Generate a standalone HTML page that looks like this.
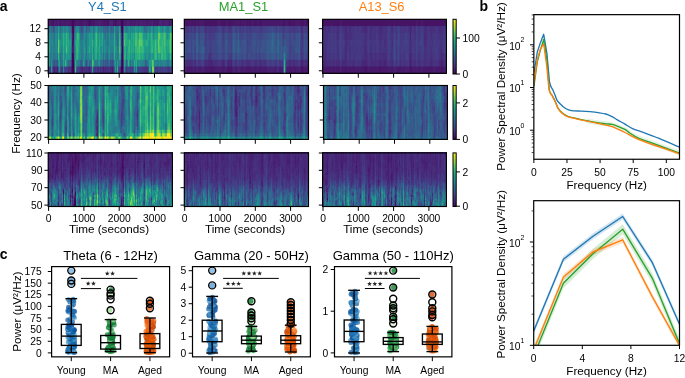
<!DOCTYPE html>
<html><head><meta charset="utf-8"><title>figure</title>
<style>
html,body{margin:0;padding:0;background:#fff;}
body{width:685px;height:378px;overflow:hidden;position:relative;}
canvas{position:absolute;display:block;}
svg{position:absolute;left:0;top:0;}
svg text{font-family:"Liberation Sans", sans-serif;}
</style></head><body>
<canvas id="s00" width="125" height="55" style="left:48px;top:19px;width:125px;height:55px;background:linear-gradient(#481b6d 0.5%,#481b6d 12.8%,#297a8e 12.8%,#297a8e 25.1%,#1f958b 25.1%,#1f958b 37.4%,#1e9c89 37.4%,#1e9c89 49.6%,#1f9a8a 49.6%,#1f9a8a 61.9%,#218f8d 61.9%,#218f8d 74.2%,#29798e 74.2%,#29798e 86.5%,#404688 86.5%,#404688 98.7%)"></canvas>
<canvas id="s01" width="125" height="55" style="left:184px;top:19px;width:125px;height:55px;background:linear-gradient(#481668 0.5%,#481668 12.8%,#433e85 12.8%,#433e85 25.1%,#3e4a89 25.1%,#3e4a89 37.4%,#3c508b 37.4%,#3c508b 49.6%,#3b518b 49.6%,#3b518b 61.9%,#3e4c8a 61.9%,#3e4c8a 74.2%,#463480 74.2%,#463480 86.5%,#481f70 86.5%,#481f70 98.7%)"></canvas>
<canvas id="s02" width="125" height="55" style="left:322px;top:19px;width:125px;height:55px;background:linear-gradient(#481467 0.5%,#481467 12.8%,#46327e 12.8%,#46327e 25.1%,#453581 25.1%,#453581 37.4%,#443983 37.4%,#443983 49.6%,#453882 49.6%,#453882 61.9%,#453581 61.9%,#453581 74.2%,#472e7c 74.2%,#472e7c 86.5%,#481a6c 86.5%,#481a6c 98.7%)"></canvas>
<canvas id="s10" width="125" height="55" style="left:48px;top:85px;width:125px;height:55px;background:linear-gradient(#23888e -0.9%,#23888e 1.7%,#24878e 1.7%,#24878e 7.8%,#24868e 7.8%,#24868e 14.0%,#24878e 14.0%,#24878e 20.1%,#24878e 20.1%,#24878e 26.2%,#23888e 26.2%,#23888e 32.4%,#238a8d 32.4%,#238a8d 38.5%,#238a8d 38.5%,#238a8d 44.6%,#23898e 44.6%,#23898e 50.7%,#23888e 50.7%,#23888e 56.9%,#24878e 56.9%,#24878e 63.0%,#24868e 63.0%,#24868e 69.1%,#24868e 69.1%,#24868e 75.3%,#23898e 75.3%,#23898e 81.4%,#21918c 81.4%,#21918c 87.5%,#1fa287 87.5%,#1fa287 93.7%,#7cd250 93.7%,#7cd250 99.8%,#70cf57 99.8%,#70cf57 100.7%)"></canvas>
<canvas id="s11" width="125" height="55" style="left:184px;top:85px;width:125px;height:55px;background:linear-gradient(#3c508b -0.9%,#3c508b 1.7%,#3c508b 1.7%,#3c508b 7.8%,#3c4f8a 7.8%,#3c4f8a 14.0%,#3c4f8a 14.0%,#3c4f8a 20.1%,#3c4f8a 20.1%,#3c4f8a 26.2%,#3c508b 26.2%,#3c508b 32.4%,#3c508b 32.4%,#3c508b 38.5%,#3b518b 38.5%,#3b518b 44.6%,#3b528b 44.6%,#3b528b 50.7%,#3b518b 50.7%,#3b518b 56.9%,#3b518b 56.9%,#3b518b 63.0%,#3b528b 63.0%,#3b528b 69.1%,#3a538b 69.1%,#3a538b 75.3%,#39558c 75.3%,#39558c 81.4%,#375a8c 81.4%,#375a8c 87.5%,#31668e 87.5%,#31668e 93.7%,#23898e 93.7%,#23898e 99.8%,#228b8d 99.8%,#228b8d 100.7%)"></canvas>
<canvas id="s12" width="125" height="55" style="left:323px;top:85px;width:125px;height:55px;background:linear-gradient(#375a8c -0.9%,#375a8c 1.7%,#38598c 1.7%,#38598c 7.8%,#375b8d 7.8%,#375b8d 14.0%,#375b8d 14.0%,#375b8d 20.1%,#365c8d 20.1%,#365c8d 26.2%,#375b8d 26.2%,#375b8d 32.4%,#375b8d 32.4%,#375b8d 38.5%,#375a8c 38.5%,#375a8c 44.6%,#375a8c 44.6%,#375a8c 50.7%,#375a8c 50.7%,#375a8c 56.9%,#38588c 56.9%,#38588c 63.0%,#38588c 63.0%,#38588c 69.1%,#375a8c 69.1%,#375a8c 75.3%,#375a8c 75.3%,#375a8c 81.4%,#375b8d 81.4%,#375b8d 87.5%,#355e8d 87.5%,#355e8d 93.7%,#31688e 93.7%,#31688e 99.8%,#31678e 99.8%,#31678e 100.7%)"></canvas>
<canvas id="s20" width="125" height="55" style="left:48px;top:152px;width:125px;height:55px;background:linear-gradient(#482677 -0.2%,#482677 1.3%,#482677 1.3%,#482677 4.3%,#482677 4.3%,#482677 7.4%,#482878 7.4%,#482878 10.5%,#482878 10.5%,#482878 13.6%,#482677 13.6%,#482677 16.7%,#482677 16.7%,#482677 19.7%,#482878 19.7%,#482878 22.8%,#482878 22.8%,#482878 25.9%,#482979 25.9%,#482979 29.0%,#472a7a 29.0%,#472a7a 32.1%,#472c7a 32.1%,#472c7a 35.2%,#472e7c 35.2%,#472e7c 38.2%,#46307e 38.2%,#46307e 41.3%,#463480 41.3%,#463480 44.4%,#443983 44.4%,#443983 47.5%,#423f85 47.5%,#423f85 50.6%,#404688 50.6%,#404688 53.6%,#3c4f8a 53.6%,#3c4f8a 56.7%,#375a8c 56.7%,#375a8c 59.8%,#33628d 59.8%,#33628d 62.9%,#30698e 62.9%,#30698e 66.0%,#2d708e 66.0%,#2d708e 69.1%,#2a778e 69.1%,#2a778e 72.1%,#297a8e 72.1%,#297a8e 75.2%,#277f8e 75.2%,#277f8e 78.3%,#25848e 78.3%,#25848e 81.4%,#26828e 81.4%,#26828e 84.5%,#26828e 84.5%,#26828e 87.6%,#26828e 87.6%,#26828e 90.6%,#26828e 90.6%,#26828e 93.7%,#277f8e 93.7%,#277f8e 96.8%,#277f8e 96.8%,#277f8e 99.9%,#287d8e 99.9%,#287d8e 100.9%)"></canvas>
<canvas id="s21" width="125" height="55" style="left:184px;top:152px;width:125px;height:55px;background:linear-gradient(#472a7a -0.2%,#472a7a 1.3%,#482979 1.3%,#482979 4.3%,#482979 4.3%,#482979 7.4%,#482979 7.4%,#482979 10.5%,#482979 10.5%,#482979 13.6%,#482979 13.6%,#482979 16.7%,#482979 16.7%,#482979 19.7%,#482979 19.7%,#482979 22.8%,#482979 22.8%,#482979 25.9%,#472a7a 25.9%,#472a7a 29.0%,#472a7a 29.0%,#472a7a 32.1%,#472c7a 32.1%,#472c7a 35.2%,#472d7b 35.2%,#472d7b 38.2%,#472e7c 38.2%,#472e7c 41.3%,#472f7d 41.3%,#472f7d 44.4%,#46307e 44.4%,#46307e 47.5%,#46327e 47.5%,#46327e 50.6%,#453581 50.6%,#453581 53.6%,#453882 53.6%,#453882 56.7%,#433d84 56.7%,#433d84 59.8%,#424086 59.8%,#424086 62.9%,#404688 62.9%,#404688 66.0%,#3e4c8a 66.0%,#3e4c8a 69.1%,#3b518b 69.1%,#3b518b 72.1%,#39568c 72.1%,#39568c 75.2%,#375a8c 75.2%,#375a8c 78.3%,#355e8d 78.3%,#355e8d 81.4%,#34618d 81.4%,#34618d 84.5%,#32658e 84.5%,#32658e 87.6%,#31688e 87.6%,#31688e 90.6%,#30698e 90.6%,#30698e 93.7%,#306a8e 93.7%,#306a8e 96.8%,#2e6d8e 96.8%,#2e6d8e 99.9%,#2e6d8e 99.9%,#2e6d8e 100.9%)"></canvas>
<canvas id="s22" width="125" height="55" style="left:322px;top:152px;width:125px;height:55px;background:linear-gradient(#482878 -0.2%,#482878 1.3%,#482979 1.3%,#482979 4.3%,#482878 4.3%,#482878 7.4%,#482878 7.4%,#482878 10.5%,#482878 10.5%,#482878 13.6%,#482878 13.6%,#482878 16.7%,#482878 16.7%,#482878 19.7%,#482979 19.7%,#482979 22.8%,#482979 22.8%,#482979 25.9%,#482979 25.9%,#482979 29.0%,#472a7a 29.0%,#472a7a 32.1%,#472a7a 32.1%,#472a7a 35.2%,#472c7a 35.2%,#472c7a 38.2%,#472e7c 38.2%,#472e7c 41.3%,#472f7d 41.3%,#472f7d 44.4%,#46327e 44.4%,#46327e 47.5%,#463480 47.5%,#463480 50.6%,#453882 50.6%,#453882 53.6%,#433d84 53.6%,#433d84 56.7%,#414287 56.7%,#414287 59.8%,#3f4889 59.8%,#3f4889 62.9%,#3c4f8a 62.9%,#3c4f8a 66.0%,#39558c 66.0%,#39558c 69.1%,#365c8d 69.1%,#365c8d 72.1%,#34608d 72.1%,#34608d 75.2%,#33628d 75.2%,#33628d 78.3%,#31678e 78.3%,#31678e 81.4%,#30698e 81.4%,#30698e 84.5%,#2f6b8e 84.5%,#2f6b8e 87.6%,#306a8e 87.6%,#306a8e 90.6%,#2f6c8e 90.6%,#2f6c8e 93.7%,#306a8e 93.7%,#306a8e 96.8%,#2e6d8e 96.8%,#2e6d8e 99.9%,#2f6c8e 99.9%,#2f6c8e 100.9%)"></canvas>
<svg width="685" height="378" viewBox="0 0 685 378">
<defs><linearGradient id="vir" x1="0" y1="0" x2="0" y2="1"><stop offset="0.00" stop-color="#fde725"/><stop offset="0.10" stop-color="#bddf26"/><stop offset="0.20" stop-color="#7ad151"/><stop offset="0.30" stop-color="#44bf70"/><stop offset="0.40" stop-color="#22a884"/><stop offset="0.50" stop-color="#21918c"/><stop offset="0.60" stop-color="#2a788e"/><stop offset="0.70" stop-color="#355f8d"/><stop offset="0.80" stop-color="#414487"/><stop offset="0.90" stop-color="#482475"/><stop offset="1.00" stop-color="#440154"/></linearGradient></defs>
<rect x="48.20" y="19.30" width="124.20" height="54.00" fill="none" stroke="#000" stroke-width="1.15"/>
<rect x="184.30" y="19.30" width="124.20" height="54.00" fill="none" stroke="#000" stroke-width="1.15"/>
<rect x="322.60" y="19.30" width="123.80" height="54.00" fill="none" stroke="#000" stroke-width="1.15"/>
<rect x="48.20" y="85.50" width="124.20" height="53.90" fill="none" stroke="#000" stroke-width="1.15"/>
<rect x="184.30" y="85.50" width="124.20" height="53.90" fill="none" stroke="#000" stroke-width="1.15"/>
<rect x="323.50" y="85.50" width="123.90" height="53.90" fill="none" stroke="#000" stroke-width="1.15"/>
<rect x="48.20" y="152.90" width="124.20" height="53.60" fill="none" stroke="#000" stroke-width="1.15"/>
<rect x="184.30" y="152.90" width="124.20" height="53.60" fill="none" stroke="#000" stroke-width="1.15"/>
<rect x="322.60" y="152.90" width="123.80" height="53.60" fill="none" stroke="#000" stroke-width="1.15"/>
<line x1="44.40" y1="70.80" x2="48.20" y2="70.80" stroke="#000" stroke-width="1.0"/>
<text x="40.90" y="74.46" font-size="10.3" text-anchor="end">0</text>
<line x1="44.40" y1="56.80" x2="48.20" y2="56.80" stroke="#000" stroke-width="1.0"/>
<text x="40.90" y="60.46" font-size="10.3" text-anchor="end">4</text>
<line x1="44.40" y1="42.80" x2="48.20" y2="42.80" stroke="#000" stroke-width="1.0"/>
<text x="40.90" y="46.46" font-size="10.3" text-anchor="end">8</text>
<line x1="44.40" y1="28.70" x2="48.20" y2="28.70" stroke="#000" stroke-width="1.0"/>
<text x="40.90" y="32.36" font-size="10.3" text-anchor="end">12</text>
<line x1="48.60" y1="73.30" x2="48.60" y2="77.70" stroke="#000" stroke-width="1.0"/>
<line x1="83.90" y1="73.30" x2="83.90" y2="77.70" stroke="#000" stroke-width="1.0"/>
<line x1="119.20" y1="73.30" x2="119.20" y2="77.70" stroke="#000" stroke-width="1.0"/>
<line x1="154.50" y1="73.30" x2="154.50" y2="77.70" stroke="#000" stroke-width="1.0"/>
<line x1="180.50" y1="70.80" x2="184.30" y2="70.80" stroke="#000" stroke-width="1.0"/>
<line x1="180.50" y1="56.80" x2="184.30" y2="56.80" stroke="#000" stroke-width="1.0"/>
<line x1="180.50" y1="42.80" x2="184.30" y2="42.80" stroke="#000" stroke-width="1.0"/>
<line x1="180.50" y1="28.70" x2="184.30" y2="28.70" stroke="#000" stroke-width="1.0"/>
<line x1="184.70" y1="73.30" x2="184.70" y2="77.70" stroke="#000" stroke-width="1.0"/>
<line x1="220.00" y1="73.30" x2="220.00" y2="77.70" stroke="#000" stroke-width="1.0"/>
<line x1="255.30" y1="73.30" x2="255.30" y2="77.70" stroke="#000" stroke-width="1.0"/>
<line x1="290.60" y1="73.30" x2="290.60" y2="77.70" stroke="#000" stroke-width="1.0"/>
<line x1="318.80" y1="70.80" x2="322.60" y2="70.80" stroke="#000" stroke-width="1.0"/>
<line x1="318.80" y1="56.80" x2="322.60" y2="56.80" stroke="#000" stroke-width="1.0"/>
<line x1="318.80" y1="42.80" x2="322.60" y2="42.80" stroke="#000" stroke-width="1.0"/>
<line x1="318.80" y1="28.70" x2="322.60" y2="28.70" stroke="#000" stroke-width="1.0"/>
<line x1="323.00" y1="73.30" x2="323.00" y2="77.70" stroke="#000" stroke-width="1.0"/>
<line x1="358.30" y1="73.30" x2="358.30" y2="77.70" stroke="#000" stroke-width="1.0"/>
<line x1="393.60" y1="73.30" x2="393.60" y2="77.70" stroke="#000" stroke-width="1.0"/>
<line x1="428.90" y1="73.30" x2="428.90" y2="77.70" stroke="#000" stroke-width="1.0"/>
<line x1="44.40" y1="137.30" x2="48.20" y2="137.30" stroke="#000" stroke-width="1.0"/>
<text x="41.80" y="140.96" font-size="10.3" text-anchor="end">20</text>
<line x1="44.40" y1="120.00" x2="48.20" y2="120.00" stroke="#000" stroke-width="1.0"/>
<text x="41.80" y="123.66" font-size="10.3" text-anchor="end">30</text>
<line x1="44.40" y1="102.70" x2="48.20" y2="102.70" stroke="#000" stroke-width="1.0"/>
<text x="41.80" y="106.36" font-size="10.3" text-anchor="end">40</text>
<line x1="44.40" y1="85.50" x2="48.20" y2="85.50" stroke="#000" stroke-width="1.0"/>
<text x="41.80" y="89.16" font-size="10.3" text-anchor="end">50</text>
<line x1="48.60" y1="139.40" x2="48.60" y2="143.80" stroke="#000" stroke-width="1.0"/>
<line x1="83.90" y1="139.40" x2="83.90" y2="143.80" stroke="#000" stroke-width="1.0"/>
<line x1="119.20" y1="139.40" x2="119.20" y2="143.80" stroke="#000" stroke-width="1.0"/>
<line x1="154.50" y1="139.40" x2="154.50" y2="143.80" stroke="#000" stroke-width="1.0"/>
<line x1="180.50" y1="137.30" x2="184.30" y2="137.30" stroke="#000" stroke-width="1.0"/>
<line x1="180.50" y1="120.00" x2="184.30" y2="120.00" stroke="#000" stroke-width="1.0"/>
<line x1="180.50" y1="102.70" x2="184.30" y2="102.70" stroke="#000" stroke-width="1.0"/>
<line x1="180.50" y1="85.50" x2="184.30" y2="85.50" stroke="#000" stroke-width="1.0"/>
<line x1="184.70" y1="139.40" x2="184.70" y2="143.80" stroke="#000" stroke-width="1.0"/>
<line x1="220.00" y1="139.40" x2="220.00" y2="143.80" stroke="#000" stroke-width="1.0"/>
<line x1="255.30" y1="139.40" x2="255.30" y2="143.80" stroke="#000" stroke-width="1.0"/>
<line x1="290.60" y1="139.40" x2="290.60" y2="143.80" stroke="#000" stroke-width="1.0"/>
<line x1="319.70" y1="137.30" x2="323.50" y2="137.30" stroke="#000" stroke-width="1.0"/>
<line x1="319.70" y1="120.00" x2="323.50" y2="120.00" stroke="#000" stroke-width="1.0"/>
<line x1="319.70" y1="102.70" x2="323.50" y2="102.70" stroke="#000" stroke-width="1.0"/>
<line x1="319.70" y1="85.50" x2="323.50" y2="85.50" stroke="#000" stroke-width="1.0"/>
<line x1="323.90" y1="139.40" x2="323.90" y2="143.80" stroke="#000" stroke-width="1.0"/>
<line x1="359.20" y1="139.40" x2="359.20" y2="143.80" stroke="#000" stroke-width="1.0"/>
<line x1="394.50" y1="139.40" x2="394.50" y2="143.80" stroke="#000" stroke-width="1.0"/>
<line x1="429.80" y1="139.40" x2="429.80" y2="143.80" stroke="#000" stroke-width="1.0"/>
<line x1="44.40" y1="205.10" x2="48.20" y2="205.10" stroke="#000" stroke-width="1.0"/>
<text x="42.50" y="208.76" font-size="10.3" text-anchor="end">50</text>
<line x1="44.40" y1="187.70" x2="48.20" y2="187.70" stroke="#000" stroke-width="1.0"/>
<text x="42.50" y="191.36" font-size="10.3" text-anchor="end">70</text>
<line x1="44.40" y1="170.30" x2="48.20" y2="170.30" stroke="#000" stroke-width="1.0"/>
<text x="42.50" y="173.96" font-size="10.3" text-anchor="end">90</text>
<line x1="44.40" y1="153.00" x2="48.20" y2="153.00" stroke="#000" stroke-width="1.0"/>
<text x="42.50" y="156.66" font-size="10.3" text-anchor="end">110</text>
<line x1="48.60" y1="206.50" x2="48.60" y2="210.90" stroke="#000" stroke-width="1.0"/>
<text x="48.60" y="221.96" font-size="10.3" text-anchor="middle">0</text>
<line x1="83.90" y1="206.50" x2="83.90" y2="210.90" stroke="#000" stroke-width="1.0"/>
<text x="83.90" y="221.96" font-size="10.3" text-anchor="middle">1000</text>
<line x1="119.20" y1="206.50" x2="119.20" y2="210.90" stroke="#000" stroke-width="1.0"/>
<text x="119.20" y="221.96" font-size="10.3" text-anchor="middle">2000</text>
<line x1="154.50" y1="206.50" x2="154.50" y2="210.90" stroke="#000" stroke-width="1.0"/>
<text x="154.50" y="221.96" font-size="10.3" text-anchor="middle">3000</text>
<text x="109.00" y="232.90" font-size="11.7" text-anchor="middle">Time (seconds)</text>
<line x1="180.50" y1="205.10" x2="184.30" y2="205.10" stroke="#000" stroke-width="1.0"/>
<line x1="180.50" y1="187.70" x2="184.30" y2="187.70" stroke="#000" stroke-width="1.0"/>
<line x1="180.50" y1="170.30" x2="184.30" y2="170.30" stroke="#000" stroke-width="1.0"/>
<line x1="180.50" y1="153.00" x2="184.30" y2="153.00" stroke="#000" stroke-width="1.0"/>
<line x1="184.70" y1="206.50" x2="184.70" y2="210.90" stroke="#000" stroke-width="1.0"/>
<text x="184.70" y="221.96" font-size="10.3" text-anchor="middle">0</text>
<line x1="220.00" y1="206.50" x2="220.00" y2="210.90" stroke="#000" stroke-width="1.0"/>
<text x="220.00" y="221.96" font-size="10.3" text-anchor="middle">1000</text>
<line x1="255.30" y1="206.50" x2="255.30" y2="210.90" stroke="#000" stroke-width="1.0"/>
<text x="255.30" y="221.96" font-size="10.3" text-anchor="middle">2000</text>
<line x1="290.60" y1="206.50" x2="290.60" y2="210.90" stroke="#000" stroke-width="1.0"/>
<text x="290.60" y="221.96" font-size="10.3" text-anchor="middle">3000</text>
<text x="245.10" y="232.90" font-size="11.7" text-anchor="middle">Time (seconds)</text>
<line x1="318.80" y1="205.10" x2="322.60" y2="205.10" stroke="#000" stroke-width="1.0"/>
<line x1="318.80" y1="187.70" x2="322.60" y2="187.70" stroke="#000" stroke-width="1.0"/>
<line x1="318.80" y1="170.30" x2="322.60" y2="170.30" stroke="#000" stroke-width="1.0"/>
<line x1="318.80" y1="153.00" x2="322.60" y2="153.00" stroke="#000" stroke-width="1.0"/>
<line x1="323.00" y1="206.50" x2="323.00" y2="210.90" stroke="#000" stroke-width="1.0"/>
<text x="323.00" y="221.96" font-size="10.3" text-anchor="middle">0</text>
<line x1="358.30" y1="206.50" x2="358.30" y2="210.90" stroke="#000" stroke-width="1.0"/>
<text x="358.30" y="221.96" font-size="10.3" text-anchor="middle">1000</text>
<line x1="393.60" y1="206.50" x2="393.60" y2="210.90" stroke="#000" stroke-width="1.0"/>
<text x="393.60" y="221.96" font-size="10.3" text-anchor="middle">2000</text>
<line x1="428.90" y1="206.50" x2="428.90" y2="210.90" stroke="#000" stroke-width="1.0"/>
<text x="428.90" y="221.96" font-size="10.3" text-anchor="middle">3000</text>
<text x="383.20" y="232.90" font-size="11.7" text-anchor="middle">Time (seconds)</text>
<text x="107.40" y="11.00" font-size="12.9" text-anchor="middle" fill="#1f77b4">Y4_S1</text>
<text x="243.50" y="11.00" font-size="12.9" text-anchor="middle" fill="#2ca02c">MA1_S1</text>
<text x="381.60" y="11.00" font-size="12.9" text-anchor="middle" fill="#ff7f0e">A13_S6</text>
<text x="20.40" y="113.60" font-size="11.7" text-anchor="middle" transform="rotate(-90 20.40 113.60)">Frequency (Hz)</text>
<rect x="453.00" y="19.30" width="3.20" height="54.70" fill="url(#vir)" stroke="#000" stroke-width="1"/>
<line x1="456.20" y1="74.00" x2="460.00" y2="74.00" stroke="#000" stroke-width="1.0"/>
<text x="462.50" y="77.66" font-size="10.3">0</text>
<line x1="456.20" y1="38.00" x2="460.00" y2="38.00" stroke="#000" stroke-width="1.0"/>
<text x="462.50" y="41.66" font-size="10.3">100</text>
<rect x="453.00" y="85.50" width="3.20" height="53.90" fill="url(#vir)" stroke="#000" stroke-width="1"/>
<line x1="456.20" y1="139.40" x2="460.00" y2="139.40" stroke="#000" stroke-width="1.0"/>
<text x="462.50" y="143.06" font-size="10.3">0</text>
<line x1="456.20" y1="102.90" x2="460.00" y2="102.90" stroke="#000" stroke-width="1.0"/>
<text x="462.50" y="106.56" font-size="10.3">2</text>
<rect x="453.00" y="152.90" width="3.20" height="53.60" fill="url(#vir)" stroke="#000" stroke-width="1"/>
<line x1="456.20" y1="206.20" x2="460.00" y2="206.20" stroke="#000" stroke-width="1.0"/>
<text x="462.50" y="209.86" font-size="10.3">0</text>
<line x1="456.20" y1="171.90" x2="460.00" y2="171.90" stroke="#000" stroke-width="1.0"/>
<text x="462.50" y="175.56" font-size="10.3">2</text>
<line x1="530.05" y1="44.80" x2="533.85" y2="44.80" stroke="#000" stroke-width="1.0"/>
<text x="524.45" y="49.66" font-size="10.3" text-anchor="end">10<tspan dy="-7.2" font-size="6.9">2</tspan></text>
<line x1="530.05" y1="87.50" x2="533.85" y2="87.50" stroke="#000" stroke-width="1.0"/>
<text x="524.45" y="92.36" font-size="10.3" text-anchor="end">10<tspan dy="-7.2" font-size="6.9">1</tspan></text>
<line x1="530.05" y1="130.20" x2="533.85" y2="130.20" stroke="#000" stroke-width="1.0"/>
<text x="524.45" y="135.06" font-size="10.3" text-anchor="end">10<tspan dy="-7.2" font-size="6.9">0</tspan></text>
<line x1="531.65" y1="152.53" x2="533.85" y2="152.53" stroke="#000" stroke-width="0.7"/>
<line x1="531.65" y1="147.19" x2="533.85" y2="147.19" stroke="#000" stroke-width="0.7"/>
<line x1="531.65" y1="143.05" x2="533.85" y2="143.05" stroke="#000" stroke-width="0.7"/>
<line x1="531.65" y1="139.67" x2="533.85" y2="139.67" stroke="#000" stroke-width="0.7"/>
<line x1="531.65" y1="136.81" x2="533.85" y2="136.81" stroke="#000" stroke-width="0.7"/>
<line x1="531.65" y1="134.34" x2="533.85" y2="134.34" stroke="#000" stroke-width="0.7"/>
<line x1="531.65" y1="132.15" x2="533.85" y2="132.15" stroke="#000" stroke-width="0.7"/>
<line x1="531.65" y1="117.35" x2="533.85" y2="117.35" stroke="#000" stroke-width="0.7"/>
<line x1="531.65" y1="109.83" x2="533.85" y2="109.83" stroke="#000" stroke-width="0.7"/>
<line x1="531.65" y1="104.49" x2="533.85" y2="104.49" stroke="#000" stroke-width="0.7"/>
<line x1="531.65" y1="100.35" x2="533.85" y2="100.35" stroke="#000" stroke-width="0.7"/>
<line x1="531.65" y1="96.97" x2="533.85" y2="96.97" stroke="#000" stroke-width="0.7"/>
<line x1="531.65" y1="94.11" x2="533.85" y2="94.11" stroke="#000" stroke-width="0.7"/>
<line x1="531.65" y1="91.64" x2="533.85" y2="91.64" stroke="#000" stroke-width="0.7"/>
<line x1="531.65" y1="89.45" x2="533.85" y2="89.45" stroke="#000" stroke-width="0.7"/>
<line x1="531.65" y1="74.65" x2="533.85" y2="74.65" stroke="#000" stroke-width="0.7"/>
<line x1="531.65" y1="67.13" x2="533.85" y2="67.13" stroke="#000" stroke-width="0.7"/>
<line x1="531.65" y1="61.79" x2="533.85" y2="61.79" stroke="#000" stroke-width="0.7"/>
<line x1="531.65" y1="57.65" x2="533.85" y2="57.65" stroke="#000" stroke-width="0.7"/>
<line x1="531.65" y1="54.27" x2="533.85" y2="54.27" stroke="#000" stroke-width="0.7"/>
<line x1="531.65" y1="51.41" x2="533.85" y2="51.41" stroke="#000" stroke-width="0.7"/>
<line x1="531.65" y1="48.94" x2="533.85" y2="48.94" stroke="#000" stroke-width="0.7"/>
<line x1="531.65" y1="46.75" x2="533.85" y2="46.75" stroke="#000" stroke-width="0.7"/>
<line x1="531.65" y1="31.95" x2="533.85" y2="31.95" stroke="#000" stroke-width="0.7"/>
<line x1="531.65" y1="24.43" x2="533.85" y2="24.43" stroke="#000" stroke-width="0.7"/>
<line x1="531.65" y1="19.09" x2="533.85" y2="19.09" stroke="#000" stroke-width="0.7"/>
<line x1="531.65" y1="14.95" x2="533.85" y2="14.95" stroke="#000" stroke-width="0.7"/>
<line x1="533.85" y1="159.25" x2="533.85" y2="163.05" stroke="#000" stroke-width="1.0"/>
<text x="533.85" y="175.86" font-size="10.3" text-anchor="middle">0</text>
<line x1="566.96" y1="159.25" x2="566.96" y2="163.05" stroke="#000" stroke-width="1.0"/>
<text x="566.96" y="175.86" font-size="10.3" text-anchor="middle">25</text>
<line x1="600.08" y1="159.25" x2="600.08" y2="163.05" stroke="#000" stroke-width="1.0"/>
<text x="600.08" y="175.86" font-size="10.3" text-anchor="middle">50</text>
<line x1="633.19" y1="159.25" x2="633.19" y2="163.05" stroke="#000" stroke-width="1.0"/>
<text x="633.19" y="175.86" font-size="10.3" text-anchor="middle">75</text>
<line x1="666.30" y1="159.25" x2="666.30" y2="163.05" stroke="#000" stroke-width="1.0"/>
<text x="666.30" y="175.86" font-size="10.3" text-anchor="middle">100</text>
<text x="606.67" y="189.00" font-size="11.7" text-anchor="middle">Frequency (Hz)</text>
<text x="504.60" y="86.60" font-size="11.7" text-anchor="middle" transform="rotate(-90 504.60 86.60)">Power Spectral Density (μV²/Hz)</text>
<line x1="529.90" y1="242.00" x2="533.70" y2="242.00" stroke="#000" stroke-width="1.0"/>
<text x="524.30" y="246.86" font-size="10.3" text-anchor="end">10<tspan dy="-7.2" font-size="6.9">2</tspan></text>
<line x1="529.90" y1="345.30" x2="533.70" y2="345.30" stroke="#000" stroke-width="1.0"/>
<text x="524.30" y="350.16" font-size="10.3" text-anchor="end">10<tspan dy="-7.2" font-size="6.9">1</tspan></text>
<line x1="531.50" y1="314.20" x2="533.70" y2="314.20" stroke="#000" stroke-width="0.7"/>
<line x1="531.50" y1="296.01" x2="533.70" y2="296.01" stroke="#000" stroke-width="0.7"/>
<line x1="531.50" y1="283.11" x2="533.70" y2="283.11" stroke="#000" stroke-width="0.7"/>
<line x1="531.50" y1="273.10" x2="533.70" y2="273.10" stroke="#000" stroke-width="0.7"/>
<line x1="531.50" y1="264.92" x2="533.70" y2="264.92" stroke="#000" stroke-width="0.7"/>
<line x1="531.50" y1="258.00" x2="533.70" y2="258.00" stroke="#000" stroke-width="0.7"/>
<line x1="531.50" y1="252.01" x2="533.70" y2="252.01" stroke="#000" stroke-width="0.7"/>
<line x1="531.50" y1="246.73" x2="533.70" y2="246.73" stroke="#000" stroke-width="0.7"/>
<line x1="531.50" y1="210.90" x2="533.70" y2="210.90" stroke="#000" stroke-width="0.7"/>
<line x1="533.70" y1="345.30" x2="533.70" y2="349.10" stroke="#000" stroke-width="1.0"/>
<text x="533.70" y="362.16" font-size="10.3" text-anchor="middle">0</text>
<line x1="582.30" y1="345.30" x2="582.30" y2="349.10" stroke="#000" stroke-width="1.0"/>
<text x="582.30" y="362.16" font-size="10.3" text-anchor="middle">4</text>
<line x1="630.90" y1="345.30" x2="630.90" y2="349.10" stroke="#000" stroke-width="1.0"/>
<text x="630.90" y="362.16" font-size="10.3" text-anchor="middle">8</text>
<line x1="679.50" y1="345.30" x2="679.50" y2="349.10" stroke="#000" stroke-width="1.0"/>
<text x="679.50" y="362.16" font-size="10.3" text-anchor="middle">12</text>
<text x="606.60" y="374.50" font-size="11.7" text-anchor="middle">Frequency (Hz)</text>
<text x="504.60" y="274.20" font-size="11.7" text-anchor="middle" transform="rotate(-90 504.60 274.20)">Power Spectral Density (μV²/Hz)</text>
<clipPath id="cpt"><rect x="533.85" y="14.65" width="145.64999999999998" height="144.6"/></clipPath>
<clipPath id="cpb"><rect x="533.7" y="200.7" width="145.79999999999995" height="144.60000000000002"/></clipPath>
<g clip-path="url(#cpt)">
<polygon points="586.7,118.2 597.3,120.2 605.8,121.3 612.1,121.9 618.4,124.2 625.0,126.9 630.0,130.7 637.9,135.3 653.8,141.2 679.5,150.6 679.5,155.6 653.8,146.2 637.9,140.3 630.0,135.7 625.0,131.9 618.4,129.2 612.1,126.9 605.8,126.3 597.3,125.2 586.7,123.2" fill="#2ca02c" fill-opacity="0.13" stroke="none"/>
<path d="M533.90,73.50L537.30,52.00L540.50,42.40L543.70,34.30L546.90,53.30L549.40,81.30C550.40,87.43 551.97,87.82 552.90,90.10C553.83,92.38 554.30,93.30 555.00,95.00C555.70,96.70 556.22,98.80 557.10,100.30C557.98,101.80 559.07,102.77 560.30,104.00C561.53,105.23 563.10,106.73 564.50,107.70C565.90,108.67 567.12,109.27 568.70,109.80C570.28,110.33 571.88,110.68 574.00,110.90C576.12,111.12 578.75,110.97 581.40,111.10C584.05,111.23 586.90,111.42 589.90,111.70C592.90,111.98 596.75,112.42 599.40,112.80C602.05,113.18 603.87,113.45 605.80,114.00C607.73,114.55 609.07,115.13 611.00,116.10C612.93,117.07 615.07,118.47 617.40,119.80C619.73,121.13 622.47,122.63 625.00,124.10C627.53,125.57 629.57,127.23 632.60,128.60C635.63,129.97 638.78,130.67 643.20,132.30C647.62,133.93 653.05,135.92 659.10,138.40C665.15,140.88 676.10,145.73 679.50,147.20" fill="none" stroke="#1f77b4" stroke-width="1.35" stroke-linejoin="round"/>
<path d="M533.90,86.50L537.30,61.90L540.50,49.70L543.70,39.50L546.90,59.80L549.20,89.00C550.07,94.90 551.13,93.22 552.10,95.20C553.07,97.18 553.98,98.72 555.00,100.90C556.02,103.08 556.97,106.27 558.20,108.30C559.43,110.33 560.82,111.77 562.40,113.10C563.98,114.43 565.42,115.42 567.70,116.30C569.98,117.18 572.93,117.67 576.10,118.40C579.27,119.13 583.17,119.98 586.70,120.70C590.23,121.42 594.12,122.18 597.30,122.70C600.48,123.22 603.33,123.52 605.80,123.80C608.27,124.08 610.00,123.92 612.10,124.40C614.20,124.88 616.25,125.87 618.40,126.70C620.55,127.53 623.07,128.32 625.00,129.40C626.93,130.48 627.85,131.80 630.00,133.20C632.15,134.60 633.93,136.05 637.90,137.80C641.87,139.55 646.87,141.15 653.80,143.70C660.73,146.25 675.22,151.53 679.50,153.10" fill="none" stroke="#2ca02c" stroke-width="1.35" stroke-linejoin="round"/>
<path d="M533.90,83.70L537.30,59.30L540.50,48.90L543.70,44.00L546.90,67.50L549.00,89.60C549.87,94.28 551.10,93.65 552.10,95.60C553.10,97.55 553.98,99.12 555.00,101.30C556.02,103.48 556.97,106.67 558.20,108.70C559.43,110.73 560.82,112.17 562.40,113.50C563.98,114.83 565.42,115.82 567.70,116.70C569.98,117.58 572.93,118.05 576.10,118.80C579.27,119.55 583.17,120.45 586.70,121.20C590.23,121.95 594.12,122.65 597.30,123.30C600.48,123.95 603.33,124.53 605.80,125.10C608.27,125.67 610.00,125.98 612.10,126.70C614.20,127.42 616.25,128.43 618.40,129.40C620.55,130.37 621.75,130.87 625.00,132.50C628.25,134.13 633.10,137.12 637.90,139.20C642.70,141.28 646.87,142.57 653.80,145.00C660.73,147.43 675.22,152.33 679.50,153.80" fill="none" stroke="#ff7f0e" stroke-width="1.35" stroke-linejoin="round"/>
</g>
<g clip-path="url(#cpb)">
<polygon points="533.7,327.9 563.4,256.3 593.0,233.2 622.7,213.5 652.4,259.7 682.0,326.9 682.0,332.9 652.4,265.7 622.7,219.5 593.0,239.2 563.4,262.3 533.7,333.9" fill="#1f77b4" fill-opacity="0.2" stroke="none"/>
<polygon points="533.7,350.9 563.4,278.3 593.0,248.7 622.7,224.2 652.4,273.3 682.0,344.7 682.0,354.7 652.4,283.3 622.7,234.2 593.0,258.7 563.4,288.3 533.7,360.9" fill="#2ca02c" fill-opacity="0.2" stroke="none"/>
<polygon points="533.7,346.7 563.4,274.0 593.0,249.0 622.7,236.9 652.4,293.9 682.0,347.0 682.0,353.0 652.4,299.9 622.7,242.9 593.0,255.0 563.4,280.0 533.7,352.7" fill="#ff7f0e" fill-opacity="0.2" stroke="none"/>
<polyline points="533.7,330.9 563.4,259.3 593.0,236.2 622.7,216.5 652.4,262.7 682.0,329.9" fill="none" stroke="#1f77b4" stroke-width="1.35" stroke-linejoin="round"/>
<polyline points="533.7,355.9 563.4,283.3 593.0,253.7 622.7,229.2 652.4,278.3 682.0,349.7" fill="none" stroke="#2ca02c" stroke-width="1.35" stroke-linejoin="round"/>
<polyline points="533.7,349.7 563.4,277.0 593.0,252.0 622.7,239.9 652.4,296.9 682.0,350.0" fill="none" stroke="#ff7f0e" stroke-width="1.35" stroke-linejoin="round"/>
</g>
<rect x="533.85" y="14.65" width="145.65" height="144.60" stroke="#000" stroke-width="1.2" fill="none"/>
<rect x="533.70" y="200.70" width="145.80" height="144.60" stroke="#000" stroke-width="1.2" fill="none"/>
<line x1="47.80" y1="352.90" x2="51.60" y2="352.90" stroke="#000" stroke-width="1.0"/>
<text x="41.70" y="356.56" font-size="10.3" text-anchor="end">0</text>
<line x1="47.80" y1="341.27" x2="51.60" y2="341.27" stroke="#000" stroke-width="1.0"/>
<text x="41.70" y="344.93" font-size="10.3" text-anchor="end">25</text>
<line x1="47.80" y1="329.64" x2="51.60" y2="329.64" stroke="#000" stroke-width="1.0"/>
<text x="41.70" y="333.30" font-size="10.3" text-anchor="end">50</text>
<line x1="47.80" y1="318.02" x2="51.60" y2="318.02" stroke="#000" stroke-width="1.0"/>
<text x="41.70" y="321.67" font-size="10.3" text-anchor="end">75</text>
<line x1="47.80" y1="306.39" x2="51.60" y2="306.39" stroke="#000" stroke-width="1.0"/>
<text x="41.70" y="310.05" font-size="10.3" text-anchor="end">100</text>
<line x1="47.80" y1="294.76" x2="51.60" y2="294.76" stroke="#000" stroke-width="1.0"/>
<text x="41.70" y="298.42" font-size="10.3" text-anchor="end">125</text>
<line x1="47.80" y1="283.13" x2="51.60" y2="283.13" stroke="#000" stroke-width="1.0"/>
<text x="41.70" y="286.79" font-size="10.3" text-anchor="end">150</text>
<line x1="47.80" y1="271.51" x2="51.60" y2="271.51" stroke="#000" stroke-width="1.0"/>
<text x="41.70" y="275.16" font-size="10.3" text-anchor="end">175</text>
<text x="110.60" y="260.20" font-size="13.0" text-anchor="middle">Theta (6 - 12Hz)</text>
<line x1="71.27" y1="356.85" x2="71.27" y2="361.15" stroke="#000" stroke-width="1.0"/>
<text x="71.27" y="373.60" font-size="10.3" text-anchor="middle">Young</text>
<rect x="61.37" y="324.40" width="19.8" height="21.00" fill="#fff" stroke="none"/>
<circle cx="73.2" cy="352.5" r="2.5" fill="#6aaed6" fill-opacity="0.75"/>
<circle cx="74.2" cy="352.4" r="2.5" fill="#2171b5" fill-opacity="0.75"/>
<circle cx="68.8" cy="352.3" r="2.5" fill="#2b7bba" fill-opacity="0.75"/>
<circle cx="74.4" cy="351.9" r="2.5" fill="#1f77b4" fill-opacity="0.75"/>
<circle cx="67.7" cy="351.7" r="2.5" fill="#1f77b4" fill-opacity="0.75"/>
<circle cx="73.1" cy="351.6" r="2.5" fill="#4a98c9" fill-opacity="0.75"/>
<circle cx="73.5" cy="351.5" r="2.5" fill="#1f77b4" fill-opacity="0.75"/>
<circle cx="68.7" cy="351.3" r="2.5" fill="#1f77b4" fill-opacity="0.75"/>
<circle cx="70.7" cy="350.9" r="2.5" fill="#6aaed6" fill-opacity="0.75"/>
<circle cx="73.5" cy="350.0" r="2.5" fill="#6aaed6" fill-opacity="0.75"/>
<circle cx="67.8" cy="349.8" r="2.5" fill="#1a5e9e" fill-opacity="0.75"/>
<circle cx="72.2" cy="349.1" r="2.5" fill="#08519c" fill-opacity="0.75"/>
<circle cx="73.4" cy="348.8" r="2.5" fill="#6aaed6" fill-opacity="0.75"/>
<circle cx="71.4" cy="348.4" r="2.5" fill="#6aaed6" fill-opacity="0.75"/>
<circle cx="72.9" cy="348.3" r="2.5" fill="#2171b5" fill-opacity="0.75"/>
<circle cx="69.3" cy="348.3" r="2.5" fill="#4a98c9" fill-opacity="0.75"/>
<circle cx="69.1" cy="348.2" r="2.5" fill="#1f77b4" fill-opacity="0.75"/>
<circle cx="70.3" cy="348.0" r="2.5" fill="#1f6bb0" fill-opacity="0.75"/>
<circle cx="69.0" cy="347.4" r="2.5" fill="#2b7bba" fill-opacity="0.75"/>
<circle cx="70.2" cy="347.1" r="2.5" fill="#1a5e9e" fill-opacity="0.75"/>
<circle cx="74.5" cy="347.1" r="2.5" fill="#1a5e9e" fill-opacity="0.75"/>
<circle cx="71.8" cy="346.8" r="2.5" fill="#1f6bb0" fill-opacity="0.75"/>
<circle cx="70.1" cy="346.4" r="2.5" fill="#1764ab" fill-opacity="0.75"/>
<circle cx="69.6" cy="346.4" r="2.5" fill="#1f77b4" fill-opacity="0.75"/>
<circle cx="74.5" cy="346.1" r="2.5" fill="#2171b5" fill-opacity="0.75"/>
<circle cx="70.9" cy="345.7" r="2.5" fill="#1a5e9e" fill-opacity="0.75"/>
<circle cx="74.7" cy="345.7" r="2.5" fill="#2171b5" fill-opacity="0.75"/>
<circle cx="71.4" cy="345.5" r="2.5" fill="#1f77b4" fill-opacity="0.75"/>
<circle cx="71.4" cy="345.2" r="2.5" fill="#6aaed6" fill-opacity="0.75"/>
<circle cx="74.1" cy="344.7" r="2.5" fill="#1a5e9e" fill-opacity="0.75"/>
<circle cx="73.0" cy="344.3" r="2.5" fill="#1a5e9e" fill-opacity="0.75"/>
<circle cx="71.8" cy="343.5" r="2.5" fill="#2b7bba" fill-opacity="0.75"/>
<circle cx="70.7" cy="343.5" r="2.5" fill="#1f6bb0" fill-opacity="0.75"/>
<circle cx="74.0" cy="343.4" r="2.5" fill="#1f6bb0" fill-opacity="0.75"/>
<circle cx="70.6" cy="342.7" r="2.5" fill="#1a5e9e" fill-opacity="0.75"/>
<circle cx="74.3" cy="342.7" r="2.5" fill="#1764ab" fill-opacity="0.75"/>
<circle cx="68.2" cy="341.9" r="2.5" fill="#4a98c9" fill-opacity="0.75"/>
<circle cx="70.8" cy="341.5" r="2.5" fill="#08519c" fill-opacity="0.75"/>
<circle cx="71.4" cy="341.3" r="2.5" fill="#2b7bba" fill-opacity="0.75"/>
<circle cx="74.5" cy="341.0" r="2.5" fill="#1f6bb0" fill-opacity="0.75"/>
<circle cx="69.5" cy="340.9" r="2.5" fill="#4a98c9" fill-opacity="0.75"/>
<circle cx="73.5" cy="340.7" r="2.5" fill="#08519c" fill-opacity="0.75"/>
<circle cx="72.5" cy="340.6" r="2.5" fill="#2171b5" fill-opacity="0.75"/>
<circle cx="72.8" cy="340.3" r="2.5" fill="#2171b5" fill-opacity="0.75"/>
<circle cx="72.2" cy="339.7" r="2.5" fill="#2171b5" fill-opacity="0.75"/>
<circle cx="74.7" cy="339.4" r="2.5" fill="#4a98c9" fill-opacity="0.75"/>
<circle cx="70.1" cy="338.8" r="2.5" fill="#1a5e9e" fill-opacity="0.75"/>
<circle cx="70.5" cy="338.3" r="2.5" fill="#1f6bb0" fill-opacity="0.75"/>
<circle cx="69.1" cy="338.1" r="2.5" fill="#1a5e9e" fill-opacity="0.75"/>
<circle cx="68.0" cy="337.4" r="2.5" fill="#6aaed6" fill-opacity="0.75"/>
<circle cx="69.2" cy="337.3" r="2.5" fill="#1f77b4" fill-opacity="0.75"/>
<circle cx="74.3" cy="337.3" r="2.5" fill="#2171b5" fill-opacity="0.75"/>
<circle cx="73.7" cy="336.2" r="2.5" fill="#1764ab" fill-opacity="0.75"/>
<circle cx="68.5" cy="335.9" r="2.5" fill="#6aaed6" fill-opacity="0.75"/>
<circle cx="72.0" cy="335.7" r="2.5" fill="#1a5e9e" fill-opacity="0.75"/>
<circle cx="71.1" cy="335.6" r="2.5" fill="#08519c" fill-opacity="0.75"/>
<circle cx="71.9" cy="335.4" r="2.5" fill="#4a98c9" fill-opacity="0.75"/>
<circle cx="72.4" cy="335.4" r="2.5" fill="#08519c" fill-opacity="0.75"/>
<circle cx="69.9" cy="335.2" r="2.5" fill="#08519c" fill-opacity="0.75"/>
<circle cx="74.6" cy="335.0" r="2.5" fill="#6aaed6" fill-opacity="0.75"/>
<circle cx="71.0" cy="334.2" r="2.5" fill="#1f77b4" fill-opacity="0.75"/>
<circle cx="72.2" cy="333.9" r="2.5" fill="#1a5e9e" fill-opacity="0.75"/>
<circle cx="72.2" cy="333.7" r="2.5" fill="#4a98c9" fill-opacity="0.75"/>
<circle cx="69.0" cy="333.6" r="2.5" fill="#2b7bba" fill-opacity="0.75"/>
<circle cx="68.1" cy="332.8" r="2.5" fill="#08519c" fill-opacity="0.75"/>
<circle cx="70.6" cy="332.8" r="2.5" fill="#2171b5" fill-opacity="0.75"/>
<circle cx="73.2" cy="331.9" r="2.5" fill="#1f6bb0" fill-opacity="0.75"/>
<circle cx="73.5" cy="331.9" r="2.5" fill="#2b7bba" fill-opacity="0.75"/>
<circle cx="72.9" cy="331.5" r="2.5" fill="#08519c" fill-opacity="0.75"/>
<circle cx="68.5" cy="331.2" r="2.5" fill="#6aaed6" fill-opacity="0.75"/>
<circle cx="74.2" cy="330.8" r="2.5" fill="#2171b5" fill-opacity="0.75"/>
<circle cx="73.4" cy="330.4" r="2.5" fill="#2171b5" fill-opacity="0.75"/>
<circle cx="74.0" cy="330.2" r="2.5" fill="#08519c" fill-opacity="0.75"/>
<circle cx="71.4" cy="330.1" r="2.5" fill="#1f77b4" fill-opacity="0.75"/>
<circle cx="74.3" cy="329.6" r="2.5" fill="#08519c" fill-opacity="0.75"/>
<circle cx="68.0" cy="329.6" r="2.5" fill="#1a5e9e" fill-opacity="0.75"/>
<circle cx="67.9" cy="329.5" r="2.5" fill="#1a5e9e" fill-opacity="0.75"/>
<circle cx="67.8" cy="328.7" r="2.5" fill="#6aaed6" fill-opacity="0.75"/>
<circle cx="69.5" cy="328.5" r="2.5" fill="#08519c" fill-opacity="0.75"/>
<circle cx="69.5" cy="328.1" r="2.5" fill="#1a5e9e" fill-opacity="0.75"/>
<circle cx="69.0" cy="327.8" r="2.5" fill="#1f77b4" fill-opacity="0.75"/>
<circle cx="71.7" cy="327.5" r="2.5" fill="#2171b5" fill-opacity="0.75"/>
<circle cx="67.9" cy="327.1" r="2.5" fill="#08519c" fill-opacity="0.75"/>
<circle cx="71.9" cy="324.8" r="2.5" fill="#08519c" fill-opacity="0.75"/>
<circle cx="68.9" cy="324.3" r="2.5" fill="#08519c" fill-opacity="0.75"/>
<circle cx="72.5" cy="321.8" r="2.5" fill="#1764ab" fill-opacity="0.75"/>
<circle cx="67.8" cy="320.0" r="2.5" fill="#1a5e9e" fill-opacity="0.75"/>
<circle cx="69.9" cy="319.6" r="2.5" fill="#1764ab" fill-opacity="0.75"/>
<circle cx="74.4" cy="317.6" r="2.5" fill="#4a98c9" fill-opacity="0.75"/>
<circle cx="71.5" cy="317.1" r="2.5" fill="#6aaed6" fill-opacity="0.75"/>
<circle cx="73.5" cy="316.2" r="2.5" fill="#2b7bba" fill-opacity="0.75"/>
<circle cx="72.4" cy="314.6" r="2.5" fill="#1a5e9e" fill-opacity="0.75"/>
<circle cx="72.1" cy="314.4" r="2.5" fill="#2b7bba" fill-opacity="0.75"/>
<circle cx="69.0" cy="311.9" r="2.5" fill="#08519c" fill-opacity="0.75"/>
<circle cx="71.8" cy="311.8" r="2.5" fill="#1a5e9e" fill-opacity="0.75"/>
<circle cx="68.0" cy="311.7" r="2.5" fill="#6aaed6" fill-opacity="0.75"/>
<circle cx="73.4" cy="311.6" r="2.5" fill="#1a5e9e" fill-opacity="0.75"/>
<circle cx="74.6" cy="311.4" r="2.5" fill="#1a5e9e" fill-opacity="0.75"/>
<circle cx="73.8" cy="311.0" r="2.5" fill="#2171b5" fill-opacity="0.75"/>
<circle cx="68.0" cy="310.6" r="2.5" fill="#08519c" fill-opacity="0.75"/>
<circle cx="70.1" cy="309.3" r="2.5" fill="#1a5e9e" fill-opacity="0.75"/>
<circle cx="70.0" cy="308.6" r="2.5" fill="#2171b5" fill-opacity="0.75"/>
<circle cx="68.5" cy="307.2" r="2.5" fill="#08519c" fill-opacity="0.75"/>
<circle cx="72.2" cy="306.1" r="2.5" fill="#6aaed6" fill-opacity="0.75"/>
<circle cx="73.4" cy="304.4" r="2.5" fill="#1a5e9e" fill-opacity="0.75"/>
<circle cx="69.9" cy="302.1" r="2.5" fill="#2171b5" fill-opacity="0.75"/>
<circle cx="73.9" cy="302.0" r="2.5" fill="#4a98c9" fill-opacity="0.75"/>
<circle cx="73.4" cy="300.9" r="2.5" fill="#1a5e9e" fill-opacity="0.75"/>
<circle cx="68.6" cy="299.8" r="2.5" fill="#2171b5" fill-opacity="0.75"/>
<circle cx="73.2" cy="299.2" r="2.5" fill="#2171b5" fill-opacity="0.75"/>
<circle cx="71.4" cy="270.6" r="2.7" fill="#7fb6e2" fill-opacity="0.85"/>
<circle cx="71.2" cy="280.5" r="2.7" fill="#5fa2d8" fill-opacity="0.85"/>
<circle cx="71.8" cy="283.9" r="2.7" fill="#8cc0e8" fill-opacity="0.85"/>
<rect x="61.37" y="324.40" width="19.8" height="21.00" fill="none" stroke="#000" stroke-width="1.35"/>
<line x1="71.27" y1="324.40" x2="71.27" y2="298.70" stroke="#000" stroke-width="1.35"/>
<line x1="71.27" y1="345.40" x2="71.27" y2="352.60" stroke="#000" stroke-width="1.35"/>
<line x1="65.37" y1="298.70" x2="77.17" y2="298.70" stroke="#000" stroke-width="1.35"/>
<line x1="65.37" y1="352.60" x2="77.17" y2="352.60" stroke="#000" stroke-width="1.35"/>
<line x1="61.37" y1="336.10" x2="81.17" y2="336.10" stroke="#000" stroke-width="1.35"/>
<circle cx="71.3" cy="270.6" r="3.5" fill="none" stroke="#000" stroke-width="1.4"/>
<circle cx="71.3" cy="280.5" r="3.5" fill="none" stroke="#000" stroke-width="1.4"/>
<circle cx="71.3" cy="283.9" r="3.5" fill="none" stroke="#000" stroke-width="1.4"/>
<line x1="110.60" y1="356.85" x2="110.60" y2="361.15" stroke="#000" stroke-width="1.0"/>
<text x="110.60" y="373.60" font-size="10.3" text-anchor="middle">MA</text>
<rect x="100.70" y="335.50" width="19.8" height="13.60" fill="#fff" stroke="none"/>
<circle cx="110.1" cy="351.3" r="2.5" fill="#157f3b" fill-opacity="0.75"/>
<circle cx="110.0" cy="351.3" r="2.5" fill="#238b45" fill-opacity="0.75"/>
<circle cx="112.0" cy="351.2" r="2.5" fill="#41ab5d" fill-opacity="0.75"/>
<circle cx="113.0" cy="351.0" r="2.5" fill="#74c476" fill-opacity="0.75"/>
<circle cx="109.4" cy="350.9" r="2.5" fill="#1e8a3c" fill-opacity="0.75"/>
<circle cx="111.8" cy="350.9" r="2.5" fill="#157f3b" fill-opacity="0.75"/>
<circle cx="108.5" cy="350.7" r="2.5" fill="#238b45" fill-opacity="0.75"/>
<circle cx="111.0" cy="350.5" r="2.5" fill="#157f3b" fill-opacity="0.75"/>
<circle cx="112.5" cy="350.4" r="2.5" fill="#74c476" fill-opacity="0.75"/>
<circle cx="107.5" cy="350.4" r="2.5" fill="#74c476" fill-opacity="0.75"/>
<circle cx="112.2" cy="350.2" r="2.5" fill="#157f3b" fill-opacity="0.75"/>
<circle cx="107.1" cy="350.0" r="2.5" fill="#006d2c" fill-opacity="0.75"/>
<circle cx="113.9" cy="349.9" r="2.5" fill="#157f3b" fill-opacity="0.75"/>
<circle cx="110.4" cy="349.9" r="2.5" fill="#1e8a3c" fill-opacity="0.75"/>
<circle cx="109.9" cy="349.8" r="2.5" fill="#2f974e" fill-opacity="0.75"/>
<circle cx="112.2" cy="349.8" r="2.5" fill="#1b7a37" fill-opacity="0.75"/>
<circle cx="110.8" cy="349.8" r="2.5" fill="#1e8a3c" fill-opacity="0.75"/>
<circle cx="112.3" cy="349.7" r="2.5" fill="#006d2c" fill-opacity="0.75"/>
<circle cx="107.6" cy="349.5" r="2.5" fill="#006d2c" fill-opacity="0.75"/>
<circle cx="111.1" cy="349.4" r="2.5" fill="#41ab5d" fill-opacity="0.75"/>
<circle cx="111.0" cy="349.3" r="2.5" fill="#006d2c" fill-opacity="0.75"/>
<circle cx="113.7" cy="349.3" r="2.5" fill="#74c476" fill-opacity="0.75"/>
<circle cx="107.3" cy="349.2" r="2.5" fill="#157f3b" fill-opacity="0.75"/>
<circle cx="110.3" cy="349.1" r="2.5" fill="#41ab5d" fill-opacity="0.75"/>
<circle cx="111.5" cy="348.7" r="2.5" fill="#238b45" fill-opacity="0.75"/>
<circle cx="111.0" cy="348.3" r="2.5" fill="#1b7a37" fill-opacity="0.75"/>
<circle cx="107.5" cy="348.3" r="2.5" fill="#238b45" fill-opacity="0.75"/>
<circle cx="111.3" cy="347.8" r="2.5" fill="#1e8a3c" fill-opacity="0.75"/>
<circle cx="108.6" cy="347.5" r="2.5" fill="#238b45" fill-opacity="0.75"/>
<circle cx="108.4" cy="347.5" r="2.5" fill="#1b7a37" fill-opacity="0.75"/>
<circle cx="113.3" cy="347.4" r="2.5" fill="#157f3b" fill-opacity="0.75"/>
<circle cx="108.4" cy="347.1" r="2.5" fill="#2f974e" fill-opacity="0.75"/>
<circle cx="110.3" cy="345.4" r="2.5" fill="#238b45" fill-opacity="0.75"/>
<circle cx="112.4" cy="345.4" r="2.5" fill="#1b7a37" fill-opacity="0.75"/>
<circle cx="112.1" cy="343.9" r="2.5" fill="#a1d99b" fill-opacity="0.75"/>
<circle cx="111.0" cy="343.6" r="2.5" fill="#1b7a37" fill-opacity="0.75"/>
<circle cx="112.8" cy="343.4" r="2.5" fill="#1e8a3c" fill-opacity="0.75"/>
<circle cx="110.4" cy="343.1" r="2.5" fill="#1b7a37" fill-opacity="0.75"/>
<circle cx="111.5" cy="342.8" r="2.5" fill="#41ab5d" fill-opacity="0.75"/>
<circle cx="112.9" cy="342.6" r="2.5" fill="#157f3b" fill-opacity="0.75"/>
<circle cx="111.9" cy="342.5" r="2.5" fill="#006d2c" fill-opacity="0.75"/>
<circle cx="111.6" cy="342.3" r="2.5" fill="#006d2c" fill-opacity="0.75"/>
<circle cx="109.9" cy="342.2" r="2.5" fill="#238b45" fill-opacity="0.75"/>
<circle cx="111.0" cy="341.9" r="2.5" fill="#238b45" fill-opacity="0.75"/>
<circle cx="109.9" cy="341.7" r="2.5" fill="#1e8a3c" fill-opacity="0.75"/>
<circle cx="112.4" cy="340.5" r="2.5" fill="#006d2c" fill-opacity="0.75"/>
<circle cx="109.7" cy="339.9" r="2.5" fill="#157f3b" fill-opacity="0.75"/>
<circle cx="110.4" cy="339.8" r="2.5" fill="#a1d99b" fill-opacity="0.75"/>
<circle cx="112.4" cy="339.0" r="2.5" fill="#238b45" fill-opacity="0.75"/>
<circle cx="110.6" cy="338.6" r="2.5" fill="#238b45" fill-opacity="0.75"/>
<circle cx="109.4" cy="337.8" r="2.5" fill="#006d2c" fill-opacity="0.75"/>
<circle cx="113.0" cy="337.5" r="2.5" fill="#006d2c" fill-opacity="0.75"/>
<circle cx="109.7" cy="336.9" r="2.5" fill="#1e8a3c" fill-opacity="0.75"/>
<circle cx="113.1" cy="336.7" r="2.5" fill="#1b7a37" fill-opacity="0.75"/>
<circle cx="112.7" cy="336.4" r="2.5" fill="#157f3b" fill-opacity="0.75"/>
<circle cx="110.2" cy="335.9" r="2.5" fill="#157f3b" fill-opacity="0.75"/>
<circle cx="112.1" cy="335.1" r="2.5" fill="#238b45" fill-opacity="0.75"/>
<circle cx="107.2" cy="334.8" r="2.5" fill="#157f3b" fill-opacity="0.75"/>
<circle cx="109.8" cy="334.8" r="2.5" fill="#238b45" fill-opacity="0.75"/>
<circle cx="113.2" cy="334.3" r="2.5" fill="#238b45" fill-opacity="0.75"/>
<circle cx="111.2" cy="332.9" r="2.5" fill="#238b45" fill-opacity="0.75"/>
<circle cx="111.0" cy="332.2" r="2.5" fill="#238b45" fill-opacity="0.75"/>
<circle cx="111.8" cy="332.1" r="2.5" fill="#1b7a37" fill-opacity="0.75"/>
<circle cx="111.9" cy="330.5" r="2.5" fill="#a1d99b" fill-opacity="0.75"/>
<circle cx="111.2" cy="329.2" r="2.5" fill="#41ab5d" fill-opacity="0.75"/>
<circle cx="110.0" cy="328.5" r="2.5" fill="#238b45" fill-opacity="0.75"/>
<circle cx="108.3" cy="327.6" r="2.5" fill="#238b45" fill-opacity="0.75"/>
<circle cx="109.1" cy="327.2" r="2.5" fill="#157f3b" fill-opacity="0.75"/>
<circle cx="109.1" cy="326.7" r="2.5" fill="#41ab5d" fill-opacity="0.75"/>
<circle cx="110.1" cy="325.0" r="2.5" fill="#157f3b" fill-opacity="0.75"/>
<circle cx="114.2" cy="325.0" r="2.5" fill="#238b45" fill-opacity="0.75"/>
<circle cx="109.5" cy="324.9" r="2.5" fill="#1b7a37" fill-opacity="0.75"/>
<circle cx="110.2" cy="324.7" r="2.5" fill="#006d2c" fill-opacity="0.75"/>
<circle cx="109.7" cy="323.6" r="2.5" fill="#238b45" fill-opacity="0.75"/>
<circle cx="111.2" cy="323.3" r="2.5" fill="#238b45" fill-opacity="0.75"/>
<circle cx="113.8" cy="322.7" r="2.5" fill="#157f3b" fill-opacity="0.75"/>
<circle cx="113.4" cy="321.8" r="2.5" fill="#157f3b" fill-opacity="0.75"/>
<circle cx="109.7" cy="321.5" r="2.5" fill="#74c476" fill-opacity="0.75"/>
<circle cx="108.9" cy="320.9" r="2.5" fill="#238b45" fill-opacity="0.75"/>
<circle cx="113.4" cy="319.9" r="2.5" fill="#a1d99b" fill-opacity="0.75"/>
<circle cx="111.4" cy="289.6" r="2.7" fill="#2a8f45" fill-opacity="0.85"/>
<circle cx="110.9" cy="295.6" r="2.7" fill="#b5e0b0" fill-opacity="0.85"/>
<circle cx="109.7" cy="310.2" r="2.7" fill="#a6dba0" fill-opacity="0.85"/>
<rect x="100.70" y="335.50" width="19.8" height="13.60" fill="none" stroke="#000" stroke-width="1.35"/>
<line x1="110.60" y1="335.50" x2="110.60" y2="319.60" stroke="#000" stroke-width="1.35"/>
<line x1="110.60" y1="349.10" x2="110.60" y2="351.60" stroke="#000" stroke-width="1.35"/>
<line x1="104.70" y1="319.60" x2="116.50" y2="319.60" stroke="#000" stroke-width="1.35"/>
<line x1="104.70" y1="351.60" x2="116.50" y2="351.60" stroke="#000" stroke-width="1.35"/>
<line x1="100.70" y1="342.70" x2="120.50" y2="342.70" stroke="#000" stroke-width="1.35"/>
<circle cx="110.6" cy="289.6" r="3.5" fill="none" stroke="#000" stroke-width="1.4"/>
<circle cx="110.6" cy="293.5" r="3.5" fill="none" stroke="#000" stroke-width="1.4"/>
<circle cx="110.6" cy="295.6" r="3.5" fill="none" stroke="#000" stroke-width="1.4"/>
<circle cx="110.6" cy="299.2" r="3.5" fill="none" stroke="#000" stroke-width="1.4"/>
<circle cx="110.6" cy="310.2" r="3.5" fill="none" stroke="#000" stroke-width="1.4"/>
<line x1="149.93" y1="356.85" x2="149.93" y2="361.15" stroke="#000" stroke-width="1.0"/>
<text x="149.93" y="373.60" font-size="10.3" text-anchor="middle">Aged</text>
<rect x="140.03" y="333.60" width="19.8" height="14.90" fill="#fff" stroke="none"/>
<circle cx="150.1" cy="352.5" r="2.5" fill="#e6550d" fill-opacity="0.75"/>
<circle cx="148.8" cy="352.5" r="2.5" fill="#e6550d" fill-opacity="0.75"/>
<circle cx="152.1" cy="352.3" r="2.5" fill="#f16913" fill-opacity="0.75"/>
<circle cx="146.3" cy="352.2" r="2.5" fill="#c44e0e" fill-opacity="0.75"/>
<circle cx="148.0" cy="352.1" r="2.5" fill="#e6550d" fill-opacity="0.75"/>
<circle cx="152.6" cy="352.0" r="2.5" fill="#f16913" fill-opacity="0.75"/>
<circle cx="149.7" cy="351.6" r="2.5" fill="#e6550d" fill-opacity="0.75"/>
<circle cx="149.5" cy="351.5" r="2.5" fill="#d95f0e" fill-opacity="0.75"/>
<circle cx="153.9" cy="351.4" r="2.5" fill="#f16913" fill-opacity="0.75"/>
<circle cx="148.4" cy="351.3" r="2.5" fill="#cc4c02" fill-opacity="0.75"/>
<circle cx="146.1" cy="351.3" r="2.5" fill="#e25508" fill-opacity="0.75"/>
<circle cx="149.0" cy="351.2" r="2.5" fill="#cc4c02" fill-opacity="0.75"/>
<circle cx="147.0" cy="350.7" r="2.5" fill="#b84a0e" fill-opacity="0.75"/>
<circle cx="146.4" cy="350.7" r="2.5" fill="#d95f0e" fill-opacity="0.75"/>
<circle cx="150.5" cy="350.6" r="2.5" fill="#e6550d" fill-opacity="0.75"/>
<circle cx="153.7" cy="350.5" r="2.5" fill="#e6550d" fill-opacity="0.75"/>
<circle cx="150.6" cy="350.4" r="2.5" fill="#fd8d3c" fill-opacity="0.75"/>
<circle cx="151.2" cy="350.3" r="2.5" fill="#e25508" fill-opacity="0.75"/>
<circle cx="148.5" cy="349.8" r="2.5" fill="#b84a0e" fill-opacity="0.75"/>
<circle cx="150.5" cy="349.6" r="2.5" fill="#fd8d3c" fill-opacity="0.75"/>
<circle cx="152.1" cy="349.2" r="2.5" fill="#e6550d" fill-opacity="0.75"/>
<circle cx="150.7" cy="349.1" r="2.5" fill="#d94801" fill-opacity="0.75"/>
<circle cx="152.5" cy="349.1" r="2.5" fill="#e25508" fill-opacity="0.75"/>
<circle cx="150.4" cy="349.1" r="2.5" fill="#e6550d" fill-opacity="0.75"/>
<circle cx="147.4" cy="349.0" r="2.5" fill="#e6550d" fill-opacity="0.75"/>
<circle cx="150.6" cy="348.6" r="2.5" fill="#c44e0e" fill-opacity="0.75"/>
<circle cx="149.9" cy="348.2" r="2.5" fill="#e6550d" fill-opacity="0.75"/>
<circle cx="147.1" cy="348.1" r="2.5" fill="#e25508" fill-opacity="0.75"/>
<circle cx="150.9" cy="348.1" r="2.5" fill="#c44e0e" fill-opacity="0.75"/>
<circle cx="152.6" cy="348.1" r="2.5" fill="#b84a0e" fill-opacity="0.75"/>
<circle cx="146.9" cy="348.0" r="2.5" fill="#e25508" fill-opacity="0.75"/>
<circle cx="150.3" cy="348.0" r="2.5" fill="#e25508" fill-opacity="0.75"/>
<circle cx="151.9" cy="347.9" r="2.5" fill="#c44e0e" fill-opacity="0.75"/>
<circle cx="149.1" cy="347.8" r="2.5" fill="#e25508" fill-opacity="0.75"/>
<circle cx="148.0" cy="347.7" r="2.5" fill="#e6550d" fill-opacity="0.75"/>
<circle cx="148.9" cy="347.5" r="2.5" fill="#f16913" fill-opacity="0.75"/>
<circle cx="150.3" cy="347.4" r="2.5" fill="#b84a0e" fill-opacity="0.75"/>
<circle cx="151.5" cy="347.3" r="2.5" fill="#cc4c02" fill-opacity="0.75"/>
<circle cx="150.4" cy="347.2" r="2.5" fill="#d95f0e" fill-opacity="0.75"/>
<circle cx="146.6" cy="346.9" r="2.5" fill="#fd8d3c" fill-opacity="0.75"/>
<circle cx="152.6" cy="346.8" r="2.5" fill="#d94801" fill-opacity="0.75"/>
<circle cx="153.5" cy="346.0" r="2.5" fill="#d94801" fill-opacity="0.75"/>
<circle cx="146.6" cy="345.9" r="2.5" fill="#d94801" fill-opacity="0.75"/>
<circle cx="147.8" cy="345.6" r="2.5" fill="#c44e0e" fill-opacity="0.75"/>
<circle cx="147.2" cy="345.2" r="2.5" fill="#b84a0e" fill-opacity="0.75"/>
<circle cx="152.9" cy="344.7" r="2.5" fill="#c44e0e" fill-opacity="0.75"/>
<circle cx="153.4" cy="344.7" r="2.5" fill="#c44e0e" fill-opacity="0.75"/>
<circle cx="146.1" cy="344.6" r="2.5" fill="#d95f0e" fill-opacity="0.75"/>
<circle cx="148.5" cy="344.4" r="2.5" fill="#e6550d" fill-opacity="0.75"/>
<circle cx="147.4" cy="344.3" r="2.5" fill="#e6550d" fill-opacity="0.75"/>
<circle cx="149.7" cy="344.2" r="2.5" fill="#d95f0e" fill-opacity="0.75"/>
<circle cx="153.5" cy="343.4" r="2.5" fill="#b84a0e" fill-opacity="0.75"/>
<circle cx="146.3" cy="343.2" r="2.5" fill="#d94801" fill-opacity="0.75"/>
<circle cx="147.2" cy="343.1" r="2.5" fill="#d95f0e" fill-opacity="0.75"/>
<circle cx="149.8" cy="341.7" r="2.5" fill="#f16913" fill-opacity="0.75"/>
<circle cx="150.1" cy="340.9" r="2.5" fill="#e25508" fill-opacity="0.75"/>
<circle cx="152.0" cy="340.8" r="2.5" fill="#cc4c02" fill-opacity="0.75"/>
<circle cx="149.4" cy="339.9" r="2.5" fill="#d94801" fill-opacity="0.75"/>
<circle cx="146.9" cy="339.6" r="2.5" fill="#c44e0e" fill-opacity="0.75"/>
<circle cx="148.7" cy="339.3" r="2.5" fill="#d95f0e" fill-opacity="0.75"/>
<circle cx="154.0" cy="339.3" r="2.5" fill="#cc4c02" fill-opacity="0.75"/>
<circle cx="152.0" cy="339.2" r="2.5" fill="#e6550d" fill-opacity="0.75"/>
<circle cx="146.7" cy="338.5" r="2.5" fill="#b84a0e" fill-opacity="0.75"/>
<circle cx="152.5" cy="338.2" r="2.5" fill="#f16913" fill-opacity="0.75"/>
<circle cx="148.3" cy="337.1" r="2.5" fill="#e6550d" fill-opacity="0.75"/>
<circle cx="152.3" cy="337.0" r="2.5" fill="#d94801" fill-opacity="0.75"/>
<circle cx="145.8" cy="336.5" r="2.5" fill="#d94801" fill-opacity="0.75"/>
<circle cx="153.1" cy="336.4" r="2.5" fill="#d94801" fill-opacity="0.75"/>
<circle cx="147.1" cy="336.2" r="2.5" fill="#e6550d" fill-opacity="0.75"/>
<circle cx="149.6" cy="335.9" r="2.5" fill="#d94801" fill-opacity="0.75"/>
<circle cx="151.3" cy="335.7" r="2.5" fill="#d95f0e" fill-opacity="0.75"/>
<circle cx="150.0" cy="335.5" r="2.5" fill="#e6550d" fill-opacity="0.75"/>
<circle cx="147.1" cy="335.1" r="2.5" fill="#e6550d" fill-opacity="0.75"/>
<circle cx="146.9" cy="334.6" r="2.5" fill="#f16913" fill-opacity="0.75"/>
<circle cx="148.1" cy="334.6" r="2.5" fill="#cc4c02" fill-opacity="0.75"/>
<circle cx="146.2" cy="334.4" r="2.5" fill="#d95f0e" fill-opacity="0.75"/>
<circle cx="147.6" cy="334.1" r="2.5" fill="#b84a0e" fill-opacity="0.75"/>
<circle cx="146.8" cy="334.0" r="2.5" fill="#c44e0e" fill-opacity="0.75"/>
<circle cx="149.6" cy="333.3" r="2.5" fill="#c44e0e" fill-opacity="0.75"/>
<circle cx="148.7" cy="333.1" r="2.5" fill="#f16913" fill-opacity="0.75"/>
<circle cx="150.7" cy="332.7" r="2.5" fill="#f16913" fill-opacity="0.75"/>
<circle cx="148.1" cy="332.2" r="2.5" fill="#cc4c02" fill-opacity="0.75"/>
<circle cx="146.0" cy="331.3" r="2.5" fill="#f16913" fill-opacity="0.75"/>
<circle cx="148.5" cy="330.5" r="2.5" fill="#d94801" fill-opacity="0.75"/>
<circle cx="152.1" cy="330.2" r="2.5" fill="#c44e0e" fill-opacity="0.75"/>
<circle cx="147.9" cy="329.5" r="2.5" fill="#f16913" fill-opacity="0.75"/>
<circle cx="149.1" cy="328.5" r="2.5" fill="#f16913" fill-opacity="0.75"/>
<circle cx="152.1" cy="327.6" r="2.5" fill="#e6550d" fill-opacity="0.75"/>
<circle cx="149.1" cy="327.3" r="2.5" fill="#e25508" fill-opacity="0.75"/>
<circle cx="153.2" cy="327.1" r="2.5" fill="#d94801" fill-opacity="0.75"/>
<circle cx="153.4" cy="326.7" r="2.5" fill="#b84a0e" fill-opacity="0.75"/>
<circle cx="148.3" cy="326.6" r="2.5" fill="#f16913" fill-opacity="0.75"/>
<circle cx="151.9" cy="326.4" r="2.5" fill="#d94801" fill-opacity="0.75"/>
<circle cx="147.9" cy="326.3" r="2.5" fill="#e6550d" fill-opacity="0.75"/>
<circle cx="146.9" cy="325.2" r="2.5" fill="#fd8d3c" fill-opacity="0.75"/>
<circle cx="149.4" cy="325.1" r="2.5" fill="#d95f0e" fill-opacity="0.75"/>
<circle cx="150.8" cy="324.3" r="2.5" fill="#f16913" fill-opacity="0.75"/>
<circle cx="153.6" cy="323.3" r="2.5" fill="#c44e0e" fill-opacity="0.75"/>
<circle cx="147.0" cy="322.8" r="2.5" fill="#f16913" fill-opacity="0.75"/>
<circle cx="151.7" cy="322.5" r="2.5" fill="#d94801" fill-opacity="0.75"/>
<circle cx="149.7" cy="321.8" r="2.5" fill="#f16913" fill-opacity="0.75"/>
<circle cx="146.8" cy="321.0" r="2.5" fill="#e6550d" fill-opacity="0.75"/>
<circle cx="153.9" cy="320.9" r="2.5" fill="#d95f0e" fill-opacity="0.75"/>
<circle cx="151.6" cy="320.3" r="2.5" fill="#e6550d" fill-opacity="0.75"/>
<circle cx="146.8" cy="318.6" r="2.5" fill="#e6550d" fill-opacity="0.75"/>
<circle cx="150.7" cy="300.7" r="2.7" fill="#e0601a" fill-opacity="0.85"/>
<circle cx="149.6" cy="303.8" r="2.7" fill="#d9541a" fill-opacity="0.85"/>
<circle cx="149.6" cy="308.3" r="2.7" fill="#e8702a" fill-opacity="0.85"/>
<rect x="140.03" y="333.60" width="19.8" height="14.90" fill="none" stroke="#000" stroke-width="1.35"/>
<line x1="149.93" y1="333.60" x2="149.93" y2="318.00" stroke="#000" stroke-width="1.35"/>
<line x1="149.93" y1="348.50" x2="149.93" y2="352.60" stroke="#000" stroke-width="1.35"/>
<line x1="144.03" y1="318.00" x2="155.83" y2="318.00" stroke="#000" stroke-width="1.35"/>
<line x1="144.03" y1="352.60" x2="155.83" y2="352.60" stroke="#000" stroke-width="1.35"/>
<line x1="140.03" y1="343.70" x2="159.83" y2="343.70" stroke="#000" stroke-width="1.35"/>
<circle cx="149.9" cy="300.7" r="3.5" fill="none" stroke="#000" stroke-width="1.4"/>
<circle cx="149.9" cy="303.8" r="3.5" fill="none" stroke="#000" stroke-width="1.4"/>
<circle cx="149.9" cy="308.3" r="3.5" fill="none" stroke="#000" stroke-width="1.4"/>
<rect x="51.60" y="266.60" width="118.00" height="90.25" stroke="#000" stroke-width="1.2" fill="none"/>
<line x1="80.90" y1="278.40" x2="137.40" y2="278.40" stroke="#000" stroke-width="1.0"/>
<polygon points="107.25,271.10 107.87,272.75 109.63,272.83 108.25,273.92 108.72,275.62 107.25,274.65 105.78,275.62 106.25,273.92 104.87,272.83 106.63,272.75" fill="#222"/>
<polygon points="112.55,271.10 113.17,272.75 114.93,272.83 113.55,273.92 114.02,275.62 112.55,274.65 111.08,275.62 111.55,273.92 110.17,272.83 111.93,272.75" fill="#222"/>
<line x1="80.90" y1="288.60" x2="101.00" y2="288.60" stroke="#000" stroke-width="1.0"/>
<polygon points="88.15,281.10 88.77,282.75 90.53,282.83 89.15,283.92 89.62,285.62 88.15,284.65 86.68,285.62 87.15,283.92 85.77,282.83 87.53,282.75" fill="#222"/>
<polygon points="93.45,281.10 94.07,282.75 95.83,282.83 94.45,283.92 94.92,285.62 93.45,284.65 91.98,285.62 92.45,283.92 91.07,282.83 92.83,282.75" fill="#222"/>
<line x1="188.70" y1="353.20" x2="192.50" y2="353.20" stroke="#000" stroke-width="1.0"/>
<text x="186.20" y="356.86" font-size="10.3" text-anchor="end">0</text>
<line x1="188.70" y1="336.70" x2="192.50" y2="336.70" stroke="#000" stroke-width="1.0"/>
<text x="186.20" y="340.36" font-size="10.3" text-anchor="end">1</text>
<line x1="188.70" y1="320.20" x2="192.50" y2="320.20" stroke="#000" stroke-width="1.0"/>
<text x="186.20" y="323.86" font-size="10.3" text-anchor="end">2</text>
<line x1="188.70" y1="303.70" x2="192.50" y2="303.70" stroke="#000" stroke-width="1.0"/>
<text x="186.20" y="307.36" font-size="10.3" text-anchor="end">3</text>
<line x1="188.70" y1="287.20" x2="192.50" y2="287.20" stroke="#000" stroke-width="1.0"/>
<text x="186.20" y="290.86" font-size="10.3" text-anchor="end">4</text>
<line x1="188.70" y1="270.70" x2="192.50" y2="270.70" stroke="#000" stroke-width="1.0"/>
<text x="186.20" y="274.36" font-size="10.3" text-anchor="end">5</text>
<text x="251.45" y="260.20" font-size="13.0" text-anchor="middle">Gamma (20 - 50Hz)</text>
<line x1="212.15" y1="356.85" x2="212.15" y2="361.15" stroke="#000" stroke-width="1.0"/>
<text x="212.15" y="373.60" font-size="10.3" text-anchor="middle">Young</text>
<rect x="202.25" y="320.20" width="19.8" height="21.50" fill="#fff" stroke="none"/>
<circle cx="210.0" cy="352.6" r="2.5" fill="#08519c" fill-opacity="0.75"/>
<circle cx="212.3" cy="352.4" r="2.5" fill="#6aaed6" fill-opacity="0.75"/>
<circle cx="210.6" cy="352.3" r="2.5" fill="#4a98c9" fill-opacity="0.75"/>
<circle cx="209.5" cy="352.2" r="2.5" fill="#2b7bba" fill-opacity="0.75"/>
<circle cx="209.5" cy="351.4" r="2.5" fill="#1a5e9e" fill-opacity="0.75"/>
<circle cx="214.3" cy="350.9" r="2.5" fill="#1764ab" fill-opacity="0.75"/>
<circle cx="215.2" cy="350.5" r="2.5" fill="#08519c" fill-opacity="0.75"/>
<circle cx="209.6" cy="350.5" r="2.5" fill="#4a98c9" fill-opacity="0.75"/>
<circle cx="208.6" cy="350.4" r="2.5" fill="#6aaed6" fill-opacity="0.75"/>
<circle cx="210.4" cy="350.4" r="2.5" fill="#2b7bba" fill-opacity="0.75"/>
<circle cx="209.5" cy="350.0" r="2.5" fill="#6aaed6" fill-opacity="0.75"/>
<circle cx="209.9" cy="349.9" r="2.5" fill="#08519c" fill-opacity="0.75"/>
<circle cx="212.7" cy="349.1" r="2.5" fill="#6aaed6" fill-opacity="0.75"/>
<circle cx="211.6" cy="348.6" r="2.5" fill="#4a98c9" fill-opacity="0.75"/>
<circle cx="211.6" cy="348.6" r="2.5" fill="#08519c" fill-opacity="0.75"/>
<circle cx="210.0" cy="348.5" r="2.5" fill="#2171b5" fill-opacity="0.75"/>
<circle cx="213.3" cy="347.4" r="2.5" fill="#1f6bb0" fill-opacity="0.75"/>
<circle cx="210.6" cy="347.2" r="2.5" fill="#1a5e9e" fill-opacity="0.75"/>
<circle cx="211.4" cy="346.1" r="2.5" fill="#2b7bba" fill-opacity="0.75"/>
<circle cx="211.9" cy="345.2" r="2.5" fill="#1f77b4" fill-opacity="0.75"/>
<circle cx="215.1" cy="345.0" r="2.5" fill="#1a5e9e" fill-opacity="0.75"/>
<circle cx="210.3" cy="345.0" r="2.5" fill="#4a98c9" fill-opacity="0.75"/>
<circle cx="213.7" cy="344.2" r="2.5" fill="#2171b5" fill-opacity="0.75"/>
<circle cx="210.8" cy="344.0" r="2.5" fill="#1a5e9e" fill-opacity="0.75"/>
<circle cx="215.0" cy="343.8" r="2.5" fill="#6aaed6" fill-opacity="0.75"/>
<circle cx="211.4" cy="343.5" r="2.5" fill="#2b7bba" fill-opacity="0.75"/>
<circle cx="212.2" cy="342.0" r="2.5" fill="#2b7bba" fill-opacity="0.75"/>
<circle cx="214.9" cy="341.6" r="2.5" fill="#08519c" fill-opacity="0.75"/>
<circle cx="213.4" cy="341.3" r="2.5" fill="#1f77b4" fill-opacity="0.75"/>
<circle cx="209.2" cy="341.3" r="2.5" fill="#1f6bb0" fill-opacity="0.75"/>
<circle cx="209.5" cy="340.4" r="2.5" fill="#4a98c9" fill-opacity="0.75"/>
<circle cx="215.7" cy="340.1" r="2.5" fill="#1764ab" fill-opacity="0.75"/>
<circle cx="208.8" cy="340.0" r="2.5" fill="#6aaed6" fill-opacity="0.75"/>
<circle cx="210.7" cy="339.7" r="2.5" fill="#2b7bba" fill-opacity="0.75"/>
<circle cx="215.5" cy="339.1" r="2.5" fill="#4a98c9" fill-opacity="0.75"/>
<circle cx="208.7" cy="338.8" r="2.5" fill="#1764ab" fill-opacity="0.75"/>
<circle cx="209.7" cy="338.1" r="2.5" fill="#1a5e9e" fill-opacity="0.75"/>
<circle cx="210.1" cy="337.4" r="2.5" fill="#2b7bba" fill-opacity="0.75"/>
<circle cx="209.2" cy="336.2" r="2.5" fill="#2b7bba" fill-opacity="0.75"/>
<circle cx="211.9" cy="336.1" r="2.5" fill="#1a5e9e" fill-opacity="0.75"/>
<circle cx="212.8" cy="335.2" r="2.5" fill="#1a5e9e" fill-opacity="0.75"/>
<circle cx="210.8" cy="335.0" r="2.5" fill="#1764ab" fill-opacity="0.75"/>
<circle cx="209.3" cy="334.0" r="2.5" fill="#1f77b4" fill-opacity="0.75"/>
<circle cx="214.4" cy="333.8" r="2.5" fill="#6aaed6" fill-opacity="0.75"/>
<circle cx="214.3" cy="333.5" r="2.5" fill="#08519c" fill-opacity="0.75"/>
<circle cx="212.6" cy="333.0" r="2.5" fill="#1764ab" fill-opacity="0.75"/>
<circle cx="209.5" cy="332.5" r="2.5" fill="#6aaed6" fill-opacity="0.75"/>
<circle cx="212.5" cy="332.2" r="2.5" fill="#1764ab" fill-opacity="0.75"/>
<circle cx="213.1" cy="331.3" r="2.5" fill="#1a5e9e" fill-opacity="0.75"/>
<circle cx="211.6" cy="330.9" r="2.5" fill="#1f6bb0" fill-opacity="0.75"/>
<circle cx="214.8" cy="330.8" r="2.5" fill="#2171b5" fill-opacity="0.75"/>
<circle cx="211.4" cy="330.8" r="2.5" fill="#6aaed6" fill-opacity="0.75"/>
<circle cx="212.2" cy="330.8" r="2.5" fill="#1f6bb0" fill-opacity="0.75"/>
<circle cx="209.4" cy="330.8" r="2.5" fill="#6aaed6" fill-opacity="0.75"/>
<circle cx="212.6" cy="330.5" r="2.5" fill="#1f77b4" fill-opacity="0.75"/>
<circle cx="214.1" cy="330.2" r="2.5" fill="#2b7bba" fill-opacity="0.75"/>
<circle cx="213.8" cy="330.1" r="2.5" fill="#4a98c9" fill-opacity="0.75"/>
<circle cx="210.4" cy="329.3" r="2.5" fill="#08519c" fill-opacity="0.75"/>
<circle cx="215.7" cy="329.3" r="2.5" fill="#4a98c9" fill-opacity="0.75"/>
<circle cx="213.7" cy="329.2" r="2.5" fill="#1a5e9e" fill-opacity="0.75"/>
<circle cx="211.6" cy="329.0" r="2.5" fill="#6aaed6" fill-opacity="0.75"/>
<circle cx="211.5" cy="327.7" r="2.5" fill="#1a5e9e" fill-opacity="0.75"/>
<circle cx="214.2" cy="327.6" r="2.5" fill="#2171b5" fill-opacity="0.75"/>
<circle cx="209.8" cy="327.4" r="2.5" fill="#6aaed6" fill-opacity="0.75"/>
<circle cx="213.2" cy="326.6" r="2.5" fill="#1764ab" fill-opacity="0.75"/>
<circle cx="213.7" cy="325.9" r="2.5" fill="#2171b5" fill-opacity="0.75"/>
<circle cx="212.3" cy="325.7" r="2.5" fill="#1764ab" fill-opacity="0.75"/>
<circle cx="214.8" cy="325.7" r="2.5" fill="#1f6bb0" fill-opacity="0.75"/>
<circle cx="211.9" cy="325.7" r="2.5" fill="#1764ab" fill-opacity="0.75"/>
<circle cx="211.9" cy="324.9" r="2.5" fill="#1f77b4" fill-opacity="0.75"/>
<circle cx="210.6" cy="324.2" r="2.5" fill="#1a5e9e" fill-opacity="0.75"/>
<circle cx="215.2" cy="324.1" r="2.5" fill="#6aaed6" fill-opacity="0.75"/>
<circle cx="210.8" cy="323.7" r="2.5" fill="#2171b5" fill-opacity="0.75"/>
<circle cx="213.6" cy="323.4" r="2.5" fill="#1764ab" fill-opacity="0.75"/>
<circle cx="211.5" cy="322.7" r="2.5" fill="#1764ab" fill-opacity="0.75"/>
<circle cx="215.3" cy="322.4" r="2.5" fill="#1a5e9e" fill-opacity="0.75"/>
<circle cx="215.4" cy="321.8" r="2.5" fill="#4a98c9" fill-opacity="0.75"/>
<circle cx="208.8" cy="321.5" r="2.5" fill="#2b7bba" fill-opacity="0.75"/>
<circle cx="215.7" cy="321.1" r="2.5" fill="#1a5e9e" fill-opacity="0.75"/>
<circle cx="212.9" cy="316.7" r="2.5" fill="#1a5e9e" fill-opacity="0.75"/>
<circle cx="209.1" cy="315.8" r="2.5" fill="#1f6bb0" fill-opacity="0.75"/>
<circle cx="212.1" cy="315.1" r="2.5" fill="#2b7bba" fill-opacity="0.75"/>
<circle cx="208.9" cy="314.8" r="2.5" fill="#1a5e9e" fill-opacity="0.75"/>
<circle cx="212.5" cy="314.7" r="2.5" fill="#1a5e9e" fill-opacity="0.75"/>
<circle cx="209.9" cy="314.3" r="2.5" fill="#4a98c9" fill-opacity="0.75"/>
<circle cx="211.2" cy="313.8" r="2.5" fill="#1f6bb0" fill-opacity="0.75"/>
<circle cx="210.7" cy="313.7" r="2.5" fill="#4a98c9" fill-opacity="0.75"/>
<circle cx="212.9" cy="312.2" r="2.5" fill="#08519c" fill-opacity="0.75"/>
<circle cx="214.5" cy="310.5" r="2.5" fill="#1f6bb0" fill-opacity="0.75"/>
<circle cx="215.3" cy="309.8" r="2.5" fill="#1a5e9e" fill-opacity="0.75"/>
<circle cx="210.9" cy="309.1" r="2.5" fill="#6aaed6" fill-opacity="0.75"/>
<circle cx="212.7" cy="308.9" r="2.5" fill="#1a5e9e" fill-opacity="0.75"/>
<circle cx="208.6" cy="308.9" r="2.5" fill="#1f6bb0" fill-opacity="0.75"/>
<circle cx="211.2" cy="308.0" r="2.5" fill="#4a98c9" fill-opacity="0.75"/>
<circle cx="215.5" cy="306.9" r="2.5" fill="#1a5e9e" fill-opacity="0.75"/>
<circle cx="209.4" cy="306.8" r="2.5" fill="#1a5e9e" fill-opacity="0.75"/>
<circle cx="214.8" cy="306.2" r="2.5" fill="#08519c" fill-opacity="0.75"/>
<circle cx="213.2" cy="305.3" r="2.5" fill="#4a98c9" fill-opacity="0.75"/>
<circle cx="210.7" cy="303.5" r="2.5" fill="#08519c" fill-opacity="0.75"/>
<circle cx="214.2" cy="302.2" r="2.5" fill="#1a5e9e" fill-opacity="0.75"/>
<circle cx="210.6" cy="301.3" r="2.5" fill="#1a5e9e" fill-opacity="0.75"/>
<circle cx="215.0" cy="301.0" r="2.5" fill="#08519c" fill-opacity="0.75"/>
<circle cx="209.1" cy="300.9" r="2.5" fill="#6aaed6" fill-opacity="0.75"/>
<circle cx="209.4" cy="300.2" r="2.5" fill="#6aaed6" fill-opacity="0.75"/>
<circle cx="214.0" cy="300.0" r="2.5" fill="#1a5e9e" fill-opacity="0.75"/>
<circle cx="211.8" cy="299.2" r="2.5" fill="#4a98c9" fill-opacity="0.75"/>
<circle cx="209.6" cy="298.8" r="2.5" fill="#08519c" fill-opacity="0.75"/>
<circle cx="212.2" cy="298.5" r="2.5" fill="#2171b5" fill-opacity="0.75"/>
<circle cx="210.7" cy="298.2" r="2.5" fill="#1a5e9e" fill-opacity="0.75"/>
<circle cx="212.5" cy="297.3" r="2.5" fill="#1a5e9e" fill-opacity="0.75"/>
<circle cx="212.3" cy="270.6" r="2.7" fill="#7fb6e2" fill-opacity="0.85"/>
<circle cx="212.2" cy="285.4" r="2.7" fill="#5fa2d8" fill-opacity="0.85"/>
<rect x="202.25" y="320.20" width="19.8" height="21.50" fill="none" stroke="#000" stroke-width="1.35"/>
<line x1="212.15" y1="320.20" x2="212.15" y2="296.40" stroke="#000" stroke-width="1.35"/>
<line x1="212.15" y1="341.70" x2="212.15" y2="353.00" stroke="#000" stroke-width="1.35"/>
<line x1="206.25" y1="296.40" x2="218.05" y2="296.40" stroke="#000" stroke-width="1.35"/>
<line x1="206.25" y1="353.00" x2="218.05" y2="353.00" stroke="#000" stroke-width="1.35"/>
<line x1="202.25" y1="331.00" x2="222.05" y2="331.00" stroke="#000" stroke-width="1.35"/>
<circle cx="212.2" cy="270.6" r="3.5" fill="none" stroke="#000" stroke-width="1.4"/>
<circle cx="212.2" cy="285.4" r="3.5" fill="none" stroke="#000" stroke-width="1.4"/>
<line x1="251.45" y1="356.85" x2="251.45" y2="361.15" stroke="#000" stroke-width="1.0"/>
<text x="251.45" y="373.60" font-size="10.3" text-anchor="middle">MA</text>
<rect x="241.55" y="336.10" width="19.8" height="7.60" fill="#fff" stroke="none"/>
<circle cx="248.3" cy="350.9" r="2.5" fill="#1e8a3c" fill-opacity="0.75"/>
<circle cx="253.5" cy="350.7" r="2.5" fill="#41ab5d" fill-opacity="0.75"/>
<circle cx="253.7" cy="349.9" r="2.5" fill="#238b45" fill-opacity="0.75"/>
<circle cx="252.6" cy="349.8" r="2.5" fill="#157f3b" fill-opacity="0.75"/>
<circle cx="250.2" cy="349.7" r="2.5" fill="#006d2c" fill-opacity="0.75"/>
<circle cx="252.6" cy="349.7" r="2.5" fill="#1b7a37" fill-opacity="0.75"/>
<circle cx="248.5" cy="348.9" r="2.5" fill="#238b45" fill-opacity="0.75"/>
<circle cx="252.6" cy="348.4" r="2.5" fill="#238b45" fill-opacity="0.75"/>
<circle cx="252.0" cy="347.5" r="2.5" fill="#157f3b" fill-opacity="0.75"/>
<circle cx="252.3" cy="347.4" r="2.5" fill="#238b45" fill-opacity="0.75"/>
<circle cx="251.1" cy="347.0" r="2.5" fill="#157f3b" fill-opacity="0.75"/>
<circle cx="249.5" cy="346.7" r="2.5" fill="#006d2c" fill-opacity="0.75"/>
<circle cx="253.1" cy="346.1" r="2.5" fill="#238b45" fill-opacity="0.75"/>
<circle cx="251.2" cy="345.9" r="2.5" fill="#41ab5d" fill-opacity="0.75"/>
<circle cx="253.2" cy="345.6" r="2.5" fill="#157f3b" fill-opacity="0.75"/>
<circle cx="250.5" cy="345.2" r="2.5" fill="#1b7a37" fill-opacity="0.75"/>
<circle cx="248.5" cy="344.1" r="2.5" fill="#74c476" fill-opacity="0.75"/>
<circle cx="251.8" cy="343.9" r="2.5" fill="#74c476" fill-opacity="0.75"/>
<circle cx="252.3" cy="343.5" r="2.5" fill="#a1d99b" fill-opacity="0.75"/>
<circle cx="254.5" cy="343.3" r="2.5" fill="#74c476" fill-opacity="0.75"/>
<circle cx="254.2" cy="343.2" r="2.5" fill="#238b45" fill-opacity="0.75"/>
<circle cx="248.3" cy="343.1" r="2.5" fill="#238b45" fill-opacity="0.75"/>
<circle cx="253.4" cy="342.6" r="2.5" fill="#74c476" fill-opacity="0.75"/>
<circle cx="249.7" cy="342.6" r="2.5" fill="#006d2c" fill-opacity="0.75"/>
<circle cx="252.9" cy="342.4" r="2.5" fill="#006d2c" fill-opacity="0.75"/>
<circle cx="250.6" cy="342.3" r="2.5" fill="#238b45" fill-opacity="0.75"/>
<circle cx="250.2" cy="342.2" r="2.5" fill="#74c476" fill-opacity="0.75"/>
<circle cx="251.4" cy="342.1" r="2.5" fill="#1b7a37" fill-opacity="0.75"/>
<circle cx="251.7" cy="342.1" r="2.5" fill="#238b45" fill-opacity="0.75"/>
<circle cx="252.9" cy="341.7" r="2.5" fill="#2f974e" fill-opacity="0.75"/>
<circle cx="252.4" cy="341.5" r="2.5" fill="#1e8a3c" fill-opacity="0.75"/>
<circle cx="252.7" cy="341.4" r="2.5" fill="#1e8a3c" fill-opacity="0.75"/>
<circle cx="250.6" cy="341.0" r="2.5" fill="#238b45" fill-opacity="0.75"/>
<circle cx="252.7" cy="341.0" r="2.5" fill="#157f3b" fill-opacity="0.75"/>
<circle cx="250.3" cy="340.8" r="2.5" fill="#1e8a3c" fill-opacity="0.75"/>
<circle cx="252.2" cy="340.7" r="2.5" fill="#157f3b" fill-opacity="0.75"/>
<circle cx="251.2" cy="340.3" r="2.5" fill="#74c476" fill-opacity="0.75"/>
<circle cx="251.9" cy="340.2" r="2.5" fill="#238b45" fill-opacity="0.75"/>
<circle cx="248.0" cy="340.1" r="2.5" fill="#238b45" fill-opacity="0.75"/>
<circle cx="251.4" cy="340.1" r="2.5" fill="#a1d99b" fill-opacity="0.75"/>
<circle cx="249.4" cy="339.8" r="2.5" fill="#1b7a37" fill-opacity="0.75"/>
<circle cx="250.6" cy="339.7" r="2.5" fill="#2f974e" fill-opacity="0.75"/>
<circle cx="248.4" cy="339.4" r="2.5" fill="#41ab5d" fill-opacity="0.75"/>
<circle cx="252.6" cy="339.3" r="2.5" fill="#1e8a3c" fill-opacity="0.75"/>
<circle cx="254.3" cy="338.6" r="2.5" fill="#a1d99b" fill-opacity="0.75"/>
<circle cx="250.4" cy="338.3" r="2.5" fill="#41ab5d" fill-opacity="0.75"/>
<circle cx="248.6" cy="338.3" r="2.5" fill="#006d2c" fill-opacity="0.75"/>
<circle cx="252.3" cy="338.2" r="2.5" fill="#74c476" fill-opacity="0.75"/>
<circle cx="248.8" cy="338.0" r="2.5" fill="#2f974e" fill-opacity="0.75"/>
<circle cx="254.3" cy="337.7" r="2.5" fill="#006d2c" fill-opacity="0.75"/>
<circle cx="248.7" cy="337.6" r="2.5" fill="#157f3b" fill-opacity="0.75"/>
<circle cx="250.5" cy="337.5" r="2.5" fill="#1e8a3c" fill-opacity="0.75"/>
<circle cx="251.4" cy="337.4" r="2.5" fill="#2f974e" fill-opacity="0.75"/>
<circle cx="248.7" cy="337.2" r="2.5" fill="#238b45" fill-opacity="0.75"/>
<circle cx="250.1" cy="337.1" r="2.5" fill="#1e8a3c" fill-opacity="0.75"/>
<circle cx="249.8" cy="336.8" r="2.5" fill="#1e8a3c" fill-opacity="0.75"/>
<circle cx="253.0" cy="336.8" r="2.5" fill="#a1d99b" fill-opacity="0.75"/>
<circle cx="255.0" cy="336.7" r="2.5" fill="#1e8a3c" fill-opacity="0.75"/>
<circle cx="250.5" cy="336.6" r="2.5" fill="#1b7a37" fill-opacity="0.75"/>
<circle cx="253.5" cy="336.4" r="2.5" fill="#a1d99b" fill-opacity="0.75"/>
<circle cx="248.9" cy="336.3" r="2.5" fill="#238b45" fill-opacity="0.75"/>
<circle cx="252.0" cy="336.3" r="2.5" fill="#a1d99b" fill-opacity="0.75"/>
<circle cx="251.0" cy="335.1" r="2.5" fill="#74c476" fill-opacity="0.75"/>
<circle cx="249.9" cy="334.3" r="2.5" fill="#238b45" fill-opacity="0.75"/>
<circle cx="253.8" cy="332.7" r="2.5" fill="#157f3b" fill-opacity="0.75"/>
<circle cx="253.2" cy="332.3" r="2.5" fill="#238b45" fill-opacity="0.75"/>
<circle cx="248.8" cy="331.4" r="2.5" fill="#238b45" fill-opacity="0.75"/>
<circle cx="250.0" cy="330.7" r="2.5" fill="#238b45" fill-opacity="0.75"/>
<circle cx="253.8" cy="330.4" r="2.5" fill="#1e8a3c" fill-opacity="0.75"/>
<circle cx="255.0" cy="330.2" r="2.5" fill="#157f3b" fill-opacity="0.75"/>
<circle cx="252.3" cy="329.8" r="2.5" fill="#a1d99b" fill-opacity="0.75"/>
<circle cx="254.1" cy="329.7" r="2.5" fill="#2f974e" fill-opacity="0.75"/>
<circle cx="254.9" cy="328.8" r="2.5" fill="#a1d99b" fill-opacity="0.75"/>
<circle cx="253.2" cy="328.8" r="2.5" fill="#006d2c" fill-opacity="0.75"/>
<circle cx="252.5" cy="328.4" r="2.5" fill="#238b45" fill-opacity="0.75"/>
<circle cx="249.4" cy="328.0" r="2.5" fill="#2f974e" fill-opacity="0.75"/>
<circle cx="250.5" cy="327.7" r="2.5" fill="#238b45" fill-opacity="0.75"/>
<circle cx="252.3" cy="327.5" r="2.5" fill="#41ab5d" fill-opacity="0.75"/>
<circle cx="254.5" cy="326.8" r="2.5" fill="#a1d99b" fill-opacity="0.75"/>
<circle cx="250.0" cy="326.4" r="2.5" fill="#1e8a3c" fill-opacity="0.75"/>
<circle cx="250.8" cy="301.3" r="2.7" fill="#1e8a3c" fill-opacity="0.85"/>
<circle cx="250.7" cy="312.5" r="2.7" fill="#2a8f45" fill-opacity="0.85"/>
<circle cx="251.8" cy="315.5" r="2.7" fill="#74c476" fill-opacity="0.85"/>
<circle cx="251.4" cy="318.2" r="2.7" fill="#1e8a3c" fill-opacity="0.85"/>
<circle cx="250.5" cy="321.4" r="2.7" fill="#a6dba0" fill-opacity="0.85"/>
<rect x="241.55" y="336.10" width="19.8" height="7.60" fill="none" stroke="#000" stroke-width="1.35"/>
<line x1="251.45" y1="336.10" x2="251.45" y2="326.40" stroke="#000" stroke-width="1.35"/>
<line x1="251.45" y1="343.70" x2="251.45" y2="351.20" stroke="#000" stroke-width="1.35"/>
<line x1="245.55" y1="326.40" x2="257.35" y2="326.40" stroke="#000" stroke-width="1.35"/>
<line x1="245.55" y1="351.20" x2="257.35" y2="351.20" stroke="#000" stroke-width="1.35"/>
<line x1="241.55" y1="340.20" x2="261.35" y2="340.20" stroke="#000" stroke-width="1.35"/>
<circle cx="251.4" cy="301.3" r="3.5" fill="none" stroke="#000" stroke-width="1.4"/>
<circle cx="251.4" cy="312.5" r="3.5" fill="none" stroke="#000" stroke-width="1.4"/>
<circle cx="251.4" cy="315.5" r="3.5" fill="none" stroke="#000" stroke-width="1.4"/>
<circle cx="251.4" cy="318.2" r="3.5" fill="none" stroke="#000" stroke-width="1.4"/>
<circle cx="251.4" cy="321.4" r="3.5" fill="none" stroke="#000" stroke-width="1.4"/>
<line x1="290.75" y1="356.85" x2="290.75" y2="361.15" stroke="#000" stroke-width="1.0"/>
<text x="290.75" y="373.60" font-size="10.3" text-anchor="middle">Aged</text>
<rect x="280.85" y="335.70" width="19.8" height="8.00" fill="#fff" stroke="none"/>
<circle cx="289.8" cy="351.9" r="2.5" fill="#b84a0e" fill-opacity="0.75"/>
<circle cx="290.4" cy="351.3" r="2.5" fill="#d95f0e" fill-opacity="0.75"/>
<circle cx="294.6" cy="351.2" r="2.5" fill="#f16913" fill-opacity="0.75"/>
<circle cx="294.5" cy="350.9" r="2.5" fill="#d94801" fill-opacity="0.75"/>
<circle cx="294.7" cy="349.9" r="2.5" fill="#cc4c02" fill-opacity="0.75"/>
<circle cx="292.7" cy="349.8" r="2.5" fill="#b84a0e" fill-opacity="0.75"/>
<circle cx="292.2" cy="349.7" r="2.5" fill="#c44e0e" fill-opacity="0.75"/>
<circle cx="288.8" cy="349.7" r="2.5" fill="#e25508" fill-opacity="0.75"/>
<circle cx="289.7" cy="349.5" r="2.5" fill="#fd8d3c" fill-opacity="0.75"/>
<circle cx="286.6" cy="349.3" r="2.5" fill="#f16913" fill-opacity="0.75"/>
<circle cx="293.5" cy="348.6" r="2.5" fill="#d94801" fill-opacity="0.75"/>
<circle cx="288.9" cy="348.6" r="2.5" fill="#d94801" fill-opacity="0.75"/>
<circle cx="287.2" cy="348.5" r="2.5" fill="#e6550d" fill-opacity="0.75"/>
<circle cx="289.2" cy="347.4" r="2.5" fill="#d94801" fill-opacity="0.75"/>
<circle cx="289.3" cy="347.3" r="2.5" fill="#f16913" fill-opacity="0.75"/>
<circle cx="292.6" cy="346.5" r="2.5" fill="#e25508" fill-opacity="0.75"/>
<circle cx="286.6" cy="346.0" r="2.5" fill="#d95f0e" fill-opacity="0.75"/>
<circle cx="288.5" cy="345.8" r="2.5" fill="#e6550d" fill-opacity="0.75"/>
<circle cx="294.1" cy="345.7" r="2.5" fill="#fd8d3c" fill-opacity="0.75"/>
<circle cx="293.7" cy="345.7" r="2.5" fill="#e6550d" fill-opacity="0.75"/>
<circle cx="291.8" cy="345.5" r="2.5" fill="#b84a0e" fill-opacity="0.75"/>
<circle cx="291.2" cy="345.4" r="2.5" fill="#e6550d" fill-opacity="0.75"/>
<circle cx="288.4" cy="344.6" r="2.5" fill="#fd8d3c" fill-opacity="0.75"/>
<circle cx="293.9" cy="344.2" r="2.5" fill="#d94801" fill-opacity="0.75"/>
<circle cx="292.9" cy="344.1" r="2.5" fill="#b84a0e" fill-opacity="0.75"/>
<circle cx="290.9" cy="343.8" r="2.5" fill="#fd8d3c" fill-opacity="0.75"/>
<circle cx="287.9" cy="343.6" r="2.5" fill="#d94801" fill-opacity="0.75"/>
<circle cx="288.4" cy="343.5" r="2.5" fill="#f16913" fill-opacity="0.75"/>
<circle cx="289.7" cy="343.5" r="2.5" fill="#cc4c02" fill-opacity="0.75"/>
<circle cx="289.3" cy="343.3" r="2.5" fill="#e25508" fill-opacity="0.75"/>
<circle cx="287.1" cy="343.3" r="2.5" fill="#e25508" fill-opacity="0.75"/>
<circle cx="290.0" cy="343.1" r="2.5" fill="#b84a0e" fill-opacity="0.75"/>
<circle cx="290.3" cy="343.0" r="2.5" fill="#e25508" fill-opacity="0.75"/>
<circle cx="289.0" cy="343.0" r="2.5" fill="#e25508" fill-opacity="0.75"/>
<circle cx="289.8" cy="342.9" r="2.5" fill="#e25508" fill-opacity="0.75"/>
<circle cx="289.3" cy="342.8" r="2.5" fill="#e25508" fill-opacity="0.75"/>
<circle cx="289.7" cy="342.7" r="2.5" fill="#e25508" fill-opacity="0.75"/>
<circle cx="291.7" cy="342.7" r="2.5" fill="#e6550d" fill-opacity="0.75"/>
<circle cx="290.7" cy="342.5" r="2.5" fill="#d94801" fill-opacity="0.75"/>
<circle cx="288.2" cy="342.4" r="2.5" fill="#d94801" fill-opacity="0.75"/>
<circle cx="293.2" cy="342.3" r="2.5" fill="#d94801" fill-opacity="0.75"/>
<circle cx="290.9" cy="342.2" r="2.5" fill="#b84a0e" fill-opacity="0.75"/>
<circle cx="290.4" cy="342.1" r="2.5" fill="#e6550d" fill-opacity="0.75"/>
<circle cx="292.5" cy="342.1" r="2.5" fill="#d94801" fill-opacity="0.75"/>
<circle cx="292.9" cy="341.7" r="2.5" fill="#cc4c02" fill-opacity="0.75"/>
<circle cx="293.7" cy="341.6" r="2.5" fill="#c44e0e" fill-opacity="0.75"/>
<circle cx="293.4" cy="341.4" r="2.5" fill="#d94801" fill-opacity="0.75"/>
<circle cx="292.2" cy="341.3" r="2.5" fill="#c44e0e" fill-opacity="0.75"/>
<circle cx="292.6" cy="341.1" r="2.5" fill="#cc4c02" fill-opacity="0.75"/>
<circle cx="287.9" cy="341.0" r="2.5" fill="#d95f0e" fill-opacity="0.75"/>
<circle cx="292.4" cy="340.9" r="2.5" fill="#e6550d" fill-opacity="0.75"/>
<circle cx="288.7" cy="340.8" r="2.5" fill="#fd8d3c" fill-opacity="0.75"/>
<circle cx="288.7" cy="340.7" r="2.5" fill="#e25508" fill-opacity="0.75"/>
<circle cx="287.6" cy="340.7" r="2.5" fill="#e25508" fill-opacity="0.75"/>
<circle cx="289.9" cy="340.5" r="2.5" fill="#e25508" fill-opacity="0.75"/>
<circle cx="286.7" cy="340.5" r="2.5" fill="#d94801" fill-opacity="0.75"/>
<circle cx="292.1" cy="340.4" r="2.5" fill="#e6550d" fill-opacity="0.75"/>
<circle cx="292.8" cy="340.4" r="2.5" fill="#f16913" fill-opacity="0.75"/>
<circle cx="293.1" cy="340.3" r="2.5" fill="#d94801" fill-opacity="0.75"/>
<circle cx="287.6" cy="339.6" r="2.5" fill="#d95f0e" fill-opacity="0.75"/>
<circle cx="291.9" cy="339.6" r="2.5" fill="#cc4c02" fill-opacity="0.75"/>
<circle cx="293.6" cy="339.6" r="2.5" fill="#d94801" fill-opacity="0.75"/>
<circle cx="286.9" cy="339.4" r="2.5" fill="#e6550d" fill-opacity="0.75"/>
<circle cx="288.2" cy="338.5" r="2.5" fill="#e25508" fill-opacity="0.75"/>
<circle cx="288.8" cy="338.0" r="2.5" fill="#cc4c02" fill-opacity="0.75"/>
<circle cx="290.4" cy="337.8" r="2.5" fill="#f16913" fill-opacity="0.75"/>
<circle cx="288.0" cy="337.7" r="2.5" fill="#fd8d3c" fill-opacity="0.75"/>
<circle cx="291.1" cy="337.6" r="2.5" fill="#e6550d" fill-opacity="0.75"/>
<circle cx="289.4" cy="337.4" r="2.5" fill="#c44e0e" fill-opacity="0.75"/>
<circle cx="292.1" cy="337.3" r="2.5" fill="#fd8d3c" fill-opacity="0.75"/>
<circle cx="291.0" cy="337.0" r="2.5" fill="#e6550d" fill-opacity="0.75"/>
<circle cx="292.3" cy="337.0" r="2.5" fill="#e6550d" fill-opacity="0.75"/>
<circle cx="288.6" cy="336.9" r="2.5" fill="#fd8d3c" fill-opacity="0.75"/>
<circle cx="292.5" cy="336.8" r="2.5" fill="#d94801" fill-opacity="0.75"/>
<circle cx="292.7" cy="336.6" r="2.5" fill="#f16913" fill-opacity="0.75"/>
<circle cx="292.6" cy="336.3" r="2.5" fill="#e25508" fill-opacity="0.75"/>
<circle cx="287.1" cy="336.3" r="2.5" fill="#f16913" fill-opacity="0.75"/>
<circle cx="294.5" cy="336.2" r="2.5" fill="#e6550d" fill-opacity="0.75"/>
<circle cx="291.4" cy="335.8" r="2.5" fill="#f16913" fill-opacity="0.75"/>
<circle cx="288.8" cy="335.5" r="2.5" fill="#c44e0e" fill-opacity="0.75"/>
<circle cx="290.2" cy="335.0" r="2.5" fill="#d94801" fill-opacity="0.75"/>
<circle cx="290.9" cy="334.8" r="2.5" fill="#f16913" fill-opacity="0.75"/>
<circle cx="290.9" cy="334.4" r="2.5" fill="#e25508" fill-opacity="0.75"/>
<circle cx="288.6" cy="333.8" r="2.5" fill="#f16913" fill-opacity="0.75"/>
<circle cx="288.8" cy="333.7" r="2.5" fill="#fd8d3c" fill-opacity="0.75"/>
<circle cx="289.6" cy="333.7" r="2.5" fill="#d95f0e" fill-opacity="0.75"/>
<circle cx="293.1" cy="333.5" r="2.5" fill="#c44e0e" fill-opacity="0.75"/>
<circle cx="290.2" cy="333.3" r="2.5" fill="#fd8d3c" fill-opacity="0.75"/>
<circle cx="286.9" cy="332.9" r="2.5" fill="#b84a0e" fill-opacity="0.75"/>
<circle cx="290.3" cy="332.6" r="2.5" fill="#c44e0e" fill-opacity="0.75"/>
<circle cx="288.2" cy="332.3" r="2.5" fill="#fd8d3c" fill-opacity="0.75"/>
<circle cx="286.7" cy="331.8" r="2.5" fill="#e6550d" fill-opacity="0.75"/>
<circle cx="294.8" cy="331.5" r="2.5" fill="#d95f0e" fill-opacity="0.75"/>
<circle cx="289.0" cy="331.4" r="2.5" fill="#c44e0e" fill-opacity="0.75"/>
<circle cx="291.1" cy="331.2" r="2.5" fill="#e6550d" fill-opacity="0.75"/>
<circle cx="289.6" cy="331.1" r="2.5" fill="#e6550d" fill-opacity="0.75"/>
<circle cx="287.0" cy="331.0" r="2.5" fill="#c44e0e" fill-opacity="0.75"/>
<circle cx="294.1" cy="330.9" r="2.5" fill="#f16913" fill-opacity="0.75"/>
<circle cx="294.4" cy="329.9" r="2.5" fill="#fd8d3c" fill-opacity="0.75"/>
<circle cx="288.1" cy="328.4" r="2.5" fill="#d95f0e" fill-opacity="0.75"/>
<circle cx="290.1" cy="326.9" r="2.5" fill="#d94801" fill-opacity="0.75"/>
<circle cx="289.7" cy="326.6" r="2.5" fill="#cc4c02" fill-opacity="0.75"/>
<circle cx="288.0" cy="325.6" r="2.5" fill="#c44e0e" fill-opacity="0.75"/>
<circle cx="292.1" cy="325.6" r="2.5" fill="#e6550d" fill-opacity="0.75"/>
<circle cx="293.1" cy="325.5" r="2.5" fill="#c44e0e" fill-opacity="0.75"/>
<circle cx="290.1" cy="302.3" r="2.7" fill="#e0601a" fill-opacity="0.85"/>
<circle cx="289.8" cy="305.0" r="2.7" fill="#d9541a" fill-opacity="0.85"/>
<circle cx="290.4" cy="308.0" r="2.7" fill="#e8702a" fill-opacity="0.85"/>
<circle cx="291.7" cy="311.0" r="2.7" fill="#cc4c02" fill-opacity="0.85"/>
<circle cx="290.2" cy="314.0" r="2.7" fill="#f08040" fill-opacity="0.85"/>
<circle cx="290.7" cy="320.0" r="2.7" fill="#e0601a" fill-opacity="0.85"/>
<circle cx="291.7" cy="323.5" r="2.7" fill="#d9541a" fill-opacity="0.85"/>
<rect x="280.85" y="335.70" width="19.8" height="8.00" fill="none" stroke="#000" stroke-width="1.35"/>
<line x1="290.75" y1="335.70" x2="290.75" y2="325.20" stroke="#000" stroke-width="1.35"/>
<line x1="290.75" y1="343.70" x2="290.75" y2="352.00" stroke="#000" stroke-width="1.35"/>
<line x1="284.85" y1="325.20" x2="296.65" y2="325.20" stroke="#000" stroke-width="1.35"/>
<line x1="284.85" y1="352.00" x2="296.65" y2="352.00" stroke="#000" stroke-width="1.35"/>
<line x1="280.85" y1="340.20" x2="300.65" y2="340.20" stroke="#000" stroke-width="1.35"/>
<circle cx="290.8" cy="302.3" r="3.5" fill="none" stroke="#000" stroke-width="1.4"/>
<circle cx="290.8" cy="305.0" r="3.5" fill="none" stroke="#000" stroke-width="1.4"/>
<circle cx="290.8" cy="308.0" r="3.5" fill="none" stroke="#000" stroke-width="1.4"/>
<circle cx="290.8" cy="311.0" r="3.5" fill="none" stroke="#000" stroke-width="1.4"/>
<circle cx="290.8" cy="314.0" r="3.5" fill="none" stroke="#000" stroke-width="1.4"/>
<circle cx="290.8" cy="317.0" r="3.5" fill="none" stroke="#000" stroke-width="1.4"/>
<circle cx="290.8" cy="320.0" r="3.5" fill="none" stroke="#000" stroke-width="1.4"/>
<circle cx="290.8" cy="323.5" r="3.5" fill="none" stroke="#000" stroke-width="1.4"/>
<rect x="192.50" y="266.60" width="117.90" height="90.25" stroke="#000" stroke-width="1.2" fill="none"/>
<line x1="223.10" y1="278.40" x2="278.80" y2="278.40" stroke="#000" stroke-width="1.0"/>
<polygon points="243.75,270.90 244.37,272.55 246.13,272.63 244.75,273.72 245.22,275.42 243.75,274.45 242.28,275.42 242.75,273.72 241.37,272.63 243.13,272.55" fill="#222"/>
<polygon points="249.05,270.90 249.67,272.55 251.43,272.63 250.05,273.72 250.52,275.42 249.05,274.45 247.58,275.42 248.05,273.72 246.67,272.63 248.43,272.55" fill="#222"/>
<polygon points="254.35,270.90 254.97,272.55 256.73,272.63 255.35,273.72 255.82,275.42 254.35,274.45 252.88,275.42 253.35,273.72 251.97,272.63 253.73,272.55" fill="#222"/>
<polygon points="259.65,270.90 260.27,272.55 262.03,272.63 260.65,273.72 261.12,275.42 259.65,274.45 258.18,275.42 258.65,273.72 257.27,272.63 259.03,272.55" fill="#222"/>
<line x1="223.10" y1="288.30" x2="242.80" y2="288.30" stroke="#000" stroke-width="1.0"/>
<polygon points="228.00,281.30 228.62,282.95 230.38,283.03 229.00,284.12 229.47,285.82 228.00,284.85 226.53,285.82 227.00,284.12 225.62,283.03 227.38,282.95" fill="#222"/>
<polygon points="233.30,281.30 233.92,282.95 235.68,283.03 234.30,284.12 234.77,285.82 233.30,284.85 231.83,285.82 232.30,284.12 230.92,283.03 232.68,282.95" fill="#222"/>
<polygon points="238.60,281.30 239.22,282.95 240.98,283.03 239.60,284.12 240.07,285.82 238.60,284.85 237.13,285.82 237.60,284.12 236.22,283.03 237.98,282.95" fill="#222"/>
<line x1="330.70" y1="352.90" x2="334.50" y2="352.90" stroke="#000" stroke-width="1.0"/>
<text x="328.20" y="356.56" font-size="10.3" text-anchor="end">0</text>
<line x1="330.70" y1="311.20" x2="334.50" y2="311.20" stroke="#000" stroke-width="1.0"/>
<text x="328.20" y="314.86" font-size="10.3" text-anchor="end">1</text>
<line x1="330.70" y1="269.50" x2="334.50" y2="269.50" stroke="#000" stroke-width="1.0"/>
<text x="328.20" y="273.16" font-size="10.3" text-anchor="end">2</text>
<text x="393.20" y="260.20" font-size="13.0" text-anchor="middle">Gamma (50 - 110Hz)</text>
<line x1="354.07" y1="356.85" x2="354.07" y2="361.15" stroke="#000" stroke-width="1.0"/>
<text x="354.07" y="373.60" font-size="10.3" text-anchor="middle">Young</text>
<rect x="344.17" y="320.00" width="19.8" height="21.70" fill="#fff" stroke="none"/>
<circle cx="355.0" cy="352.7" r="2.5" fill="#08519c" fill-opacity="0.75"/>
<circle cx="357.1" cy="352.7" r="2.5" fill="#4a98c9" fill-opacity="0.75"/>
<circle cx="351.1" cy="352.2" r="2.5" fill="#1a5e9e" fill-opacity="0.75"/>
<circle cx="354.3" cy="351.3" r="2.5" fill="#1a5e9e" fill-opacity="0.75"/>
<circle cx="355.8" cy="350.8" r="2.5" fill="#1a5e9e" fill-opacity="0.75"/>
<circle cx="357.1" cy="349.2" r="2.5" fill="#2b7bba" fill-opacity="0.75"/>
<circle cx="355.1" cy="349.1" r="2.5" fill="#2b7bba" fill-opacity="0.75"/>
<circle cx="354.8" cy="348.7" r="2.5" fill="#6aaed6" fill-opacity="0.75"/>
<circle cx="353.3" cy="348.1" r="2.5" fill="#1f77b4" fill-opacity="0.75"/>
<circle cx="354.6" cy="348.0" r="2.5" fill="#1f77b4" fill-opacity="0.75"/>
<circle cx="354.5" cy="347.8" r="2.5" fill="#2171b5" fill-opacity="0.75"/>
<circle cx="357.0" cy="347.3" r="2.5" fill="#1f77b4" fill-opacity="0.75"/>
<circle cx="356.4" cy="346.5" r="2.5" fill="#1a5e9e" fill-opacity="0.75"/>
<circle cx="355.8" cy="345.1" r="2.5" fill="#4a98c9" fill-opacity="0.75"/>
<circle cx="357.1" cy="343.3" r="2.5" fill="#2171b5" fill-opacity="0.75"/>
<circle cx="350.9" cy="342.5" r="2.5" fill="#1764ab" fill-opacity="0.75"/>
<circle cx="356.0" cy="342.1" r="2.5" fill="#1f6bb0" fill-opacity="0.75"/>
<circle cx="353.8" cy="341.9" r="2.5" fill="#08519c" fill-opacity="0.75"/>
<circle cx="355.9" cy="341.8" r="2.5" fill="#2171b5" fill-opacity="0.75"/>
<circle cx="352.6" cy="341.0" r="2.5" fill="#4a98c9" fill-opacity="0.75"/>
<circle cx="353.8" cy="340.9" r="2.5" fill="#1a5e9e" fill-opacity="0.75"/>
<circle cx="356.4" cy="340.5" r="2.5" fill="#1a5e9e" fill-opacity="0.75"/>
<circle cx="350.7" cy="340.4" r="2.5" fill="#2b7bba" fill-opacity="0.75"/>
<circle cx="352.6" cy="340.3" r="2.5" fill="#1f6bb0" fill-opacity="0.75"/>
<circle cx="354.0" cy="340.0" r="2.5" fill="#1f6bb0" fill-opacity="0.75"/>
<circle cx="356.6" cy="340.0" r="2.5" fill="#1764ab" fill-opacity="0.75"/>
<circle cx="352.4" cy="339.8" r="2.5" fill="#08519c" fill-opacity="0.75"/>
<circle cx="356.4" cy="339.7" r="2.5" fill="#4a98c9" fill-opacity="0.75"/>
<circle cx="352.2" cy="339.4" r="2.5" fill="#6aaed6" fill-opacity="0.75"/>
<circle cx="352.6" cy="338.4" r="2.5" fill="#1a5e9e" fill-opacity="0.75"/>
<circle cx="354.5" cy="338.3" r="2.5" fill="#2b7bba" fill-opacity="0.75"/>
<circle cx="355.2" cy="338.3" r="2.5" fill="#1a5e9e" fill-opacity="0.75"/>
<circle cx="356.8" cy="338.2" r="2.5" fill="#1f6bb0" fill-opacity="0.75"/>
<circle cx="356.8" cy="337.9" r="2.5" fill="#2171b5" fill-opacity="0.75"/>
<circle cx="352.3" cy="337.6" r="2.5" fill="#1a5e9e" fill-opacity="0.75"/>
<circle cx="355.8" cy="337.4" r="2.5" fill="#6aaed6" fill-opacity="0.75"/>
<circle cx="355.0" cy="337.3" r="2.5" fill="#4a98c9" fill-opacity="0.75"/>
<circle cx="353.2" cy="337.2" r="2.5" fill="#08519c" fill-opacity="0.75"/>
<circle cx="356.1" cy="337.2" r="2.5" fill="#1f77b4" fill-opacity="0.75"/>
<circle cx="356.9" cy="336.2" r="2.5" fill="#4a98c9" fill-opacity="0.75"/>
<circle cx="353.9" cy="336.2" r="2.5" fill="#4a98c9" fill-opacity="0.75"/>
<circle cx="357.1" cy="335.1" r="2.5" fill="#08519c" fill-opacity="0.75"/>
<circle cx="351.4" cy="334.6" r="2.5" fill="#1f77b4" fill-opacity="0.75"/>
<circle cx="351.7" cy="334.4" r="2.5" fill="#1a5e9e" fill-opacity="0.75"/>
<circle cx="356.0" cy="334.2" r="2.5" fill="#6aaed6" fill-opacity="0.75"/>
<circle cx="352.7" cy="333.9" r="2.5" fill="#1f6bb0" fill-opacity="0.75"/>
<circle cx="354.7" cy="332.9" r="2.5" fill="#1764ab" fill-opacity="0.75"/>
<circle cx="354.0" cy="332.7" r="2.5" fill="#2171b5" fill-opacity="0.75"/>
<circle cx="351.5" cy="332.6" r="2.5" fill="#1f77b4" fill-opacity="0.75"/>
<circle cx="355.9" cy="331.8" r="2.5" fill="#4a98c9" fill-opacity="0.75"/>
<circle cx="355.8" cy="331.5" r="2.5" fill="#2171b5" fill-opacity="0.75"/>
<circle cx="351.5" cy="330.5" r="2.5" fill="#08519c" fill-opacity="0.75"/>
<circle cx="352.3" cy="330.4" r="2.5" fill="#2b7bba" fill-opacity="0.75"/>
<circle cx="356.2" cy="330.0" r="2.5" fill="#1f77b4" fill-opacity="0.75"/>
<circle cx="357.0" cy="330.0" r="2.5" fill="#08519c" fill-opacity="0.75"/>
<circle cx="356.7" cy="329.7" r="2.5" fill="#1f77b4" fill-opacity="0.75"/>
<circle cx="354.1" cy="329.7" r="2.5" fill="#2171b5" fill-opacity="0.75"/>
<circle cx="353.1" cy="328.9" r="2.5" fill="#1f77b4" fill-opacity="0.75"/>
<circle cx="353.7" cy="328.8" r="2.5" fill="#2171b5" fill-opacity="0.75"/>
<circle cx="351.7" cy="328.3" r="2.5" fill="#1f6bb0" fill-opacity="0.75"/>
<circle cx="354.0" cy="327.8" r="2.5" fill="#1764ab" fill-opacity="0.75"/>
<circle cx="352.1" cy="327.2" r="2.5" fill="#2171b5" fill-opacity="0.75"/>
<circle cx="351.6" cy="327.0" r="2.5" fill="#2171b5" fill-opacity="0.75"/>
<circle cx="353.2" cy="326.6" r="2.5" fill="#1f77b4" fill-opacity="0.75"/>
<circle cx="350.9" cy="325.0" r="2.5" fill="#08519c" fill-opacity="0.75"/>
<circle cx="353.9" cy="322.9" r="2.5" fill="#1a5e9e" fill-opacity="0.75"/>
<circle cx="355.5" cy="322.6" r="2.5" fill="#1a5e9e" fill-opacity="0.75"/>
<circle cx="355.2" cy="322.6" r="2.5" fill="#1f6bb0" fill-opacity="0.75"/>
<circle cx="357.5" cy="322.6" r="2.5" fill="#2b7bba" fill-opacity="0.75"/>
<circle cx="356.8" cy="321.8" r="2.5" fill="#2b7bba" fill-opacity="0.75"/>
<circle cx="355.0" cy="321.7" r="2.5" fill="#1a5e9e" fill-opacity="0.75"/>
<circle cx="356.9" cy="321.4" r="2.5" fill="#4a98c9" fill-opacity="0.75"/>
<circle cx="353.7" cy="320.8" r="2.5" fill="#1a5e9e" fill-opacity="0.75"/>
<circle cx="356.2" cy="320.6" r="2.5" fill="#1a5e9e" fill-opacity="0.75"/>
<circle cx="352.5" cy="320.0" r="2.5" fill="#1a5e9e" fill-opacity="0.75"/>
<circle cx="354.3" cy="319.6" r="2.5" fill="#08519c" fill-opacity="0.75"/>
<circle cx="357.5" cy="318.8" r="2.5" fill="#6aaed6" fill-opacity="0.75"/>
<circle cx="354.8" cy="318.2" r="2.5" fill="#1f77b4" fill-opacity="0.75"/>
<circle cx="354.1" cy="316.6" r="2.5" fill="#1f6bb0" fill-opacity="0.75"/>
<circle cx="356.1" cy="316.2" r="2.5" fill="#1f77b4" fill-opacity="0.75"/>
<circle cx="352.7" cy="315.8" r="2.5" fill="#6aaed6" fill-opacity="0.75"/>
<circle cx="356.5" cy="313.4" r="2.5" fill="#2171b5" fill-opacity="0.75"/>
<circle cx="350.6" cy="313.3" r="2.5" fill="#1764ab" fill-opacity="0.75"/>
<circle cx="352.2" cy="313.0" r="2.5" fill="#4a98c9" fill-opacity="0.75"/>
<circle cx="351.7" cy="312.2" r="2.5" fill="#6aaed6" fill-opacity="0.75"/>
<circle cx="352.3" cy="311.6" r="2.5" fill="#08519c" fill-opacity="0.75"/>
<circle cx="357.3" cy="311.5" r="2.5" fill="#4a98c9" fill-opacity="0.75"/>
<circle cx="350.6" cy="311.4" r="2.5" fill="#08519c" fill-opacity="0.75"/>
<circle cx="352.6" cy="310.8" r="2.5" fill="#1f77b4" fill-opacity="0.75"/>
<circle cx="354.6" cy="310.2" r="2.5" fill="#2171b5" fill-opacity="0.75"/>
<circle cx="355.5" cy="310.0" r="2.5" fill="#2b7bba" fill-opacity="0.75"/>
<circle cx="356.0" cy="309.9" r="2.5" fill="#1f77b4" fill-opacity="0.75"/>
<circle cx="353.2" cy="309.6" r="2.5" fill="#1a5e9e" fill-opacity="0.75"/>
<circle cx="352.1" cy="305.4" r="2.5" fill="#2b7bba" fill-opacity="0.75"/>
<circle cx="356.6" cy="303.7" r="2.5" fill="#1a5e9e" fill-opacity="0.75"/>
<circle cx="351.3" cy="302.9" r="2.5" fill="#1f77b4" fill-opacity="0.75"/>
<circle cx="350.9" cy="302.6" r="2.5" fill="#2b7bba" fill-opacity="0.75"/>
<circle cx="352.1" cy="302.5" r="2.5" fill="#4a98c9" fill-opacity="0.75"/>
<circle cx="354.0" cy="301.7" r="2.5" fill="#2171b5" fill-opacity="0.75"/>
<circle cx="357.3" cy="301.0" r="2.5" fill="#6aaed6" fill-opacity="0.75"/>
<circle cx="355.7" cy="298.8" r="2.5" fill="#08519c" fill-opacity="0.75"/>
<circle cx="354.5" cy="297.2" r="2.5" fill="#6aaed6" fill-opacity="0.75"/>
<circle cx="354.2" cy="296.9" r="2.5" fill="#2b7bba" fill-opacity="0.75"/>
<circle cx="355.5" cy="296.8" r="2.5" fill="#2b7bba" fill-opacity="0.75"/>
<circle cx="355.0" cy="294.8" r="2.5" fill="#2b7bba" fill-opacity="0.75"/>
<circle cx="352.9" cy="294.4" r="2.5" fill="#08519c" fill-opacity="0.75"/>
<circle cx="351.1" cy="294.3" r="2.5" fill="#1a5e9e" fill-opacity="0.75"/>
<circle cx="351.9" cy="293.3" r="2.5" fill="#1764ab" fill-opacity="0.75"/>
<circle cx="356.1" cy="293.0" r="2.5" fill="#1764ab" fill-opacity="0.75"/>
<circle cx="355.0" cy="291.3" r="2.5" fill="#1f77b4" fill-opacity="0.75"/>
<rect x="344.17" y="320.00" width="19.8" height="21.70" fill="none" stroke="#000" stroke-width="1.35"/>
<line x1="354.07" y1="320.00" x2="354.07" y2="290.30" stroke="#000" stroke-width="1.35"/>
<line x1="354.07" y1="341.70" x2="354.07" y2="353.00" stroke="#000" stroke-width="1.35"/>
<line x1="348.17" y1="290.30" x2="359.97" y2="290.30" stroke="#000" stroke-width="1.35"/>
<line x1="348.17" y1="353.00" x2="359.97" y2="353.00" stroke="#000" stroke-width="1.35"/>
<line x1="344.17" y1="331.40" x2="363.97" y2="331.40" stroke="#000" stroke-width="1.35"/>
<line x1="393.20" y1="356.85" x2="393.20" y2="361.15" stroke="#000" stroke-width="1.0"/>
<text x="393.20" y="373.60" font-size="10.3" text-anchor="middle">MA</text>
<rect x="383.30" y="337.60" width="19.8" height="6.80" fill="#fff" stroke="none"/>
<circle cx="390.3" cy="350.9" r="2.5" fill="#41ab5d" fill-opacity="0.75"/>
<circle cx="391.9" cy="349.1" r="2.5" fill="#006d2c" fill-opacity="0.75"/>
<circle cx="395.2" cy="349.0" r="2.5" fill="#1e8a3c" fill-opacity="0.75"/>
<circle cx="389.8" cy="348.8" r="2.5" fill="#74c476" fill-opacity="0.75"/>
<circle cx="393.1" cy="348.6" r="2.5" fill="#41ab5d" fill-opacity="0.75"/>
<circle cx="393.9" cy="348.0" r="2.5" fill="#157f3b" fill-opacity="0.75"/>
<circle cx="390.0" cy="347.5" r="2.5" fill="#41ab5d" fill-opacity="0.75"/>
<circle cx="391.7" cy="347.3" r="2.5" fill="#006d2c" fill-opacity="0.75"/>
<circle cx="396.1" cy="347.3" r="2.5" fill="#2f974e" fill-opacity="0.75"/>
<circle cx="396.8" cy="347.1" r="2.5" fill="#1b7a37" fill-opacity="0.75"/>
<circle cx="395.7" cy="347.0" r="2.5" fill="#a1d99b" fill-opacity="0.75"/>
<circle cx="390.8" cy="346.4" r="2.5" fill="#238b45" fill-opacity="0.75"/>
<circle cx="395.1" cy="346.3" r="2.5" fill="#1e8a3c" fill-opacity="0.75"/>
<circle cx="392.8" cy="345.9" r="2.5" fill="#74c476" fill-opacity="0.75"/>
<circle cx="390.8" cy="345.4" r="2.5" fill="#1e8a3c" fill-opacity="0.75"/>
<circle cx="393.1" cy="344.6" r="2.5" fill="#a1d99b" fill-opacity="0.75"/>
<circle cx="396.2" cy="344.6" r="2.5" fill="#1b7a37" fill-opacity="0.75"/>
<circle cx="395.9" cy="344.3" r="2.5" fill="#a1d99b" fill-opacity="0.75"/>
<circle cx="392.4" cy="344.3" r="2.5" fill="#41ab5d" fill-opacity="0.75"/>
<circle cx="390.1" cy="344.1" r="2.5" fill="#006d2c" fill-opacity="0.75"/>
<circle cx="396.1" cy="344.0" r="2.5" fill="#1b7a37" fill-opacity="0.75"/>
<circle cx="396.7" cy="343.8" r="2.5" fill="#157f3b" fill-opacity="0.75"/>
<circle cx="393.3" cy="343.6" r="2.5" fill="#238b45" fill-opacity="0.75"/>
<circle cx="391.2" cy="343.3" r="2.5" fill="#41ab5d" fill-opacity="0.75"/>
<circle cx="393.5" cy="343.2" r="2.5" fill="#1b7a37" fill-opacity="0.75"/>
<circle cx="394.6" cy="343.2" r="2.5" fill="#238b45" fill-opacity="0.75"/>
<circle cx="393.1" cy="343.0" r="2.5" fill="#006d2c" fill-opacity="0.75"/>
<circle cx="392.1" cy="343.0" r="2.5" fill="#1b7a37" fill-opacity="0.75"/>
<circle cx="391.4" cy="342.9" r="2.5" fill="#157f3b" fill-opacity="0.75"/>
<circle cx="391.7" cy="342.9" r="2.5" fill="#1e8a3c" fill-opacity="0.75"/>
<circle cx="390.0" cy="342.9" r="2.5" fill="#1b7a37" fill-opacity="0.75"/>
<circle cx="391.4" cy="342.7" r="2.5" fill="#a1d99b" fill-opacity="0.75"/>
<circle cx="396.5" cy="342.0" r="2.5" fill="#2f974e" fill-opacity="0.75"/>
<circle cx="389.7" cy="341.7" r="2.5" fill="#238b45" fill-opacity="0.75"/>
<circle cx="394.8" cy="341.6" r="2.5" fill="#006d2c" fill-opacity="0.75"/>
<circle cx="395.3" cy="341.5" r="2.5" fill="#74c476" fill-opacity="0.75"/>
<circle cx="392.5" cy="341.5" r="2.5" fill="#1b7a37" fill-opacity="0.75"/>
<circle cx="393.9" cy="341.2" r="2.5" fill="#41ab5d" fill-opacity="0.75"/>
<circle cx="391.2" cy="341.2" r="2.5" fill="#157f3b" fill-opacity="0.75"/>
<circle cx="394.4" cy="340.8" r="2.5" fill="#238b45" fill-opacity="0.75"/>
<circle cx="394.7" cy="340.6" r="2.5" fill="#41ab5d" fill-opacity="0.75"/>
<circle cx="394.9" cy="340.2" r="2.5" fill="#a1d99b" fill-opacity="0.75"/>
<circle cx="393.1" cy="340.2" r="2.5" fill="#238b45" fill-opacity="0.75"/>
<circle cx="396.6" cy="340.2" r="2.5" fill="#157f3b" fill-opacity="0.75"/>
<circle cx="395.8" cy="339.4" r="2.5" fill="#238b45" fill-opacity="0.75"/>
<circle cx="393.7" cy="339.4" r="2.5" fill="#006d2c" fill-opacity="0.75"/>
<circle cx="394.5" cy="339.3" r="2.5" fill="#2f974e" fill-opacity="0.75"/>
<circle cx="391.6" cy="338.9" r="2.5" fill="#238b45" fill-opacity="0.75"/>
<circle cx="396.4" cy="338.4" r="2.5" fill="#a1d99b" fill-opacity="0.75"/>
<circle cx="394.2" cy="338.3" r="2.5" fill="#a1d99b" fill-opacity="0.75"/>
<circle cx="396.0" cy="338.3" r="2.5" fill="#a1d99b" fill-opacity="0.75"/>
<circle cx="391.7" cy="338.1" r="2.5" fill="#74c476" fill-opacity="0.75"/>
<circle cx="396.7" cy="338.1" r="2.5" fill="#2f974e" fill-opacity="0.75"/>
<circle cx="390.4" cy="337.9" r="2.5" fill="#1e8a3c" fill-opacity="0.75"/>
<circle cx="393.4" cy="337.8" r="2.5" fill="#238b45" fill-opacity="0.75"/>
<circle cx="390.4" cy="337.6" r="2.5" fill="#238b45" fill-opacity="0.75"/>
<circle cx="391.0" cy="337.5" r="2.5" fill="#238b45" fill-opacity="0.75"/>
<circle cx="395.1" cy="337.5" r="2.5" fill="#41ab5d" fill-opacity="0.75"/>
<circle cx="390.1" cy="337.3" r="2.5" fill="#41ab5d" fill-opacity="0.75"/>
<circle cx="392.4" cy="337.1" r="2.5" fill="#006d2c" fill-opacity="0.75"/>
<circle cx="391.0" cy="337.1" r="2.5" fill="#1e8a3c" fill-opacity="0.75"/>
<circle cx="395.7" cy="336.6" r="2.5" fill="#238b45" fill-opacity="0.75"/>
<circle cx="390.2" cy="335.9" r="2.5" fill="#006d2c" fill-opacity="0.75"/>
<circle cx="392.0" cy="335.7" r="2.5" fill="#74c476" fill-opacity="0.75"/>
<circle cx="395.8" cy="335.7" r="2.5" fill="#238b45" fill-opacity="0.75"/>
<circle cx="394.5" cy="335.4" r="2.5" fill="#74c476" fill-opacity="0.75"/>
<circle cx="394.7" cy="335.3" r="2.5" fill="#238b45" fill-opacity="0.75"/>
<circle cx="396.7" cy="335.2" r="2.5" fill="#a1d99b" fill-opacity="0.75"/>
<circle cx="389.8" cy="335.2" r="2.5" fill="#74c476" fill-opacity="0.75"/>
<circle cx="394.4" cy="334.6" r="2.5" fill="#41ab5d" fill-opacity="0.75"/>
<circle cx="395.0" cy="334.5" r="2.5" fill="#1b7a37" fill-opacity="0.75"/>
<circle cx="395.0" cy="334.3" r="2.5" fill="#1e8a3c" fill-opacity="0.75"/>
<circle cx="394.7" cy="334.1" r="2.5" fill="#1b7a37" fill-opacity="0.75"/>
<circle cx="390.1" cy="333.9" r="2.5" fill="#238b45" fill-opacity="0.75"/>
<circle cx="390.2" cy="333.7" r="2.5" fill="#74c476" fill-opacity="0.75"/>
<circle cx="395.2" cy="333.7" r="2.5" fill="#41ab5d" fill-opacity="0.75"/>
<circle cx="394.0" cy="333.2" r="2.5" fill="#238b45" fill-opacity="0.75"/>
<circle cx="391.5" cy="332.6" r="2.5" fill="#006d2c" fill-opacity="0.75"/>
<circle cx="389.7" cy="332.6" r="2.5" fill="#1b7a37" fill-opacity="0.75"/>
<circle cx="393.4" cy="332.5" r="2.5" fill="#1b7a37" fill-opacity="0.75"/>
<circle cx="394.1" cy="270.6" r="2.7" fill="#1e8a3c" fill-opacity="0.85"/>
<circle cx="393.7" cy="287.5" r="2.7" fill="#1e8a3c" fill-opacity="0.85"/>
<circle cx="393.1" cy="305.5" r="2.7" fill="#74c476" fill-opacity="0.85"/>
<circle cx="392.5" cy="308.3" r="2.7" fill="#2a8f45" fill-opacity="0.85"/>
<circle cx="392.7" cy="310.4" r="2.7" fill="#c7e9c0" fill-opacity="0.85"/>
<circle cx="394.2" cy="316.7" r="2.7" fill="#1e8a3c" fill-opacity="0.85"/>
<circle cx="393.8" cy="319.3" r="2.7" fill="#2a8f45" fill-opacity="0.85"/>
<circle cx="392.3" cy="323.5" r="2.7" fill="#d9f0d3" fill-opacity="0.85"/>
<rect x="383.30" y="337.60" width="19.8" height="6.80" fill="none" stroke="#000" stroke-width="1.35"/>
<line x1="393.20" y1="337.60" x2="393.20" y2="332.40" stroke="#000" stroke-width="1.35"/>
<line x1="393.20" y1="344.40" x2="393.20" y2="351.60" stroke="#000" stroke-width="1.35"/>
<line x1="387.30" y1="332.40" x2="399.10" y2="332.40" stroke="#000" stroke-width="1.35"/>
<line x1="387.30" y1="351.60" x2="399.10" y2="351.60" stroke="#000" stroke-width="1.35"/>
<line x1="383.30" y1="341.30" x2="403.10" y2="341.30" stroke="#000" stroke-width="1.35"/>
<circle cx="393.2" cy="270.6" r="3.5" fill="none" stroke="#000" stroke-width="1.4"/>
<circle cx="393.2" cy="287.5" r="3.5" fill="none" stroke="#000" stroke-width="1.4"/>
<circle cx="393.2" cy="298.7" r="3.5" fill="none" stroke="#000" stroke-width="1.4"/>
<circle cx="393.2" cy="305.5" r="3.5" fill="none" stroke="#000" stroke-width="1.4"/>
<circle cx="393.2" cy="308.3" r="3.5" fill="none" stroke="#000" stroke-width="1.4"/>
<circle cx="393.2" cy="310.4" r="3.5" fill="none" stroke="#000" stroke-width="1.4"/>
<circle cx="393.2" cy="316.7" r="3.5" fill="none" stroke="#000" stroke-width="1.4"/>
<circle cx="393.2" cy="319.3" r="3.5" fill="none" stroke="#000" stroke-width="1.4"/>
<circle cx="393.2" cy="323.5" r="3.5" fill="none" stroke="#000" stroke-width="1.4"/>
<line x1="432.33" y1="356.85" x2="432.33" y2="361.15" stroke="#000" stroke-width="1.0"/>
<text x="432.33" y="373.60" font-size="10.3" text-anchor="middle">Aged</text>
<rect x="422.43" y="334.00" width="19.8" height="10.40" fill="#fff" stroke="none"/>
<circle cx="433.2" cy="351.1" r="2.5" fill="#cc4c02" fill-opacity="0.75"/>
<circle cx="431.5" cy="351.0" r="2.5" fill="#e6550d" fill-opacity="0.75"/>
<circle cx="434.9" cy="350.7" r="2.5" fill="#fd8d3c" fill-opacity="0.75"/>
<circle cx="433.7" cy="350.5" r="2.5" fill="#e25508" fill-opacity="0.75"/>
<circle cx="434.2" cy="348.7" r="2.5" fill="#fd8d3c" fill-opacity="0.75"/>
<circle cx="430.2" cy="348.1" r="2.5" fill="#fd8d3c" fill-opacity="0.75"/>
<circle cx="428.7" cy="347.9" r="2.5" fill="#b84a0e" fill-opacity="0.75"/>
<circle cx="435.5" cy="347.6" r="2.5" fill="#cc4c02" fill-opacity="0.75"/>
<circle cx="436.0" cy="347.2" r="2.5" fill="#fd8d3c" fill-opacity="0.75"/>
<circle cx="433.5" cy="347.0" r="2.5" fill="#e25508" fill-opacity="0.75"/>
<circle cx="435.9" cy="347.0" r="2.5" fill="#e6550d" fill-opacity="0.75"/>
<circle cx="434.1" cy="346.6" r="2.5" fill="#d94801" fill-opacity="0.75"/>
<circle cx="433.2" cy="346.6" r="2.5" fill="#d95f0e" fill-opacity="0.75"/>
<circle cx="431.7" cy="346.0" r="2.5" fill="#c44e0e" fill-opacity="0.75"/>
<circle cx="431.1" cy="346.0" r="2.5" fill="#e25508" fill-opacity="0.75"/>
<circle cx="432.2" cy="345.8" r="2.5" fill="#e25508" fill-opacity="0.75"/>
<circle cx="430.0" cy="345.3" r="2.5" fill="#e6550d" fill-opacity="0.75"/>
<circle cx="431.7" cy="345.2" r="2.5" fill="#f16913" fill-opacity="0.75"/>
<circle cx="432.4" cy="344.8" r="2.5" fill="#f16913" fill-opacity="0.75"/>
<circle cx="428.4" cy="344.7" r="2.5" fill="#d95f0e" fill-opacity="0.75"/>
<circle cx="431.4" cy="344.3" r="2.5" fill="#c44e0e" fill-opacity="0.75"/>
<circle cx="430.5" cy="344.3" r="2.5" fill="#e25508" fill-opacity="0.75"/>
<circle cx="433.5" cy="344.2" r="2.5" fill="#e6550d" fill-opacity="0.75"/>
<circle cx="435.0" cy="344.2" r="2.5" fill="#d95f0e" fill-opacity="0.75"/>
<circle cx="433.3" cy="344.2" r="2.5" fill="#fd8d3c" fill-opacity="0.75"/>
<circle cx="433.7" cy="344.1" r="2.5" fill="#b84a0e" fill-opacity="0.75"/>
<circle cx="433.3" cy="344.0" r="2.5" fill="#e6550d" fill-opacity="0.75"/>
<circle cx="430.3" cy="343.9" r="2.5" fill="#f16913" fill-opacity="0.75"/>
<circle cx="431.3" cy="343.9" r="2.5" fill="#c44e0e" fill-opacity="0.75"/>
<circle cx="435.2" cy="343.9" r="2.5" fill="#e6550d" fill-opacity="0.75"/>
<circle cx="436.1" cy="343.5" r="2.5" fill="#e25508" fill-opacity="0.75"/>
<circle cx="429.7" cy="343.4" r="2.5" fill="#e6550d" fill-opacity="0.75"/>
<circle cx="428.2" cy="343.2" r="2.5" fill="#e6550d" fill-opacity="0.75"/>
<circle cx="436.2" cy="343.1" r="2.5" fill="#f16913" fill-opacity="0.75"/>
<circle cx="435.4" cy="343.1" r="2.5" fill="#fd8d3c" fill-opacity="0.75"/>
<circle cx="433.2" cy="343.1" r="2.5" fill="#e25508" fill-opacity="0.75"/>
<circle cx="435.0" cy="343.0" r="2.5" fill="#cc4c02" fill-opacity="0.75"/>
<circle cx="433.1" cy="343.0" r="2.5" fill="#e6550d" fill-opacity="0.75"/>
<circle cx="435.7" cy="342.8" r="2.5" fill="#d94801" fill-opacity="0.75"/>
<circle cx="430.2" cy="342.8" r="2.5" fill="#e6550d" fill-opacity="0.75"/>
<circle cx="431.9" cy="342.8" r="2.5" fill="#c44e0e" fill-opacity="0.75"/>
<circle cx="433.8" cy="342.5" r="2.5" fill="#d94801" fill-opacity="0.75"/>
<circle cx="429.9" cy="342.5" r="2.5" fill="#d94801" fill-opacity="0.75"/>
<circle cx="434.1" cy="342.4" r="2.5" fill="#cc4c02" fill-opacity="0.75"/>
<circle cx="430.3" cy="342.3" r="2.5" fill="#e25508" fill-opacity="0.75"/>
<circle cx="434.1" cy="342.2" r="2.5" fill="#fd8d3c" fill-opacity="0.75"/>
<circle cx="434.9" cy="342.2" r="2.5" fill="#f16913" fill-opacity="0.75"/>
<circle cx="431.7" cy="342.2" r="2.5" fill="#f16913" fill-opacity="0.75"/>
<circle cx="436.5" cy="342.1" r="2.5" fill="#e6550d" fill-opacity="0.75"/>
<circle cx="433.4" cy="341.5" r="2.5" fill="#d95f0e" fill-opacity="0.75"/>
<circle cx="434.5" cy="341.4" r="2.5" fill="#b84a0e" fill-opacity="0.75"/>
<circle cx="428.3" cy="341.0" r="2.5" fill="#e25508" fill-opacity="0.75"/>
<circle cx="429.1" cy="340.3" r="2.5" fill="#d95f0e" fill-opacity="0.75"/>
<circle cx="434.1" cy="340.3" r="2.5" fill="#d95f0e" fill-opacity="0.75"/>
<circle cx="436.1" cy="339.9" r="2.5" fill="#f16913" fill-opacity="0.75"/>
<circle cx="433.4" cy="339.8" r="2.5" fill="#d94801" fill-opacity="0.75"/>
<circle cx="435.8" cy="339.7" r="2.5" fill="#e6550d" fill-opacity="0.75"/>
<circle cx="428.6" cy="338.9" r="2.5" fill="#c44e0e" fill-opacity="0.75"/>
<circle cx="435.6" cy="338.9" r="2.5" fill="#e6550d" fill-opacity="0.75"/>
<circle cx="435.5" cy="337.4" r="2.5" fill="#e25508" fill-opacity="0.75"/>
<circle cx="433.4" cy="337.0" r="2.5" fill="#d94801" fill-opacity="0.75"/>
<circle cx="431.7" cy="336.6" r="2.5" fill="#f16913" fill-opacity="0.75"/>
<circle cx="434.1" cy="336.3" r="2.5" fill="#d94801" fill-opacity="0.75"/>
<circle cx="430.2" cy="336.1" r="2.5" fill="#c44e0e" fill-opacity="0.75"/>
<circle cx="433.7" cy="335.8" r="2.5" fill="#e25508" fill-opacity="0.75"/>
<circle cx="434.0" cy="335.7" r="2.5" fill="#e25508" fill-opacity="0.75"/>
<circle cx="432.7" cy="335.6" r="2.5" fill="#cc4c02" fill-opacity="0.75"/>
<circle cx="430.3" cy="335.4" r="2.5" fill="#e25508" fill-opacity="0.75"/>
<circle cx="428.2" cy="335.0" r="2.5" fill="#f16913" fill-opacity="0.75"/>
<circle cx="429.8" cy="334.2" r="2.5" fill="#d94801" fill-opacity="0.75"/>
<circle cx="435.1" cy="334.1" r="2.5" fill="#e6550d" fill-opacity="0.75"/>
<circle cx="429.9" cy="333.7" r="2.5" fill="#f16913" fill-opacity="0.75"/>
<circle cx="428.8" cy="333.5" r="2.5" fill="#b84a0e" fill-opacity="0.75"/>
<circle cx="430.2" cy="333.2" r="2.5" fill="#e25508" fill-opacity="0.75"/>
<circle cx="432.5" cy="333.1" r="2.5" fill="#b84a0e" fill-opacity="0.75"/>
<circle cx="433.1" cy="333.0" r="2.5" fill="#c44e0e" fill-opacity="0.75"/>
<circle cx="435.5" cy="332.9" r="2.5" fill="#c44e0e" fill-opacity="0.75"/>
<circle cx="435.3" cy="332.8" r="2.5" fill="#cc4c02" fill-opacity="0.75"/>
<circle cx="436.3" cy="332.6" r="2.5" fill="#e6550d" fill-opacity="0.75"/>
<circle cx="435.6" cy="332.3" r="2.5" fill="#c44e0e" fill-opacity="0.75"/>
<circle cx="431.9" cy="332.2" r="2.5" fill="#f16913" fill-opacity="0.75"/>
<circle cx="429.3" cy="331.5" r="2.5" fill="#f16913" fill-opacity="0.75"/>
<circle cx="436.2" cy="331.5" r="2.5" fill="#fd8d3c" fill-opacity="0.75"/>
<circle cx="430.1" cy="331.2" r="2.5" fill="#c44e0e" fill-opacity="0.75"/>
<circle cx="433.4" cy="330.9" r="2.5" fill="#e6550d" fill-opacity="0.75"/>
<circle cx="430.4" cy="330.9" r="2.5" fill="#cc4c02" fill-opacity="0.75"/>
<circle cx="435.0" cy="330.6" r="2.5" fill="#fd8d3c" fill-opacity="0.75"/>
<circle cx="429.8" cy="330.4" r="2.5" fill="#cc4c02" fill-opacity="0.75"/>
<circle cx="431.7" cy="330.3" r="2.5" fill="#e6550d" fill-opacity="0.75"/>
<circle cx="430.0" cy="330.3" r="2.5" fill="#e25508" fill-opacity="0.75"/>
<circle cx="435.4" cy="330.2" r="2.5" fill="#d94801" fill-opacity="0.75"/>
<circle cx="433.3" cy="330.0" r="2.5" fill="#f16913" fill-opacity="0.75"/>
<circle cx="433.4" cy="329.7" r="2.5" fill="#e6550d" fill-opacity="0.75"/>
<circle cx="430.8" cy="329.7" r="2.5" fill="#e25508" fill-opacity="0.75"/>
<circle cx="429.6" cy="329.7" r="2.5" fill="#e6550d" fill-opacity="0.75"/>
<circle cx="435.3" cy="329.5" r="2.5" fill="#fd8d3c" fill-opacity="0.75"/>
<circle cx="434.6" cy="329.5" r="2.5" fill="#e6550d" fill-opacity="0.75"/>
<circle cx="434.3" cy="328.9" r="2.5" fill="#fd8d3c" fill-opacity="0.75"/>
<circle cx="436.5" cy="328.8" r="2.5" fill="#d94801" fill-opacity="0.75"/>
<circle cx="432.8" cy="328.8" r="2.5" fill="#e6550d" fill-opacity="0.75"/>
<circle cx="429.6" cy="328.4" r="2.5" fill="#cc4c02" fill-opacity="0.75"/>
<circle cx="433.3" cy="328.3" r="2.5" fill="#cc4c02" fill-opacity="0.75"/>
<circle cx="430.5" cy="327.7" r="2.5" fill="#fd8d3c" fill-opacity="0.75"/>
<circle cx="432.4" cy="326.8" r="2.5" fill="#e6550d" fill-opacity="0.75"/>
<circle cx="432.0" cy="326.5" r="2.5" fill="#e6550d" fill-opacity="0.75"/>
<circle cx="432.0" cy="294.5" r="2.7" fill="#d9541a" fill-opacity="0.85"/>
<circle cx="432.5" cy="308.3" r="2.7" fill="#e0601a" fill-opacity="0.85"/>
<circle cx="431.6" cy="311.4" r="2.7" fill="#cc4c02" fill-opacity="0.85"/>
<circle cx="432.4" cy="315.0" r="2.7" fill="#f08040" fill-opacity="0.85"/>
<circle cx="431.5" cy="317.2" r="2.7" fill="#d9541a" fill-opacity="0.85"/>
<rect x="422.43" y="334.00" width="19.8" height="10.40" fill="none" stroke="#000" stroke-width="1.35"/>
<line x1="432.33" y1="334.00" x2="432.33" y2="326.40" stroke="#000" stroke-width="1.35"/>
<line x1="432.33" y1="344.40" x2="432.33" y2="351.60" stroke="#000" stroke-width="1.35"/>
<line x1="426.43" y1="326.40" x2="438.23" y2="326.40" stroke="#000" stroke-width="1.35"/>
<line x1="426.43" y1="351.60" x2="438.23" y2="351.60" stroke="#000" stroke-width="1.35"/>
<line x1="422.43" y1="341.90" x2="442.23" y2="341.90" stroke="#000" stroke-width="1.35"/>
<circle cx="432.3" cy="294.5" r="3.5" fill="none" stroke="#000" stroke-width="1.4"/>
<circle cx="432.3" cy="302.3" r="3.5" fill="none" stroke="#000" stroke-width="1.4"/>
<circle cx="432.3" cy="308.3" r="3.5" fill="none" stroke="#000" stroke-width="1.4"/>
<circle cx="432.3" cy="311.4" r="3.5" fill="none" stroke="#000" stroke-width="1.4"/>
<circle cx="432.3" cy="315.0" r="3.5" fill="none" stroke="#000" stroke-width="1.4"/>
<circle cx="432.3" cy="317.2" r="3.5" fill="none" stroke="#000" stroke-width="1.4"/>
<rect x="334.50" y="266.60" width="117.40" height="90.25" stroke="#000" stroke-width="1.2" fill="none"/>
<line x1="364.90" y1="278.40" x2="419.90" y2="278.40" stroke="#000" stroke-width="1.0"/>
<polygon points="370.05,270.80 370.67,272.45 372.43,272.53 371.05,273.62 371.52,275.32 370.05,274.35 368.58,275.32 369.05,273.62 367.67,272.53 369.43,272.45" fill="#222"/>
<polygon points="375.35,270.80 375.97,272.45 377.73,272.53 376.35,273.62 376.82,275.32 375.35,274.35 373.88,275.32 374.35,273.62 372.97,272.53 374.73,272.45" fill="#222"/>
<polygon points="380.65,270.80 381.27,272.45 383.03,272.53 381.65,273.62 382.12,275.32 380.65,274.35 379.18,275.32 379.65,273.62 378.27,272.53 380.03,272.45" fill="#222"/>
<polygon points="385.95,270.80 386.57,272.45 388.33,272.53 386.95,273.62 387.42,275.32 385.95,274.35 384.48,275.32 384.95,273.62 383.57,272.53 385.33,272.45" fill="#222"/>
<line x1="364.90" y1="288.50" x2="384.60" y2="288.50" stroke="#000" stroke-width="1.0"/>
<polygon points="369.50,281.40 370.12,283.05 371.88,283.13 370.50,284.22 370.97,285.92 369.50,284.95 368.03,285.92 368.50,284.22 367.12,283.13 368.88,283.05" fill="#222"/>
<polygon points="374.80,281.40 375.42,283.05 377.18,283.13 375.80,284.22 376.27,285.92 374.80,284.95 373.33,285.92 373.80,284.22 372.42,283.13 374.18,283.05" fill="#222"/>
<polygon points="380.10,281.40 380.72,283.05 382.48,283.13 381.10,284.22 381.57,285.92 380.10,284.95 378.63,285.92 379.10,284.22 377.72,283.13 379.48,283.05" fill="#222"/>
<text x="21.30" y="311.70" font-size="11.7" text-anchor="middle" transform="rotate(-90 21.30 311.70)">Power (μV²/Hz)</text>
<text x="-0.30" y="11.30" font-size="14" font-weight="bold">a</text>
<text x="479.60" y="11.30" font-size="14" font-weight="bold">b</text>
<text x="-0.30" y="259.20" font-size="14" font-weight="bold">c</text>
</svg>
<script>
(function(){
var V=["#440154","#46075a","#470d60","#471365","#48186a","#481d6f","#482374","#482878","#472d7b","#46327e","#453781","#443b84","#424086","#404588","#3e4989","#3d4e8a","#3a538b","#38588c","#365c8d","#34608d","#32648e","#31688e","#2f6c8e","#2d708e","#2c738e","#2a778e","#297b8e","#277f8e","#26828e","#24868e","#238a8d","#218e8d","#20928c","#1f968b","#1f9a8a","#1f9e89","#1fa187","#21a585","#23a983","#26ad81","#2ab07f","#2fb47c","#35b779","#3bbb75","#42be71","#4ac16d","#52c569","#5ac864","#65cb5e","#6ece58","#77d153","#81d34d","#8bd646","#95d840","#a0da39","#aadc32","#b5de2b","#c0df25","#cae11f","#d5e21a","#dfe318","#eae51a","#f4e61e","#fde725"];var A="ABCDEFGHIJKLMNOPQRSTUVWXYZabcdefghijklmnopqrstuvwxyz0123456789+/";
var P=[["s00",125,[0.30,7.05,13.80,20.55,27.30,34.05,40.80,47.55,54.30],"DFFEDDFFEFGEDFEFEEFFEEEDBBDEEFEEEDEFFFEEDCDDEDEFFFFGFFEEEDEDDGGGGDECDFFFEBADFFFGGGEFFFEFGFFFGGFFFGEEFFFFGEEEFDFGGHFFGGGGFEFGFVWZVXPTZZXjbWaZgcbgdbYXQCBRZdfeXSQQVbZSWWXbdfWafjdYbZYaUWTVTUbVSUVhYYVYjZCAPgbZadhbddedjigcjhgfcWXYaeZcigYdgfemlfgagkgbabekfcdedbcZYdecogZfiojjqllaeXECVfkspiYXVcfcZdfkhikagosigmfhncaXdYZgbacbobYWZpfJBWqnnjhjfmknkrsnlustpihhfknhkqleimjkwwpooqtqifjlwumfieeeaZfgZwmgggpkkqknhjZDDZjooohbbbfgbYfekiiqginskfniklcgacXaeddddndcUZrjHCVuplmmrkmjokttoqxuvsmklonkhjpnlmsnmxroorotqknlrvppencaebadfcxkfcdoiiuljhiVEGWforlhcaaejeXghnhhobjnpijnedjagedWehbcbcpggZaulKASnogjpqinknhqprqtpqqpkiikhgjpqjosolvuqqqoqpkkkqvokZhZadYYacXpgVacnefkhjfgRABWfnpjfeYZchaXdcgfdodgnnegmgdeWfXXUZgZYWbobeXboiGAPpoclmogkhidnnoormlnlhdhhfcfkienrphmniqrlpojigishfWkVhYSQTSQgjWXYldqiYVWVLAARnecZZTSVkdUPVcUVXtobZaXfgWWWQUQTPUYOQOQegYjYdYDAMleUapfWdbbnjnddgecccZTTZakkjvrddeZceaccddcbXXchYaHLLhPIGIIFRfNJLcNLNKJIKFAALrRNLLIIGIJIHJIFJNkNLJLIILHKIGIHIIJJHHFIRiTpNMIAAHeQKMONKMLOhTiOLOLLLKKIJKOmgVzzQLLJNMKNKMNMLKJJOLM"],["s01",125,[0.30,7.05,13.80,20.55,27.30,34.05,40.80,47.55,54.30],"DDDDDDEDDEDDEEDEEEEEDDDDDDDDDDDDDEEEEDDDDDEEDDDDDEEEEEEEDEEEEEEDEDDEEEDDDEEDDDEEEEEEEEEEEEEEEEEEEEEDDEEEDDDDEDDEEEEEDDDDEEDDELLJJKLLKMMJKONLLNMONKIJKKJJJKJKJKLMNNMKJKLMLKJJKNPOMLNOLKMLLMNLLMKKLMMLMMMMLKLLMMMMNNONOPONMMNPMMNLKLMNMMKLLLKKLLLMNKIILMKKLNPNMMNOONOPMNTSONQORQOLLMLLLKMKMNNPPQQPMLNPQONNNMPSRQOQSONNNOPPNNOMNNOQPPOOONNONPPPPQQRRRUTSPPSUPQRNMNPPPPNNOPOMOQQPSOKJMPOMNRQQONPPPNPQPOUTPORQSQNLMNNMMLONNOOPQRQPNMNQSPNNNMQTSQQRUQOPPQRROMNOOOQQQQOPQOOPPRQQRSSSSTWUTQQTWRRRPNQRQPPNNOPPOPQQPSNLKOQPPPQRQOOQQPNPRNNTTQPRRUTQNMNNMLLONONNPPQQPOMOQRPNPOMQUTQQSVRQPQQQRONOOPOPQPPOQQOPRQQQPRSSSSTUTTRRUVRRSQRURRRPMMNOOOQRQRSMKLOQPPOPPPNMNNNMOQNMRROOPPSQOMMNKJJKNMNNMOOPPOMMNPQOMMLKOSROOQSPPOOPQQNMPPOOOPOONOOMNPOOPOQSRQQRSSRQPRTQRSPUdUQPOMNNONMOOOPRMKKMPOMMNJKIHIHIIILIIMLKJKKNLJHHIHGHGHIIIIJJKJIHGIKLIGHHGKMKJJLMKKJIJKKIIIIJKKJJIIJKIHJJJJIKMMLLLMMLKKMNKKLJToUKKJHIJJIIJJJKMIGGIJIHHIFFFEEEFEFGFEGGFFFFGGFEEEEEEDEEEFFFFFFFEEFFFEDDEDFGGFFFHGFEFFFFEEEEEFFFFEFFFEEFFFFEFGGGGGGGFFGHHFFGFRrSGFFEEEFFEEFFFGFDDEFEEEF"],["s02",125,[0.30,7.05,13.80,20.55,27.30,34.05,40.80,47.55,54.30],"DDDDDDDDDEDDDDDDDDEEDDDDDDDDDDDDDDDDDDDDDDDDDDDDDDDDDDDDDDDDDDDDDDEDDDDDEDDDDDDDDDDDDDDDDDDDDDEEDDDEEDDDDDDDDDDDDDDDDDDDDDDEEJIIIJJIIJKKJJKJIIJMKJJIHHJJHIJJJJKKJJKKJIIHHHJLJIIJJJJKJJIHHIJJJJKMLKIIKLKKKOLJJKJJJKKJIGIKKIJMLJKKLLKIIIJKJIIIJIJKKIIIIIKKLLJJJJJJKKKMKKLLJIILNLKKJHHIIIIIJKJKLKKKKKJKJIIKLJIIKJJJLKJIIIJJJJJLNLKJJLOLKLOMKKLKLMMLLJGKLKJJMLKKLMMKHHIJKKJIJKKKKKJJJJJKLNNJKJJJKLKKLLKLLKJJMNLLMKIIJJJKLKLKKLLLLLLKJJIJLMKKJKKKKLLKJIJLKIIJKNLLJIMOMMMPMKLLLMMMMLKHJKLKKNMKLMNMLIHJKKKKKJLLLKLKKKJKLLONJJJIJLLKKLLLLLKJJLOLKLJHIKKIJKKKKKKKKLKKKKIHIKMKIJKKKJLLKJJJKJJJJKNLLJJMPMKLOLKLMKLLMLLJHJLMKKMMKKKLMMJIKKKKJJKLLLMLKJJIKLMNLJJIIJKKJJLKJKLKJILOLKKJHILLJJKKKJKLLKLLKJJIIHJKJIHJJJIJJJJIIJIIIIKMLKIJMPMLLOLJKLKJLMMLIGIKLJKMLJJKLLKIJJJKKJIJKKLLLKJJHIJKLLHHHHHIIIIJIIIJIIHIKJHHHHHJJIJJIIIJKJJJJIHHGHGIJJIHIIIHIIIGHHHHGGHJKJJIHKMKJKMJIJKJJJKKKIFHJJIIKKIIJKKJIIJJJJHHIJJJJJIHHFGHIJJEEEEEEEEEFEEEFEEEEGFEEEDEEEEEEEEEEFEEFEEEEDDDEFEEEEEEEEEEDDEEEEEEEFFFEEFGFFEEEEFFEFFFFFEDDEFEEFFEEFFFEEEEEEEEEEFFFEEEEEDEEFFF"],["s10",125,[-0.50,0.93,4.30,7.67,11.05,14.42,17.79,21.17,24.54,27.91,31.28,34.66,38.03,41.40,44.78,48.15,51.52,54.89,55.40],"ZWXTXbchbalaWXadURXlmbVdXUTadZcdxxdSUWRVfkcikfVRUWdjaeVRemglfYcdecXbVebVYQQSWfefZZmohdcZbVVarkgjjqnnilvmkslfinlilijeacgmlplojUTXXccchbWeYVWXcTOVlnZXgZVUadbcbxzeRTSTWbgfjjfURUWbjadXSdpjneXcbcaaeZidXVOPRVhigZVkngcbZYWYevmhhkroogkvkitlchljhieifcaeomojpjSSXWXadeaWcWTVWZSPWllYZiXSUXYafdx0fTUVUUYhfhgdTQUVbmbcXRdpkkbYdeeaabWgcVWQRQVfhiZXnpeabZXVXdunihkqpphowjiulcipokiekkhbdmnpjmfTRXVTYefaZeXUXYaVSXlkZckXTWYacccy0gUUUTVakhhfaSPSVcmaaWTeqloheefcbbcZhaXYSQOSeiiXXmneZcZWPUcslhiiqsrhkrjitmglpnjiejjiccqpohleYTWSTWeeVYgVPSXbXSVjjXalZTVWZaacyydUXWUYfnjigcUPTVclbZUTcphnkfgebbegdjaTWTPPTbhhYXmkbbcYVOTdskgihrvuiisllsmilrnfgcgfgaaooqjneYVZSRXfeYYhXSSYdYUUggVYlYSXXWWafz1hWWTTaglhiieYRTUcndZTQbshmlhlgcbfjhjbVVRNMRWceXYonbacXUQYjwljkhrtsiirkismhipoijgjghaeqnrlnfbZaUQWhgYbjYROXfZVVhcUXlaVaZVVXdw1iVVTRXfkhgghbUUUdqfaTRdsipnkogZYekigYUUPNNTbedWXrnbabWUSagrkikissshiuljrkegstlkfkkndgsnpjmeUVbXSWggYblXNPagbWSgbVYmaUbeYTXdz2iVUTQWegdfjkcWWTcrfbRQctkqojogYZfkhgZVUOOOUZceXWpodZYUTPXgqjlomtsqdeskkshbgvwllijjocfunpmqhWXdXQVdeZbmYQTajfWRgcUYlbWbgaVXcx2jWXUQXhjdeljbUQNareZPPapiomjnjcaiokgWRUOOSVXbeVWoldZUTSNTetmlnksqpceukltgZivwnkghgmcguoolpgXWcXQXgiccnXNTdjgUTibRYndYbjdWbey3hTVSQYgidfigbWPJYsgaPNaohqoileZbgljcUSTLMRUXbeXVlldXSSPJVhslmljrrpchvkkreYivvmliiglegrnljqgXYeVOVeidbkUMTcgdTVkdSYkcYdmfXhhy2gRXUSbijcfgdaVNIWsfZRLWnhrnfjeccejhbVSSMOPRZehbWkkdYUURLVgukkjiporehwnmtfViutkjfhglcgplompfaZcSMWfhaYhUNWhjcRRhgTWiYWcjeYghv1iPUTRbjkcegeYSKIWqbXSLXlfqmffcaacgjdZWSLQSTWZfcYmiaYTUUMWgullklrntfguomreXhuxmkfhelcepoplndcadTMVgjbYgWRXhkaPQihSUiXVdkfZfdqxfQWVUehjdeggYRMIXpaaUNZmhqhcfaabcehdaWTMRSWXYfaZmiaZSTUMVfsjiihpruhivonseWiuwmlgicgZaorslmbdcdWPagidbhWRXklYNNghUXiYSbkfZhdrzeSWTVfhkffhiaRJGXrdfXPangqhbhdcaZZbabZTQXXaYYgcbnjaZRWaRVdpfeiipovmkxoptfYjvwliekfgZZpuulpeYcgYRbefddlYTajkZOPigSWhaSalhbgbqxbRXSTehhfghhaUMHYqehdWdogriZecbaZabcfdURWTWYahcdokcWPadVYeofhklut0tr2uy2mfq02wrjurphiy01rxkZeiVPbhhbclYTdnrcQRriOVkdPWljenir0idfUYfjoljmkbVJFewkhWPcshohcbeedfipnjfgbXUNUdfijppqmXihahmumqxy53814/9//unu276yp142ww//+02u001okojpxz9wln7+mbevyqu2vns1ux1s77opxehxyyy6/5mtpZl/03xoy/184sv552yrkovyumjeegoysp+8xolswwz6/v0//////7/////3/////789////////+y4vpflhqtr0rnr48nWb5xmpvojrvtx7v6/wlrlj12118zsdWZhw/zyogr9y8vqrzzqmsoywpvoloqwwsrn46yqouzuw48uy86//////////44////9//888//////"],["s11",125,[-0.50,0.93,4.30,7.67,11.05,14.42,17.79,21.17,24.54,27.91,31.28,34.66,38.03,41.40,44.78,48.15,51.52,54.89,55.40],"QOOPQVWRQQRONLMKKOSPMORRRROPQSRTVYSTRUPQRRPSVRNMMUPKLMONOQPRSOKNQSQMMRPKJKPTUVRMLOPQQTTQNNPOLNQWUSSQMOUWVRPQTRNNNKIMOQTUYPKLPQQPORVVTRQQONKMLLORQOQRQRQMRSRPWXXQSPTPOPQQTWRPNOUPKMNNNNNNPRPOOPROKLSSLIKOPTYQKJPRSSRRPMOQPONPUVSTQMNTUUSPPUSMMNJHNQQSQXQKMRRQQTUVTSSQQPJIMMMOUTQQPOPOKPRPMSWXPTSTNKLOPUYRPPPVPIJNQPPQQPQMOOQRNKLTPKJNONRXQKKOPRPPPMKMPOOORUTSTQNOTUUSQRURONMIHKNOQRZRJIOTSSUUTSRSRRRKIKJMOUTQNONOMJPPOLSVWNQTVQMLOQTXSQQRVOHGOQKNPOMOKNQROLKNTRLJKKLPURMKNQRRRTOLLQNOQVXUSSNJNTUTSSSVRNNOLKNOOQRbSIHOQTTTVWUSRRPRKGJKNOSTPJLNNNMQONKQTWNQSTRQMPSVXTQNPUOGGLNJORNMOLMPPPOKMRPJGKNPQVRKKOSSSQPPONQPMOWZXSSPLMTUVXVVWQNMONLLKMRUcTLKOQSRRUWWRQQQPLJKJLMSVQKKMONORRPLQSUNPQTSQNRSWZVQMPTMFHKMJQTPPQMOQQRQLKONIGJMOQWUPMPTQQSTUSRTQONUWUOSQMLTWUUSWVQNKLKMNILPUcUMILPSQQUXXQQQQPMMKKLMTWSLMOQNNQRROORUNSRTWRLOQWaVPMQTMHHKPIORQPPLNPOQRMLQOJILONPVTNMRTRRSSQPRSQQQVVSORPMMUYVWTWUQMKOLJLJMQTaSLJOQPNRUWXPNLPROMLLNMSWTMOQQOOORSQNPSMRQSURNPPUZUPLPSLHGJPNQPOPPMNRSRSPQUPLLNOMOURONSTTTTTQOQSORRWXTQSQOPVYVVSUURLINKILJNSUaRNLSPONQSXaRNMOQNMKINMQWUMPQQNOPPQPMNRLRQTUQMQOTaUQNOSMGFLRMQQOQPMNQPSTQQSPNNONLPVRNMPQQTSVTQRSPSQVXUSRPOOUYVVTUURMKPNKPNPSVaRNKQQPMQSYaRMMOPLMLGNORVSOPOPMMPPQPNOROSPTVPLSRVcVROPRNHEJQOQRRTQJINPRSQPRQMKNNNPTSPOQPPTUVURQQPRPUYVSSPLLSXWWTUUOKKPOMQMMPUZQMLSONMSVZVNKJNNJLLGNOQTPMQNNMMRTUQOPURWQSQNLTSTaWQPQSOKHLQPQRQTPLJOQPSQPRQOLPQPPSQNMPNPTVWSRQPOPMSWTSTPLLUcXVSRSOJLPMKPKLQVZPNNRONMQUYYPMMOLLNMHMMQVPNSONLLRTTQQSYTWPQRNNSRUcYQMMPNKILRPQQPTQLJOSSTPPTTQLNOPPTTPNOPQSVVSSSQPONSYTTTOLNWaUSRSTPKMQMJQLLNTZPMLPPNORTYYRPOPPMMKGOPSWPNRPPNLSTSQPPVSWPRPOQVSVcXQNMPOKIKQOPQNONLLOQRUQQUUOMONQSUTMKOQRUWTPSSRQQNUZTSSMNQZbWUUUUPMNSNIOMMPVYQMLQMKNPTZaSMLNPNNLHPPSVQQTRQOOUSRRRQXUTNSRPSXSUcWRQOQPMMNRPQSPOOKKOQRVSQUUOOPPRUWUONPQTUVTPPPRRTQWbURQLLOWaUVUUVRMNSPLPKLQYbRMLPONOOTYcXSMOQPOOJQRUWQRTRPPQVRRUUSXVTMQSUXaUVdYRPPTRKKOSPRSPPQOMQSRURRVTMOPQTUWVRNPORTUURPQRRTSWcXTTQLNYcYWUVUTONQPNQNNRYcTONSVRRRUaeZWQTWSQROVUWYUVYWUTUXSTXVUbWUQWXZZZVWeZUUUYUNMPUTWWSUUQOSVUXTTXXPSSUVXbXTPUTSVZbUQTUTURVfbWWTNOXcZXZYWVSNSUSTRSWcdTQOReecbdjnheadeZXYXfefjedhhecceacdeflfeahhihhehojecdifZWZccdddefZXcedfaZefadbdfjkhcXefddjldaabcdcgnlihcXXeigghhgfaWceYaZadklebZceacbgkmfcbfhcbbXgegjgfifbbcfdgggfkigbggjihegolgcdkfZVWaZbbcddYXfifhfbfhbcdeilkhcWceddilcZZZabZfmkjifYZfihghggfcYefbbbcflndbae"],["s12",125,[-0.50,0.93,4.30,7.67,11.05,14.42,17.79,21.17,24.54,27.91,31.28,34.66,38.03,41.40,44.78,48.15,51.52,54.89,55.40],"QZbVRQMOQOQNORXaRSWUZWUVUWQQOSXUNMPPQTXWPMNPRRQROPSaUSQURQROOPSUYQNLNOQSSSSORQQRUZROTUTUSTSUSRTSTTPMNQUTWbUTTTRPRTUVUWTOLJORSRZcWSSNPQOQNOSZbQQXWYXWVUXPOMOVUMMOOPSVWPNORRRQQQSSYVTRSONPNLPTVXPKKNOPRSRPNOOOQSZSPUUSTTSPQSTUSRTRQPRXUTYQOSSRQSTUUXZTPLJPQQVadURSMRSPSOQTaaPQYWXUTWUVPOMOVVNNQPPTYZRPQQRTSSRVUYUURSNMQNLORUXRMNQPPTUSSOOMNQUYTSVTRTTTQRUUSSRSRQNOUSTXPORTRQTWWXXWTPLKQOQTYbUQRLQRPSNQSYaOOWWXWVXVUOQORWWPNPOQTZZNMMNORSSSWVZVUPOMMPPPPOSWSNNPOORSSTPPNNRUYUTWTRWUURRSSSVVTSQNNUUVXQPQQQRUWVVZaUROJLOPSYaTSTNRRQUQSUZdTTXTWVTWXTMPQVZXPKLMPSaaPOMLNRQQPVWaWVQQONPPOOQTXTPNOOPSSTSOPNNPSYWWWTRTVWROPSSVVTRPLQWUVXRQQQSSVWYWXaTSRNMMQTabWTSNOPNRMOSZbSVXSWWSVVUMOQWbYRKMORVbaQONMPQOQOSVcWSOPOPRQNNPUVQMNOPRSSVSOQONOQXVUXTRTTVSQTVUVVSPNMRVRUYSQONQQUUWWWZUTQKMNROYbWSRMMOLPNPUacSTWUWWUXVVMOTZcaSLNMNQaYPOONQRNRQSXeZVQRPQRSPOQXYRMMQRRQRVSPQNNPRXVTXTPRQSQRSTSUVSPOOSUPUYQQPOPORTXVUXUSPIKKNPYbVRQMPQMQMMPXcTSURWXUVUVOOSZcYRLLOQSYWNMOOQUQTRUXcYSOROORRPOPWWRNNRSRRSXWQQNORRTQRWSPRQSPRVUTUVTPOOTVOSZTQQNMLRTWRUYWSNKMMMQadWPOKNONPMMTaZQRSRXVSUUXPMQYdXPKLOQSYXPNONOTQSSUZgZSPRPOPQPPQWXRMMQRQRTXVQQMPTSUOSZVRQPRQSWVUVUTPMQUWSRYTPQOONSSUQTWVSPMNNNScfXSNJNOOOKLRZYMRSRYVUVSZQNPWbWPMNOSUXYQONKLRPSPRXdXTRTPPRTRSTWVPKLRRPRUXTOQMPURSOTZVTTQSRSVSTUUSNMQRSRSYUSTQQPQPRPSUUSQMPPNQZbUPLIMMNPLKPYZORSRXURUUYOOPVcYOLNPQTaaSONIJROQNPWfXRPQOPRSQORWWOLKRURQVYUOQMPUTSMRWWTSSURRVTTVTUQMPRSPSZUQSRQNOQTRTTSTTPQMIRbdVPNMRRPMIJQYXORRSZXSSVZPNPUaXPMMOPUaZTQNJIOLNLQWdVRRTQPPQQNRZZPMLPSRRTWRMOMQVTSMPWXVSSTPRUTSVUVTOPPSNQXUTTRQNNQTOPSSQPNNOMNbdWSRNQQQPKLUbbQTVVbWSTWbQMPVZVONPQSXcZTPNLIMKNMQVYSRSUPNNQQORWWQKJPRSTVXTOQOQTSUPRUTTQSTPSWURUUVQMPPTORaXVTSPNPQTOQUTQNMOOOLaeXSRPQRQOKOVaaQUUUaWRSXcQMOUYRLLPRTYbYTRPMKPNQNQVYTQRTONPPPOTYVQLLRSTTXYSNPMOSUYSTUTSSSTQSUURURSOLQPSOTbWUVVRNNQUOOTSRNNRPNMadWQQPRSROJNVcdTXXTYVTVWaONSVXQJMRVWWYWUVQMLOLOLPUYTPSWQNPRPNTYVPJJOQTUXYSNONPTWaRRSSTRPSRSTUSVTSNMRRUQUbVVWURNOQUQRSQTQMPQOMYbXQOPTTROKOUbeXYXTZYXZZZQOQTYUMNQUWXYUSVRPOPNQLPWaUQTXTQRSQNTaWPLMRSUXZYSKNQSUVaSSURSQRSQUVVVWTTONTSVRUaUVVURMPQTQSSPTUPSQRPchcTPRVWVQOSWciaaZWdbZbbbSRTSXVPTVYXYYWUWUSPQPTNQXdXTSYWVUVSPVaXQOQTWYbbaVPQSVXXbTSXUWUUUQUWYXYUTQRWUXTWdZWWUROUVYUUTQSTPTURPbfbUQRYZXTSUWbgZabXecacbaRQRTYVOSWYXZYUTVTRPQQTMPWeaURYVTTWTPWbWRONSWWXYZWQRQTZabTTZWWUSVQSSVVWTUQQVUZUWdaaXUROWXWTTTQRSRQSS"],["s20",125,[-0.10,0.69,2.38,4.08,5.77,7.47,9.16,10.86,12.55,14.25,15.94,17.64,19.34,21.03,22.73,24.42,26.12,27.81,29.51,31.20,32.90,34.59,36.29,37.98,39.68,41.37,43.07,44.76,46.46,48.15,49.85,51.54,53.24,54.93,55.50],"EHHFGGGHFFEGGGGFGIIGGGEFEFEDGGFFGHGGIJIHHHHGHGIFGKHGFHIJHGIGHHGGIIIJHGHGHEDEHGIHHHHIJJJHJHGHIJIHGIJHIHHIHHHIJGHHIGHGIHGGIHHJIGHHEFHHHGFEHGFHGHHHGFGEFFFEDFGFGIIGFIIHGHHHGIGHGHJGGFHHJHHIGHIHGHIHKHFHFGFCDGGIHGHGIIJJHKHGHHJIGGJJIIHJHGHIIKIHHHHHHIIHGJIHIIHHHFGGGGFFEIGFHGHIHIFFEFGGFDEFEFIIGEIIHGGIGHIEGFHKHIGIHJHHIGHHHGIIHKHFHGHFEEGFHHGHGIJJHGKHHHIJJHGJJHJIIHGHIHKIHHHGHGJHGHIJHHIIHHFGGGHFFEIIFIHHHIHGGEFEGFCDFEFHHGFGGIHIJHHHEHGILHJFHIKHHHGHHGGHJIKHFHFHFDDHGIHFIHIJKIGKHHHIJJIGKJJKJHHGIJHJJIIIHHIIHHGIIHHIHGGGGGHGFEEIIFIGHHIFFEEGDGFCDEEFGHGFGHIIJKHHHEHGILHIFGIKHHIGHHHGIKIIHGIGIFDCHGHGGIIIIJHGKGGFIJIIGLJJKJGHHHIHKKIJIIIIIIHGGHGIHHHGGGFGHGFFJHFIFHIJFGGFGDFFCEEEFHGEFGHJJIJHHHFHHILGHFGHJGHIHGHHGHKIHIGHHHFCDIGGGHIIIIIHFKGHGIJJHFLKKKJGHIHHHKJJIHGIHIIHGGFHIHHHHHGGHHEEGIHFJGGHJGGHFGEEFCFFEGJHGFGIIHHIIIIFIGILFGFFIJGGIHHIHGHJIIHFGHHECEJHHHHHJHJIHGJFFGIIKHEKJJJHGHIIHIKKJHGHHIGGGFFGIJIHHHIGEGIEEHIHFJGGHJGIHGGDEFDFFDGJHHGGHIHHJIHJGIGILHHEGHIGGHHHIGFHJIIIEGHGECEIHHGIIJHIIHGKFGIJKKHDKJKKHFGIIIIKKIHGHIHFGFGFHHKJIIHHFEHHEDHHIFJGGHIHIHFGDEFDGFDGJJGGHHIHGIIIJGIGJMGHGHHIGFHIIIHFGIHIHEHHHECDHHIHIIIHIIHGKFHIJKKGCKKLLJHGIIHJKKIHGHJIGGGFGIHLJGIHHEFGHDFIHHFKHIGJHIHFFBDEFGGDIJKHHHHKJIKIIJHIHJNHJGIJHGGIJHIGGHJHIIFHGGEBDHGIHJHJHIJHGKGIIJMLGDKLJJKIGIJJJJKJHGIIIIIGHIJILLFHHHGGHHDFGHHFJIIGJIKHFFCDEGGGEIJLIIIHKKHJJHJGIGJNHIGIJHIIIHJIHHHJHJIGHHGECDIGKJJHJJJKHFLGIIJLLHEKLJKJIHJJIJIKJGHKJIIJHHHKHLLGHHIFHIFDEGHHGIGGGIHKHEFCFFFHHEJIMJIJHLLKKJHIGJFIMGIHIJHIJJIIHHHIJHJJGGGFFDEJHLKJFIILKHFLHHIILNHFMLIIIIGKHHJJLJGHLJJIKHHHKHKMGHGIGGHEFEHJJFHHIIJJLHBFCEGEGHGLKMJHJIMKLMJIJILHJNHKHHJJHIJJJFIHIKKIIEHHGFCEJHMLJGJJMLHELIIHJMOIFMKJIKIHMHHJJKJHIKJJJKIJJLHLMHFHHGHHFGGIKIFHFIIJJLICGCFGFJIHKJNLGJKLLMOKILKMJKOHKIHLJHGJJJGIGJLKLJGJHHFBELIOMIHKKNMIGNIIIKNPIFLLKIKIHOJHKKMKIIKJIKKJKILHLLHEGGGHHGJGIKKEGGJHKIKKEIDGGGIJIKJONILLMNONLILMMKLPIJKJMJIHKKKHIGKMJMJGKIIEDENJOOKIMNONKGOJJHMOPKFKLLJLIIPJJKMNLIIMIJLLLLJNILOHEIGEIIFKIIJJFGHJHMLKKGJEJJHJKIJLQOJKKNONPMKMNMNMQIKLHMLNJNLKKKJJMMQMIMKJFCGPJNPNIMORQKHNKLKLNQLGLNMNOKJOKJINPLHINKIKLMPMOJMOJGIIIIHGLKJMKHKGJJMMOKGLFHKJKMJJKSPINNQQMPMKNOOQNWKOMHNMOKNQNJKJLOOTMJOMKFFHQJOOMINQSRLHPMLJLOQNKPRQQQMINKJIPQMMJONKMMPQLPLOQJIJLKLKHLLMOKKMJJJMLRLFKFJNKLNHILUQKOOSRNQQLSORURWIOOMPPQPQTNIKJNQRUMKROLIFHTIRQOLPSWQKJPNMKNMQQKQWTRSOIQLILSSPMKNQNROPQMPRNQHLLLNMMMNMPSNKOLNKNLRLHNGOOMONIHOZTOQQUSQWTMUQSRRbLSPNRTRORURJJIPSTWOPVPQKGGWMUTSOOUYSQNSPPMOMUSJUZUSXSLTNLQTTSLLOSMRPRURSSORORRPOROMNOQYSOROKKPMPNINJRNMROJHObVUSSYWUbXQVUVRWgMWTPWWVQNVSMLMRVVZPRVPQNKGXKTWZRRUfbUQZSPPORZXNXbYVZZKVONSXXROOSSKTQRVWUXTTJTPNRWSNONRaYOQQLJROQMIMFTRNWSQIPdYXTRVTXbbSaXZVYjOWURXbUOOYUPNKTaacTTYNPQKEZMTYbVTXjfVPZSRQQSeYLagaYZdOaSWYdcRSUWTKTPUWYWYUUNRRLRXZRSRVedQQRNPPOSOJLGTOLXUVIRfWZUTWUageVbacSekMVTRVeURVaPNNNXbbfXXcNSOKHdOTceSYchlaTZRUUUafVKekgdefTfXXXflVSUWYQROTSaYbUVPSWRTYZZSNQacQPJTSMPSWMKDWMIYURMSlYcbYYSbdeVddgWglMbUUXcXSagRROPZcekaaeOQPLLfRWcdLZclqaTdUYUXijcNeolfmlYcVWYjpaUbWYSXKYUZRbVYMSTRZhZfXTNVaRSDVZPURYKLAaTHZTROUmafledTafgXdcgYiqSdYXeXVShjWUPQaZejbYaNNNNKkPadiNcklugRgVXYcljcOhtlfroVidfdjodYcabQYUXWZTcWdTVORYhdbaTRYbVYBVSPZQVJLDbQCZXUVYmccqfeUdfcedUaXdnOcXTjYXallRQQSeegkbXWMQOMNoUddnTdorwiPgYaXjnkaQfvkilnZjggkkjYecdZQeTaVXUbWhNYQMaikfdYLTVPaGfQOcTXIQFYRAceTedmgXlehTaekhYOcdfvUaUWmZWXnpUWWSjflodZeQVURPnYfesdgoq1mUiXWahihUMjuihgibifagojbdihfUcTbXYTbYnPhVKZlqdcZORXRgIlWUcQOGJFRKCjkSbdokXkeeXcmkhYUnoh1ciWZmYYejqTYcQncsqrZZNWQPMthfjtjlpptvTpYaXkhgUNhtgmekYfccjtlfaalhXXVdeYXdduRjYMZimdcVJQRVaHlVWfQVFOCNDFjcXXZicfgbkYYrwkWOhgdxckcTlaTkmhbVdXlimllXiWRIMFkehhphnuqqtSjYccnheXUjtcgdfNfhlfoibfdfjYYOSfYYee1RWWPagfabXLRSScHqUYeWYFYLQEAkZWOXohflbsZVowmTRmlfyWejVkiUipkSNfaejsrnefYUFJJnebnrjmxpqqarZmamjdWPguidUYIekobudbfagfXUMTdZaadqUWZNYdZWfYMUSZhIjbScZaBVGOAAfYQLSqfegcpbTdubWSsho3bmdReiRpupRKVTgjspefbXUEIEqeblnlr0pqvfwfmdhgeRLhqhmSbPkqtenacVfkmYZHQeiadilOOiUXZZdYRGYWTZLofVcfWEYJNAAfVONVpeXgbtkWnrbWRrkp1hodVmkRmvuZGXUhmkpclbVSENHseghqmyxslsdqYhYcmcLJkjibSZRnoiejZYUjmjRVJQihWfhcMRkKVWVXZRCWdMPJoeUccXLTIFAAhgYOZqlYgfxhZjwYXVthnsQbZVZfOZprbKVYdhimdijbSDIIqffhph2urmmhpcmaipbRJmhiZXcRfcmcdZYWZhlZYNVhZWaqhTYfJaXQTcZHWZERNfeYfcVPRMHAAfiSRUtiabkoWRkuWUUvfhxXfUQabTZvsbSaQgjYjdkhWKAGDlfhjolql1sfXwbnoffgRWkggbWZRYUjajhkjXeofiOTngUbmmTWXFZPKXgaGRYDOQgUlgbVWWLHEJjmVXaznVXjiZRfjQRdxljxYkVQWVNcptTVeIXkdmbjiLGACBkWgrrknr3wcVtYmokecUTgbaaSWUhWhdpgklUWnYWMXncaanh"],["s21",125,[-0.10,0.69,2.38,4.08,5.77,7.47,9.16,10.86,12.55,14.25,15.94,17.64,19.34,21.03,22.73,24.42,26.12,27.81,29.51,31.20,32.90,34.59,36.29,37.98,39.68,41.37,43.07,44.76,46.46,48.15,49.85,51.54,53.24,54.93,55.50],"HHGGHIHHHJHHGHHJIIHIIIJHJIIGHIIGHGHKJHHHGIHGIJJIIHIIHHHIIJJIGGJIIGGHGHIIIIHJHHGHJIJHHHHJHHHGHIHHIJIGHHHGHGHJGHGGHHGJIGHHHHIHIIHGHHIHIGJHHFGIKIJGHIIIGJIIFGJJHHFHKIHGGGIIHIJJHJHHHHHIIIIJIHGIIIGFHGHHJIJIIHFFGJJJIHHIJIHGGGHHHIJIHHHHGGGHJHHHGHGGIIGHHHHIHHIIGGHIHIHIGIGHHJIIGHIJIFIIHEGKIGHGHJIGHGHJIHJKKHJHIHHHIIHIKJGGJHHGFHFHHIIJHIHGFHKKJHGGHJIGGGGGGHIJJHHHIGGGHJHHHHIHGIIFHHHHIIIHIHGHIGIGIGIHHHJIIIIHIIGIIJFGJJGHHHJIGHGIIIGJKJIKHIHHGHHGIKKHHKIGGGGFHHIHJHIHFFILKKIHGHIHGGGFGGHIJIHIHIFGGHJHHGFHHGIIGIGHGHJIIIHGIIGHHHGJIIIIHIHIHIIGIJJFHJIGIGHJIGGFHHHHIKKIJIIIGHHGGIKKGHKIHGGGGHIJIJIIIGFILJJIHFHJIHGGHGGHHIJHHHHGGGHJIIHFHHFHJIIGHHHIIJIHGIIGHHHGIIIHHHHIJIHIFIJKGHJIFHGHJJGHHHIHHHIJIJHIHGIHGGIKKHIKIHGGGGIIJIJHHHGEGJIJIHFHJHGGGHGFGIIIHHHGFFFHJIIGFGGFHJJHHHHIIJIHGFHHGGHHHIHHHHHJIIIIIFIJJGHIIGHHIJIHHHHIHIIHKIIHIIGIIFGIKKIHKIHGGGHIIJIIHIGGFIKJKJHGIIHFFGGHGHHIJIIIGFFFHIHHGFGHFHJIHHHHIIIIIHGGIHHGHHJHHIHGJIIHHHFHIJGHJIFGGIIJHIHHHHHIIJHIHHIHJIGGIJKIHJIHGGHHIJJIHHIGFFIJJKJGGIHHFFHHHFGIIHIJIGFFGHJHHHFGHGHJHIIGIHIJHJHFGHGGGHGIHIIHGJHIHHHGHIJGHIIGGGIIIIIHHIIHIIJIIHGHGJIGHIIJHHJIHGGHGIJJJIHIHGFHJKKIGHIHHGGGIIGGIHIJIHHGGGHJHHIFGHGIIHHIHHHIIHIHFGHGHGHGHGIJJHIHJIIHGHHJGHIHGGGIJJIIGHHIHJJJHJIHHHJIHHIIJHHJIHGGHGIJJJJIIHGFHJKLJHIHGHGGGIIIIJIHIIHHHHGHJHHIFHGHIIHIHGHIIHIJHEGIHIGHGIHIJJGIHJIIGGJHJGHIIGGHIKIHHGHIJIJKJHJIHHHKIHHJJJGHKIHFGGHJJKJJIIHFFHKKMJHIIIHGGIJIHHKHHIIHHHHHHJGGIGIHGJJIIGEHJIHIJHEGHIIGFHHHJKJGJIKJJHHKIJGHIIGHIJKJHIGHIJIJLJHJIIHIKJIIJJJHHKIIFGIIJIJJJIJIGGHKKMKIIHIIGGIIIHILHGHIIHGIGHJGHIHIHGJJIJHFGIIIJJHEHIHIHGHIHIJIGJIKJJJILIJGHIIGHIKKJHIHIJJIKKKHIIIHIKIIIKJKHHLIIFGIHJIJIIIIIGFHJKMJIHHIIGGHIJIILJHIIIHHJHHKHHJHHHGJJJIHFHHIJIJHEJIIIHHGHHJKHGJIKKJJJLJJHHJJHHHIJJHJGIIJILKKIIIIIIKJJJLJKHILIJGHJGJIIJJKJIHGIKKMKHHHIIGHHJJJJLJHGIJHGIHIKHHJIHIGLJJJIGGIJJHHGGKIIIHIGIHILJFJIKLJJILKJHHKJHHHJKKIJHIJJHLLKIJIJIHKJJILJKIIKIKFGIGJIHKKKJIHHJKKMKHHHJJHHHIJJJKKHHIJGHHHILIIJIGJHLJKIIGHJJJHHGGKIJIIIHIHJKKGJJKKKJIMKJIILKHHIJKJIJIIJKHLKKIKJKIIKJKJMKKGIKIKFFIHJIJKLJKJHHLMLMJHIIKJHHIHJJJLKHIJJHHHGILIIJJJKIMKKIIHHJKJHIHEIIJIJKHJIKLJGIIJLLKIMLKIIKKIGIKLKIJIHIIHLKLJKLJJKKJMJLKLGIKJKHFJIJIJKLJKJHGLNMNJHJKMJHJIGJKKLKHKLKHIIGILKIJJJJINLKIJHHJJKIJIDJIJHJMIJJLMJGKLMNMMJPMJIIJKIHJLLKJKJGKIHLKKIKMLLLKHMKMKMIJMLMIEJIKJKJLKLLHHMNMOKIKLNJIIIHJJLNKIKLLIIIHKNLJKIJJJOLJILHILJKGIIEKKKIJNJLJKLIFJKNNNMIOMJKJKJJIKMMMJJJIMKJLKJJLMLLMKJMLNLOJKOLMGEJJMKMKNLMLGGMNNOLJJMOKJJKJLLLMJJKLLJKJJLNMLLIKIJPOJJLIINLMJLIEMLMJMPKLKKMKHKKOONNIQPLNLLKKKKNPNJJIHMMLMLLKMNMNMLLOLOMPKMOMMHHKHMMMLOMNKGGOOPRMIKOPLKKLJLMNOJIKNLJLLJKNLMLJLJKPPKJLIINMNJLKHNLMKNRLNMLNKILKOPNLJRPPOMKKJJKOQOMJIHNPLMNLNNNLNNMMMNQOQMNQOPJHKHMOONNPNMJFMPPSNKMPRMLLKJNNMOLILNKKLLJLOMMMLLJJSRMLMKKPMOJNLIOMNKLSONLMOLKLMQQRNIUQROLMOLLKQSPNKIFOQLOOLMPPNNNMPRQRQTPMROOJGMIOPOMMRSNKIPSRTOMOPVMMLNKOOOQOJMOLLNMJNRONNKNKJURNNMJKPLOMNMJQMJLOUNQNKMMLNPSTVOKURRQMORLKHPWQPLMHOQMPRPKQRPOPMORQUTXQMQRQLNPJOPSPPTQNLLPSSUOPRQUOKJONRPQQOLMONPPPKOTNNKKPMLWQNRMJLRNNNSQLTPJMNXSSONLMLQRZXUQMaTQPNOSJMKSaTPMOHQSMQRRKSTPQQPORRWTWOQRQSLNQKTTTSQTUMKKRTRTPRUSVOMHQRTUPPRPOTRSSQMMTQQKLPLKWOPUNKMPNNQSSMSRKOObWVROJNNTScaWQKcTQOOPTNRLOZURMUJQRKPTVMUTSTQPQTTYRXPQVROLQSMUQQQRWWOPMUUSVMTWUWROKTQTTPUUONRRRRROSVRSMLPNJVSQTMONQNRPVTLUSLNOZTXPPNPOTQdYXSNdWROQRTMSOSeaTKSGTVOSTWKUWUSPRTXVYRVOOYROOQTKTRQUVYWQOOVXUVKQZYUTPNPOQQRVXQLSTWTWUVZSSNPRLEVSQRLMQRPSPXTLUSPNQdSVOOQSTVPebZTMdWWMRRULTOThZUNQHTaRUWTIVUURRQUbVVSbONXQOOSULTSPXbbXTONVZYYOQVVWSQLRNSTSZaSPUUXSQSZeWQKPUMCXTPSKOQQUUMYTNQOONSfWWQRUWSXReZdXMdXXLRQSMWRSkcULMGPYTTaXNVWYSRVVeYWRUNSYQPNSTPTTUXecVTMLTaZUORVUUSRPVQXVVabTPXWWSUVYeXRORXPDYXOTQRMQYPPbQKQSQPUgVWPTXbSWNaahbLddbOTSUNTNSmaUORJOYRVeaPaXVRUVPYZWOWNOXUQLRYLTWYbbfaUMJRZYXMRYUUZWMWSXWZcbTUZXWRRTehZUOQXQGebSUNPSNaWWeOKOTUTScTUTWYbRaVbYhaMfccOTRaSTOQkgTKRMOXRWcdUbZcVUXNaWUNYPPbXTQWaPWTYXcfaXLNUaZWPScUZZSLSKTWafXRPXYUOQSfmaUQPXRKgZVVPOSQZVYbPMNUXWPZQTQWWaVWWecibSggeRRPTSWOUnhTLUOOXPUacTdYXOQVJWZZSgLNhVUTVYOWUWZifZXIMWfdXSWeWZZNGMMWWbfcRPXZTORShsZPVQVQKdfaRPNRRZWZeNIPWYTObPUTVVgWXVcdgaUdceXVUWTUMPhfTPTLTWKZZdPbWVLTVKVVXThLNjPNSTUOXXXcidYSNPUhZbUUaYdYQNKOVYdfgaOcaSOUYirXNXOORKbcbQRMPWcbZfUJTXZRNWQWSZXfTYYaaeaWeZfXVRVSVNNkeUUTMVWHZfoRfZYQSUKZbYWjMMZNQQRZRbbZfffYPIRSjYdZVWXcVQLLSZXcijdUfWRUUXeoXOeQTPHWaaNPTSXcdUbQGSaaUMaTXPSWcRXWgbdcZdZfYUQXSUNLhdSTSLVZKahpVfYUSXWMYZXXjSLYSUTSZOSYShhhfXLRUlTbYUZafYRMPQYSZjlaVcWRXSVbnYKbNWTIWVXQMRVced"],["s22",125,[-0.10,0.69,2.38,4.08,5.77,7.47,9.16,10.86,12.55,14.25,15.94,17.64,19.34,21.03,22.73,24.42,26.12,27.81,29.51,31.20,32.90,34.59,36.29,37.98,39.68,41.37,43.07,44.76,46.46,48.15,49.85,51.54,53.24,54.93,55.50],"GHHHGGIIJJHHIGHHHIGGGGJHHJKHHHGHIIGHHHHIKJJHGGGGGHHGHIHIGIHJJGHGHFFHGFGHHGGIIHIHHJGGIJIHHGIHJJHGGHIHHIGGGGHGFHGIHHHHIHFHIIIIKFHGHGGIJJIIIHGGIHIHGFFJIIJJHHHGHIIGGHHHIJJJIGHGGGHHGHJHIHHGJJHHHIFFHHGGHIGFIIHJGGJGGHKJHGHIHJKIGGJJHIIGHGGGGGGGIIHHHIHFHJIHHJGHGIFGHHIIIJHGGIGHHFGGHHGJJGHIGGIIFGGGHIKJJHGGGGGHHGIKGIGGHKKGGGIGFGHFHHIHGIHHJGGKGGHJJIHGHHIJIGHJJHHHGHHGHHGGHIHGIHJIGHIIIHKGGGHFGGHJIHJHGGHGHGFGGHGGJJIIIGGHIFHGGIIKJJHGHGGFGHGHKGHFGHKJHGGHFFGGEHHIHFHHHJHHKHHHKIHHGGHJIIHHJJGHIGHHGIHGHHHHGIGJIGIJJJJKEGHHGFHIJIHIIHGHGHGGGGHGGIIHIIGGGIGGGGIIJKJHGGHFFGHFGJGIFGHLJHGGHFEFGDIHIHGIIHJIIKHHIJJHGGHGJIIHIJIGGHFHHGHHGHGGHFHGJHGIJIJJLDFHIGFHIJIGHIGGGHHGFGGGFGJJHHIGGGHGGHGIIKKJHIHHFFGHFGJGIGGGKJIIGHFEFGEHGIFGIIHKIHKHHHJIIHFHGJIJIIIHGGGGGGGHGHHHHHGHHJHFIIIJJLDGIHGFIJJHGHJGGGHIGEGGHGHIJIIIGGGGFGHHHHKIKIIHHGFGHFHJGIFGGKKHHGIFFGGFHGIGGIJFJIIKGHHJIJHFHFJIJIIIHHGFFGGGIGHHGHHGGGKHFIIIKJLEFHHGGIJJHGHJGGGGIHEGHIHHJJHJIHHHIFIHGHHKJJIHHHGGHIFHKHHFGGJJHHGIGFHGFHGIGGHIGJIJKGGHJJJHGGGJHIHIIIHHGFGFFIIIHGHHGHGKIFHIIKJLFGHHFEIIIHGHIHGHHIHEFHIHHJJHJIGGIIEHIGHHLJKIIHHGFHIFIKHIGGGKJHHGIFFHHFHGIGGHIGIHIKHHHKJJIGGFJIIGHJJIHHGGGGIIIHHHHGGHKHGIIJKJKEGGHGFHIJHHIIGGHHIHEFIJHHJKHIHHHIHDHIHIILKKJIGFGGHIFHKHJGHGKIHHFHFGHHFHGIGGGIHIHJKHHHKJIJFGFKIIGIIIHHHGGGGIHJHIIIHHHJHGIIIKJKEGHHGEIJIHGIIHGHHIIFGIJHIIJHIHHHHIEIIHHIMKKJIHEFGHHFHKHIGHHLJHIHIGGHHGHGIGFFIHKIHKHGHKIJJGHGKIHFHIIIHHFHGGIHIHIIIIHGJIHIIIKJLEHIIGEIJHIHIHHGGGIIGHJKHJKIHIIHHHHEHHGHILLMKHHEEHIIFHLHJGHHLJHHHIFGHIGHGIGFGJHIIIKHHHKHJKFGHJHIGHKJJIIGHGIIHHGIJIHHHJIHIIIJKMFIJHFFHJIIIJHHHHHIKHHJKHKLJJKIGIIGEHHIHILKMJIIFFHHIGHLHIGHILKJIHIFFHIGGGJHGGJIJIILIHIKHJJGHHKJJGHJJIHHHHHIJIIGHJIHHGIIHIIIJJNGJIGFEIKKJJKIIIHGJJHHJKILLJJJIHIKIHKJHGIMKMLJIGFHIIGHMHIGJILLIJHGFFIIFGGKIGIKIJJJMJHHLHJKHGHLKKGHLKIHHIJIJJIIGIIHGIIJJHKJIJKNEHHHHGJJKJJKJKIIGJKIIKMILMKJIHHJKJHJKIIJMKNLIIFGIJJFHMIIGIHLLIJHGGGIHEFHKIGJMIIKJOIIHLHKLHHIMKKHHLLHIIIJHJJIJGIJHHHJKKHKKKJLNGHHHHGJJLJJKJJIIGKJIILNJLNLJKIHILKHJKIIJNLOMIJGIIIIFJNKJGJIMKHJHHHGIGEGHKJHKMKIMKPJHIMJMLIHIOLKHINLHIIIKIKJIJGIKHIIJLKILJLJKOFGHGGGKKMJJLJJJIIMLIHKLILPNKJIHJLMKKJHHJMMPNJJGHIJIGKMKKGKJMMIJJHGFJHFGHLIGLOJILLQLKILKMMIHINLJJJNNIJJJNIKKKMHJLIJIJLKJKKLJJQHIIEGGLLOLKLLLJJHNNLJKNLLPPKKIHJLOKLKIHKOMPMJLGHJLLHKNIJEIJNMKJJKGHIIFHJMJHMPMKPNRLKIMJKNJIJOKLJKMNHJLJNJMLKLHKLJLJJLJKLKMIKSIIJGEGKKPNKNONJJJPONJNQLNOQMLIIJLOKOLIGLONRMKLIHMMKILPJKEIJPOMMLNGGILHIKMJJNPLLQOSLKLOJINJJKOLMMNNQJKNLOKNMKLJLNMMJKOKKMMOJNTLLJGEHMLSQLPONNLKOQOORTLNRWMLIJMNPLQLIHNQPTLLNJFKNLHNRKKFKMSQMMMMIHIMGJONKKNPPPSRXNLKOLLPKLKONLNLMQNNPNQLONKLKNOMOILRMLONSOQWKLJKIMMKRQOROPMLMRNRQTWMLSXOLJMNPQMQKJHOVSUJJOJFKPONPTKLIMNRROPPNJKKNKKOOKLNTPQQSYMNMTOMQMLMSRMNKMSOMOOQLQSONNNRMOILTMLQNTPPTJMJNIJLNTRSURSNORVPSQTZQRVYRMLNNSRKPKNKOVTWLKOJGMSRNQVMNLSQVWRRQQKIJSLNUREKQRPRRUaNQPWMPQOMPUSQRNNTLLRPQMOTOQRNVRPLQWOLOMUQOVORKOGGNSTORQRTOPTWSVRVaQTUZONRUQVRLTMRNQWRXKKPLIOWTORYQPMWNaaTUQOMJNVLUZUGKUTOUMScNPQXOQRQKQXXVTPQVOPTOTNRTOSOMYSMLRXQMPOWTQWOOHPGHOSUTOQUURNRZSWTUZMQXePQSUSZYPRQRNTcWaOJRMIPTRNPZWTNWNffVaORMKMXLUbTILXTRYQSjPRSWMRUPFSbYWWPTaUQVOVNUTOUQOYUMMRYUPSUXUTYNOKSJKSWXPNSYQRSUeVZPVZPUYeUTROObZORPQNViXeNMRKJQaVOTZWWPTKilZcQSNIMSHUdUKPdZSYRTjRRUcQRTPJTcXOQNOaYPRNUPUWSYONVTMRRaSJQUaWZcQUQSMGWVXPMQXPRVXhVXSWdKWahYPRKJaYRQORKUiahMNSKIQbXSUbSZUWKegYeRRKITTLWZUJObaYXRQlTQWcTUQMMUefSNONWZRWKTQRVUVRGWVTVOeSKPXbYcdSSOVNHVZcURWZPNWVdTXVciRVbdXTXQRdZWPTQIWlefORRHHTdaYceVbSYJfgVhXTJLRYOZYQGLZbTcTSiRRTbTUOGIQecTSPPVeWaMYRPTSSTJWYVVOfXQQVeabjUNPVNGYVdVUTZTRYTdXWTbgPYhjYXWVTfZTRRNITjdbLPTGKUZfgcjXVPXNbjWeWVJKTTGWTQHJdjWaSPlPUWcWZXOQQbaUTUSWcXaIdTSTVMSKVWVXMbWSOaeVckXQTVPAZVZZUVdWUWSYVUTdhNYjkXYTVSbbUPPPPXidiNMTIKPVidglYVSTQciYXPXKLPUETYTHPcfZhTQoSYZdaZWIPSaWVVQQUZXXKhUTTRLSJbaabQhWPVccWgtRLYZUJbTXWSVZRMQWdXVPZfPYnnYYNWPaZYTTNQahdmPOSIOPOhediVRTSMbmUVQfLJKTESURFOcfYfSPlTWZXYbbFUcaSZYTTUVWVFdUUXTJPKeXVZTfXUWfgZgsPJYdZVgWZYUYZNNSWgbcNUiRWgoUSPTKaXPRUQTZgahTOTKRNVfeekQQVVOfkUYNgNMNSDUTQCSZcRcbQnQTcYUZXJaheZaXOPQPWWKiXSfbHIOlaXeXeWaaiaWZoOJaeXXZZdaRebQNUXecaKQhQUenYWSSJWWSXVRSVbYgULUPPKUfdhjNWTLLhiVTKbKJPNEUVOERWXLbYVqVWcbWWaKUZgdaVNNPOTVGeVSfWEHRdZcgbiYVdmdWWlQMZTTZhdcbWhcWRVVUdaIQeTYipbUPSLTSSWVRNXbaiSLYRNDbjahiRbUQPjqXXJbLJIQKWSRCPVbMbcUqTVefWYaJZXhcZTSSSPQSKffZaWIQcbWRfZkbVZedTYjTOcVTZgbZdabWVJVURdZJSgTSgnXXPPNWVRSaRMVbdlVMSOOFdkUhhTaSQQcqZQJWMIJWJSNPJTZePfbVmMPYeYYVKTWjeXOSYYQTaRkjXaWJUfcZWbVfbXYabOYs"]];
for(var i=0;i<P.length;i++){var p=P[i],cv=document.getElementById(p[0]);if(!cv||!cv.getContext)continue;
var g=cv.getContext("2d"),W=p[1],E=p[2],S=p[3];
for(var b=0;b<E.length-1;b++){var y0=E[b],h=(b<E.length-2?E[b+1]-y0+1:cv.height-y0);for(var x=0;x<W;x++){g.fillStyle=V[A.indexOf(S.charAt(b*W+x))];g.fillRect(x,y0,1,h);}}}
})();
</script>
</body></html>
